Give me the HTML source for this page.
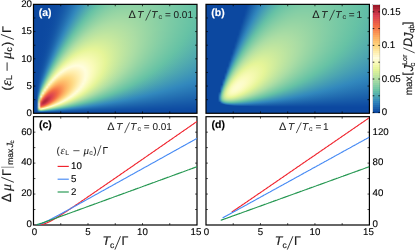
<!DOCTYPE html>
<html><head><meta charset="utf-8"><style>
html,body{margin:0;padding:0;background:#fff}
body{width:415px;height:250px;position:relative;overflow:hidden;font-family:"Liberation Sans",sans-serif}
.hm{position:absolute;overflow:hidden}
.hm div div{height:1px;width:100%}
svg{position:absolute;left:0;top:0;will-change:transform}
svg text{font-family:"Liberation Sans",sans-serif;text-rendering:geometricPrecision}
</style></head><body>
<div class="hm" style="left:33px;top:4px;width:164.0px;height:109.3px"><div style="width:164px;height:auto"><div style="background:linear-gradient(90deg,#0c48a0,#0c48a0,#0c48a0,#0c48a0,#0c48a0,#0c48a0,#0c48a0,#0c48a0,#0c49a0,#0d49a0,#0d4aa1,#0d4aa1,#0e4ca2,#104ea3,#1151a4,#1354a6,#1659a8,#195eaa,#1d64ad,#216bb0,#2572b3,#2979b6,#2e80ba,#3288bd,#388fba,#3e96b7,#449cb5,#4aa3b2,#50a9af,#55afad,#5ab4ab,#5ebaa9,#63bea7,#67c2a5,#6cc4a5,#70c6a5,#75c8a5,#78c9a5,#7ccaa5,#7ecca5,#81cda5,#83cda5,#85cea5,#87cfa5,#88cfa5,#89d0a4,#8ad0a4,#8bd0a4,#8bd1a4,#8cd1a4,#8cd1a4,#8cd1a4,#8bd1a4,#8bd0a4,#8ad0a4,#8ad0a4,#89d0a4,#88cfa5,#87cfa5,#86cfa5,#85cea5,#84cea5,#83cda5,#81cda5,#80cca5,#7fcca5,#7dcba5,#7ccaa5,#7acaa5,#79c9a5,#77c9a5,#76c8a5,#74c8a5,#73c7a5,#71c6a5,#70c6a5,#6ec5a5,#6cc5a5,#6bc4a5,#69c3a5,#68c3a5,#66c2a5,#65c1a5)"></div><div style="background:linear-gradient(90deg,#0c48a0,#0c48a0,#0c48a0,#0c48a0,#0c48a0,#0c48a0,#0c48a0,#0c48a0,#0c49a0,#0d49a0,#0d4aa1,#0e4ba1,#0e4ca2,#104ea3,#1251a4,#1455a6,#175aa8,#1a5fab,#1e65ad,#216cb0,#2673b4,#2a7bb7,#2f83bb,#348abc,#3a91b9,#4098b6,#469fb4,#4ca5b1,#52abae,#57b1ac,#5cb7aa,#60bca8,#65c1a6,#6ac3a5,#6fc5a5,#73c7a5,#77c9a5,#7bcaa5,#7ecba5,#81cca5,#83cda5,#85cea5,#87cfa5,#89d0a4,#8ad0a4,#8bd1a4,#8cd1a4,#8dd1a4,#8dd1a4,#8dd1a4,#8dd1a4,#8dd1a4,#8dd1a4,#8cd1a4,#8bd1a4,#8bd0a4,#8ad0a4,#89d0a4,#88cfa5,#87cfa5,#86cea5,#84cea5,#83cda5,#82cda5,#80cca5,#7fcca5,#7ecba5,#7ccba5,#7bcaa5,#79c9a5,#78c9a5,#76c8a5,#74c8a5,#73c7a5,#71c6a5,#70c6a5,#6ec5a5,#6dc5a5,#6bc4a5,#69c3a5,#68c3a5,#66c2a5,#65c1a5)"></div><div style="background:linear-gradient(90deg,#0c48a0,#0c48a0,#0c48a0,#0c48a0,#0c48a0,#0c48a0,#0c48a0,#0c48a0,#0c49a0,#0d49a1,#0d4aa1,#0e4ba1,#0f4ca2,#104fa3,#1252a4,#1456a6,#175ba9,#1b60ab,#1e67ae,#226eb1,#2775b4,#2b7db8,#3085bb,#368cbb,#3c93b8,#429ab5,#48a1b3,#4ea7b0,#54aead,#59b3ab,#5eb9a9,#63bea7,#67c2a5,#6cc5a5,#71c6a5,#76c8a5,#7acaa5,#7dcba5,#80cca5,#83cda5,#86cea5,#88cfa5,#89d0a4,#8bd0a4,#8cd1a4,#8dd1a4,#8ed2a4,#8ed2a4,#8ed2a4,#8fd2a4,#8ed2a4,#8ed2a4,#8ed2a4,#8dd1a4,#8dd1a4,#8cd1a4,#8bd0a4,#8ad0a4,#89d0a4,#88cfa5,#86cfa5,#85cea5,#84cea5,#82cda5,#81cda5,#80cca5,#7ecba5,#7ccba5,#7bcaa5,#79caa5,#78c9a5,#76c8a5,#75c8a5,#73c7a5,#71c6a5,#70c6a5,#6ec5a5,#6dc5a5,#6bc4a5,#69c3a5,#68c3a5,#66c2a5,#65c1a5)"></div><div style="background:linear-gradient(90deg,#0c48a0,#0c48a0,#0c48a0,#0c48a0,#0c48a0,#0c48a0,#0c48a0,#0c48a0,#0c49a0,#0d49a1,#0d4aa1,#0e4ba1,#0f4da2,#104fa3,#1252a5,#1557a7,#185ca9,#1b62ac,#1f68af,#236fb2,#2877b5,#2d7fb9,#3187bc,#388eba,#3e95b7,#449cb5,#4aa3b2,#50aaaf,#56b0ac,#5bb6aa,#60bba8,#65c1a6,#6ac4a5,#6fc6a5,#74c7a5,#78c9a5,#7ccba5,#80cca5,#83cda5,#85cea5,#88cfa5,#8ad0a4,#8bd1a4,#8dd1a4,#8ed2a4,#8fd2a4,#8fd2a4,#90d2a4,#90d2a4,#90d2a4,#90d2a4,#8fd2a4,#8fd2a4,#8ed2a4,#8ed1a4,#8dd1a4,#8cd1a4,#8bd0a4,#8ad0a4,#88cfa5,#87cfa5,#86cea5,#84cea5,#83cda5,#81cda5,#80cca5,#7ecca5,#7dcba5,#7bcaa5,#7acaa5,#78c9a5,#76c8a5,#75c8a5,#73c7a5,#72c7a5,#70c6a5,#6ec5a5,#6dc5a5,#6bc4a5,#69c3a5,#68c3a5,#66c2a5,#65c1a6)"></div><div style="background:linear-gradient(90deg,#0c48a0,#0c48a0,#0c48a0,#0c48a0,#0c48a0,#0c48a0,#0c48a0,#0c48a0,#0c49a0,#0d49a1,#0d4aa1,#0e4ba1,#0f4da2,#1150a3,#1353a5,#1558a7,#185da9,#1c63ac,#206aaf,#2471b3,#2979b6,#2e81ba,#3389bd,#3990ba,#4098b7,#469fb4,#4da6b1,#52acae,#58b2ab,#5db8a9,#62bea7,#67c2a5,#6dc5a5,#72c7a5,#77c9a5,#7bcaa5,#7fcca5,#82cda5,#85cea5,#88cfa5,#8ad0a4,#8cd1a4,#8ed1a4,#8fd2a4,#90d2a4,#91d3a4,#91d3a4,#91d3a4,#92d3a4,#91d3a4,#91d3a4,#91d3a4,#90d3a4,#8fd2a4,#8fd2a4,#8ed2a4,#8dd1a4,#8cd1a4,#8ad0a4,#89d0a4,#88cfa5,#86cfa5,#85cea5,#83cea5,#82cda5,#80cca5,#7fcca5,#7dcba5,#7ccaa5,#7acaa5,#78c9a5,#77c9a5,#75c8a5,#73c7a5,#72c7a5,#70c6a5,#6ec5a5,#6dc5a5,#6bc4a5,#69c3a5,#68c3a5,#66c2a5,#65c1a6)"></div><div style="background:linear-gradient(90deg,#0c48a0,#0c48a0,#0c48a0,#0c48a0,#0c48a0,#0c48a0,#0c48a0,#0c48a0,#0c49a0,#0d49a1,#0d4aa1,#0e4ba2,#0f4da2,#1150a4,#1354a5,#1658a7,#195eaa,#1d64ad,#216bb0,#2573b3,#2a7bb7,#2f83bb,#358bbc,#3b93b9,#429ab6,#49a1b3,#4fa8b0,#55afad,#5ab5aa,#60bba8,#65c0a6,#6ac4a5,#70c6a5,#75c8a5,#79caa5,#7ecba5,#81cda5,#85cea5,#88cfa5,#8ad0a4,#8cd1a4,#8ed2a4,#90d2a4,#91d3a4,#92d3a4,#92d3a4,#93d4a4,#93d4a4,#93d4a4,#93d4a4,#93d3a4,#92d3a4,#91d3a4,#91d3a4,#90d2a4,#8fd2a4,#8ed2a4,#8cd1a4,#8bd1a4,#8ad0a4,#88cfa5,#87cfa5,#86cea5,#84cea5,#82cda5,#81cca5,#7fcca5,#7ecba5,#7ccba5,#7acaa5,#79c9a5,#77c9a5,#75c8a5,#73c7a5,#72c7a5,#70c6a5,#6ec5a5,#6dc5a5,#6bc4a5,#69c3a5,#68c3a5,#66c2a5,#65c1a6)"></div><div style="background:linear-gradient(90deg,#0c48a0,#0c48a0,#0c48a0,#0c48a0,#0c48a0,#0c48a0,#0c48a0,#0c49a0,#0d49a0,#0d49a1,#0d4aa1,#0e4ca2,#0f4ea3,#1151a4,#1354a6,#1659a8,#1a5faa,#1e66ad,#226db1,#2775b4,#2b7db8,#3085bc,#378dbb,#3d95b8,#449cb5,#4ba4b2,#51abaf,#57b1ac,#5db7a9,#62bda7,#67c2a5,#6dc5a5,#73c7a5,#78c9a5,#7ccba5,#80cca5,#84cea5,#87cfa5,#8ad0a4,#8cd1a4,#8fd2a4,#90d3a4,#92d3a4,#93d4a4,#94d4a4,#94d4a4,#95d4a4,#95d4a4,#95d4a4,#94d4a4,#94d4a4,#93d4a4,#93d3a4,#92d3a4,#91d3a4,#90d2a4,#8ed2a4,#8dd1a4,#8cd1a4,#8bd0a4,#89d0a4,#88cfa5,#86cfa5,#84cea5,#83cda5,#81cda5,#80cca5,#7ecba5,#7ccba5,#7acaa5,#79c9a5,#77c9a5,#75c8a5,#74c7a5,#72c7a5,#70c6a5,#6ec5a5,#6dc5a5,#6bc4a5,#69c3a5,#68c3a5,#66c2a5,#65c1a6)"></div><div style="background:linear-gradient(90deg,#0c48a0,#0c48a0,#0c48a0,#0c48a0,#0c48a0,#0c48a0,#0c48a0,#0c49a0,#0d49a0,#0d49a1,#0d4aa1,#0e4ca2,#104ea3,#1151a4,#1455a6,#175aa8,#1a60ab,#1e67ae,#236fb2,#2877b5,#2d7fb9,#3288bd,#398fba,#4097b7,#469fb4,#4da6b1,#53adae,#59b4ab,#5fbaa8,#64c0a6,#6ac4a5,#70c6a5,#76c8a5,#7bcaa5,#7fcca5,#83cda5,#87cfa5,#8ad0a4,#8dd1a4,#8fd2a4,#91d3a4,#92d3a4,#94d4a4,#95d4a4,#95d5a4,#96d5a4,#96d5a4,#96d5a4,#96d5a4,#96d5a4,#95d4a4,#95d4a4,#94d4a4,#93d4a4,#92d3a4,#91d3a4,#8fd2a4,#8ed2a4,#8dd1a4,#8bd1a4,#8ad0a4,#88cfa5,#87cfa5,#85cea5,#83cda5,#82cda5,#80cca5,#7ecba5,#7ccba5,#7bcaa5,#79c9a5,#77c9a5,#75c8a5,#74c7a5,#72c7a5,#70c6a5,#6ec5a5,#6dc5a5,#6bc4a5,#69c3a5,#67c3a5,#66c2a5,#65c0a6)"></div><div style="background:linear-gradient(90deg,#0c48a0,#0c48a0,#0c48a0,#0c48a0,#0c48a0,#0c48a0,#0c48a0,#0c49a0,#0d49a0,#0d4aa1,#0e4ba1,#0e4ca2,#104ea3,#1252a4,#1456a6,#175ba9,#1b62ac,#1f69af,#2470b2,#2979b6,#2e81ba,#348abc,#3b92b9,#429ab6,#49a1b3,#4fa9b0,#56b0ad,#5cb6aa,#61bda7,#67c2a5,#6dc5a5,#73c7a5,#79c9a5,#7dcba5,#82cda5,#86cea5,#89d0a4,#8cd1a4,#8fd2a4,#91d3a4,#93d4a4,#95d4a4,#96d5a4,#97d5a4,#97d5a4,#98d5a4,#98d6a4,#98d5a4,#98d5a4,#97d5a4,#96d5a4,#96d5a4,#95d4a4,#94d4a4,#93d4a4,#92d3a4,#90d3a4,#8fd2a4,#8dd1a4,#8cd1a4,#8ad0a4,#89d0a4,#87cfa5,#85cea5,#84cea5,#82cda5,#80cca5,#7ecca5,#7dcba5,#7bcaa5,#79c9a5,#77c9a5,#75c8a5,#74c7a5,#72c7a5,#70c6a5,#6ec5a5,#6dc5a5,#6bc4a5,#69c3a5,#67c3a5,#66c2a5,#64c0a6)"></div><div style="background:linear-gradient(90deg,#0c48a0,#0c48a0,#0c48a0,#0c48a0,#0c48a0,#0c48a0,#0c48a0,#0c49a0,#0d49a0,#0d4aa1,#0e4ba1,#0f4ca2,#104fa3,#1252a5,#1557a7,#185ca9,#1c63ac,#206ab0,#2572b3,#2a7bb7,#2f83bb,#368cbb,#3d94b8,#449cb5,#4ba4b2,#52abae,#58b2ab,#5eb9a9,#64bfa6,#6ac4a5,#70c6a5,#76c8a5,#7ccaa5,#80cca5,#85cea5,#89d0a4,#8cd1a4,#8fd2a4,#91d3a4,#94d4a4,#95d5a4,#97d5a4,#98d6a4,#99d6a4,#99d6a4,#99d6a4,#9ad6a4,#99d6a4,#99d6a4,#98d6a4,#98d5a4,#97d5a4,#96d5a4,#95d4a4,#94d4a4,#92d3a4,#91d3a4,#90d2a4,#8ed2a4,#8cd1a4,#8bd0a4,#89d0a4,#88cfa5,#86cea5,#84cea5,#82cda5,#80cca5,#7fcca5,#7dcba5,#7bcaa5,#79caa5,#77c9a5,#76c8a5,#74c7a5,#72c7a5,#70c6a5,#6ec5a5,#6cc5a5,#6bc4a5,#69c3a5,#67c2a5,#66c2a5,#64c0a6)"></div><div style="background:linear-gradient(90deg,#0c48a0,#0c48a0,#0c48a0,#0c48a0,#0c48a0,#0c48a0,#0c48a0,#0c49a0,#0d49a0,#0d4aa1,#0e4ba1,#0f4da2,#104fa3,#1353a5,#1558a7,#195eaa,#1d64ad,#216cb0,#2674b4,#2b7db8,#3186bc,#388eba,#3f97b7,#469fb4,#4da6b0,#54aead,#5ab5aa,#60bca8,#66c2a5,#6dc5a5,#73c7a5,#79caa5,#7fcca5,#83cda5,#88cfa5,#8bd1a4,#8fd2a4,#92d3a4,#94d4a4,#96d5a4,#98d5a4,#99d6a4,#9ad6a4,#9bd7a4,#9bd7a4,#9bd7a4,#9bd7a4,#9bd7a4,#9ad7a4,#9ad6a4,#99d6a4,#98d6a4,#97d5a4,#96d5a4,#95d4a4,#93d4a4,#92d3a4,#90d3a4,#8fd2a4,#8dd1a4,#8bd1a4,#8ad0a4,#88cfa5,#86cfa5,#84cea5,#83cda5,#81cca5,#7fcca5,#7dcba5,#7bcaa5,#79caa5,#77c9a5,#76c8a5,#74c7a5,#72c7a5,#70c6a5,#6ec5a5,#6cc5a5,#6bc4a5,#69c3a5,#67c2a5,#65c1a5,#64c0a6)"></div><div style="background:linear-gradient(90deg,#0c48a0,#0c48a0,#0c48a0,#0c48a0,#0c48a0,#0c48a0,#0c48a0,#0c49a0,#0d49a1,#0d4aa1,#0e4ba1,#0f4da2,#1150a4,#1354a5,#1659a8,#1a5faa,#1e66ae,#226eb1,#2776b5,#2d7fb9,#3288bd,#3a91b9,#4199b6,#49a1b3,#50a9af,#56b1ac,#5db8a9,#63bfa6,#69c3a5,#70c6a5,#77c9a5,#7ccba5,#82cda5,#86cfa5,#8bd0a4,#8ed2a4,#91d3a4,#94d4a4,#96d5a4,#98d6a4,#9ad6a4,#9bd7a4,#9cd7a4,#9dd7a4,#9dd7a4,#9dd7a4,#9dd7a4,#9cd7a4,#9cd7a4,#9bd7a4,#9ad6a4,#99d6a4,#98d6a4,#97d5a4,#96d5a4,#94d4a4,#93d3a4,#91d3a4,#8fd2a4,#8ed2a4,#8cd1a4,#8ad0a4,#88cfa5,#87cfa5,#85cea5,#83cda5,#81cda5,#7fcca5,#7dcba5,#7bcaa5,#79caa5,#77c9a5,#76c8a5,#74c7a5,#72c7a5,#70c6a5,#6ec5a5,#6cc4a5,#6ac4a5,#69c3a5,#67c2a5,#65c1a5,#64c0a6)"></div><div style="background:linear-gradient(90deg,#0c48a0,#0c48a0,#0c48a0,#0c48a0,#0c48a0,#0c48a0,#0c48a0,#0c49a0,#0d49a1,#0d4aa1,#0e4ba1,#0f4da2,#1150a4,#1354a6,#175aa8,#1a60ab,#1f67ae,#2370b2,#2978b6,#2e81ba,#348bbc,#3c93b8,#449cb5,#4ba4b1,#52acae,#59b3ab,#5fbba8,#65c1a5,#6dc5a5,#74c7a5,#7acaa5,#80cca5,#85cea5,#89d0a4,#8dd1a4,#91d3a4,#94d4a4,#97d5a4,#99d6a4,#9bd7a4,#9cd7a4,#9dd8a4,#9ed8a4,#9ed8a4,#9fd8a4,#9fd8a4,#9ed8a4,#9ed8a4,#9dd8a4,#9cd7a4,#9bd7a4,#9ad6a4,#99d6a4,#98d6a4,#96d5a4,#95d4a4,#93d4a4,#92d3a4,#90d2a4,#8ed2a4,#8cd1a4,#8bd0a4,#89d0a4,#87cfa5,#85cea5,#83cda5,#81cda5,#7fcca5,#7dcba5,#7bcaa5,#79caa5,#77c9a5,#76c8a5,#74c7a5,#72c7a5,#70c6a5,#6ec5a5,#6cc4a5,#6ac4a5,#69c3a5,#67c2a5,#65c1a5,#64c0a6)"></div><div style="background:linear-gradient(90deg,#0c48a0,#0c48a0,#0c48a0,#0c48a0,#0c48a0,#0c48a0,#0c48a0,#0c49a0,#0d49a1,#0d4aa1,#0e4ca2,#0f4ea3,#1151a4,#1455a6,#175ba9,#1b61ac,#2069af,#2571b3,#2a7ab7,#3084bb,#368dbb,#3e96b7,#469eb4,#4da7b0,#55afad,#5cb6aa,#62bea7,#69c3a5,#70c6a5,#77c9a5,#7dcba5,#83cda5,#88cfa5,#8cd1a4,#90d3a4,#94d4a4,#97d5a4,#99d6a4,#9bd7a4,#9dd8a4,#9ed8a4,#9fd8a4,#a0d9a4,#a0d9a4,#a0d9a4,#a0d9a4,#a0d9a4,#9fd8a4,#9fd8a4,#9ed8a4,#9dd7a4,#9bd7a4,#9ad6a4,#99d6a4,#97d5a4,#96d5a4,#94d4a4,#92d3a4,#91d3a4,#8fd2a4,#8dd1a4,#8bd0a4,#89d0a4,#87cfa5,#85cea5,#83cda5,#81cda5,#7fcca5,#7dcba5,#7bcaa5,#79caa5,#77c9a5,#76c8a5,#74c7a5,#72c7a5,#70c6a5,#6ec5a5,#6cc4a5,#6ac4a5,#68c3a5,#66c2a5,#65c1a5,#64bfa6)"></div><div style="background:linear-gradient(90deg,#0c48a0,#0c48a0,#0c48a0,#0c48a0,#0c48a0,#0c48a0,#0c48a0,#0c49a0,#0d49a1,#0d4aa1,#0e4ca2,#104ea3,#1252a4,#1456a6,#185ca9,#1c63ac,#216bb0,#2673b4,#2b7db8,#3186bc,#398fba,#4198b6,#48a1b3,#50a9af,#57b2ac,#5eb9a9,#65c1a6,#6cc4a5,#74c7a5,#7acaa5,#81cca5,#86cfa5,#8bd1a4,#90d2a4,#93d4a4,#97d5a4,#9ad6a4,#9cd7a4,#9ed8a4,#9fd8a4,#a1d9a4,#a1d9a4,#a2d9a4,#a2daa4,#a2daa4,#a2d9a4,#a1d9a4,#a1d9a4,#a0d9a4,#9fd8a4,#9ed8a4,#9dd7a4,#9bd7a4,#9ad6a4,#98d6a4,#96d5a4,#95d4a4,#93d4a4,#91d3a4,#8fd2a4,#8dd1a4,#8bd1a4,#89d0a4,#87cfa5,#85cea5,#83cea5,#81cda5,#7fcca5,#7dcba5,#7bcaa5,#79caa5,#77c9a5,#75c8a5,#74c7a5,#72c7a5,#70c6a5,#6ec5a5,#6cc4a5,#6ac4a5,#68c3a5,#66c2a5,#65c1a6,#63bfa6)"></div><div style="background:linear-gradient(90deg,#0c48a0,#0c48a0,#0c48a0,#0c48a0,#0c48a0,#0c48a0,#0c48a0,#0d49a0,#0d49a1,#0d4aa1,#0e4ca2,#104fa3,#1252a5,#1557a7,#195daa,#1d64ad,#226db1,#2776b5,#2d7fb9,#3389bd,#3b92b9,#439bb5,#4ba4b2,#53acae,#5ab5ab,#61bca7,#68c3a5,#70c6a5,#77c9a5,#7ecba5,#84cea5,#89d0a4,#8ed2a4,#93d3a4,#96d5a4,#9ad6a4,#9cd7a4,#9ed8a4,#a0d9a4,#a2d9a4,#a3daa4,#a4daa4,#a4daa4,#a4daa4,#a4daa4,#a4daa4,#a3daa4,#a2daa4,#a1d9a4,#a0d9a4,#9fd8a4,#9ed8a4,#9cd7a4,#9bd7a4,#99d6a4,#97d5a4,#95d5a4,#94d4a4,#92d3a4,#90d2a4,#8ed2a4,#8cd1a4,#8ad0a4,#88cfa5,#86cea5,#84cea5,#82cda5,#80cca5,#7ecba5,#7bcaa5,#79caa5,#77c9a5,#75c8a5,#73c7a5,#71c6a5,#6fc6a5,#6ec5a5,#6cc4a5,#6ac3a5,#68c3a5,#66c2a5,#65c0a6,#63bfa6)"></div><div style="background:linear-gradient(90deg,#0c48a0,#0c48a0,#0c48a0,#0c48a0,#0c48a0,#0c48a0,#0c49a0,#0d49a0,#0d4aa1,#0e4ba1,#0f4ca2,#104fa3,#1253a5,#1558a7,#195eaa,#1e66ae,#236eb1,#2878b6,#2e82ba,#358bbc,#3d95b8,#459eb4,#4ea7b0,#55afad,#5db8a9,#64bfa6,#6bc4a5,#73c7a5,#7bcaa5,#81cda5,#87cfa5,#8dd1a4,#92d3a4,#96d5a4,#99d6a4,#9cd7a4,#9fd8a4,#a1d9a4,#a3daa4,#a4daa4,#a5dba4,#a6dba4,#a6dba4,#a6dba4,#a6dba4,#a5dba4,#a5daa4,#a4daa4,#a3daa4,#a1d9a4,#a0d9a4,#9fd8a4,#9dd8a4,#9bd7a4,#9ad6a4,#98d6a4,#96d5a4,#94d4a4,#92d3a4,#90d3a4,#8ed2a4,#8cd1a4,#8ad0a4,#88cfa5,#86cea5,#84cea5,#82cda5,#80cca5,#7ecba5,#7bcaa5,#79caa5,#77c9a5,#75c8a5,#73c7a5,#71c6a5,#6fc6a5,#6dc5a5,#6bc4a5,#69c3a5,#68c3a5,#66c2a5,#64c0a6,#63bfa6)"></div><div style="background:linear-gradient(90deg,#0c48a0,#0c48a0,#0c48a0,#0c48a0,#0c48a0,#0c48a0,#0c49a0,#0d49a0,#0d4aa1,#0e4ba1,#0f4da2,#1050a3,#1354a5,#1659a8,#1a60ab,#1f68ae,#2470b2,#2a7ab7,#3084bb,#378ebb,#4097b7,#48a1b3,#50aaaf,#58b2ab,#5fbba8,#67c2a5,#6fc6a5,#77c9a5,#7ecca5,#85cea5,#8bd0a4,#90d2a4,#95d4a4,#99d6a4,#9cd7a4,#9fd8a4,#a2d9a4,#a4daa4,#a5dba4,#a6dba4,#a7dca4,#a8dca4,#a8dca4,#a8dca4,#a7dca4,#a7dba4,#a6dba4,#a5dba4,#a4daa4,#a3daa4,#a1d9a4,#a0d9a4,#9ed8a4,#9cd7a4,#9ad7a4,#99d6a4,#97d5a4,#95d4a4,#93d3a4,#91d3a4,#8fd2a4,#8cd1a4,#8ad0a4,#88cfa5,#86cfa5,#84cea5,#82cda5,#80cca5,#7ecba5,#7bcaa5,#79caa5,#77c9a5,#75c8a5,#73c7a5,#71c6a5,#6fc6a5,#6dc5a5,#6bc4a5,#69c3a5,#67c3a5,#66c2a5,#64c0a6,#63bea6)"></div><div style="background:linear-gradient(90deg,#0c48a0,#0c48a0,#0c48a0,#0c48a0,#0c48a0,#0c48a0,#0c49a0,#0d49a0,#0d4aa1,#0e4ba1,#0f4da2,#1150a4,#1354a6,#175aa8,#1b61ab,#2069af,#2573b3,#2b7cb8,#3187bc,#3a90ba,#429ab6,#4ba4b2,#53adae,#5bb5aa,#62bea7,#6ac4a5,#73c7a5,#7bcaa5,#82cda5,#89d0a4,#8ed2a4,#93d4a4,#98d6a4,#9cd7a4,#9fd8a4,#a2daa4,#a4daa4,#a6dba4,#a8dca4,#a9dca4,#a9dca4,#aadda4,#aadda4,#aadca4,#a9dca4,#a8dca4,#a7dca4,#a6dba4,#a5dba4,#a4daa4,#a2daa4,#a1d9a4,#9fd8a4,#9dd8a4,#9bd7a4,#99d6a4,#97d5a4,#95d4a4,#93d4a4,#91d3a4,#8fd2a4,#8dd1a4,#8bd0a4,#88cfa5,#86cfa5,#84cea5,#82cda5,#80cca5,#7ecba5,#7bcaa5,#79caa5,#77c9a5,#75c8a5,#73c7a5,#71c6a5,#6fc5a5,#6dc5a5,#6bc4a5,#69c3a5,#67c2a5,#65c1a5,#64c0a6,#63bea7)"></div><div style="background:linear-gradient(90deg,#0c48a0,#0c48a0,#0c48a0,#0c48a0,#0c48a0,#0c48a0,#0c49a0,#0d49a0,#0d4aa1,#0e4ba1,#0f4da2,#1151a4,#1455a6,#175ba9,#1c63ac,#216bb0,#2775b4,#2d7fb9,#3389bc,#3c93b8,#459db4,#4da7b0,#56b0ad,#5eb9a9,#65c1a5,#6ec5a5,#77c9a5,#7fcca5,#86cea5,#8cd1a4,#92d3a4,#97d5a4,#9bd7a4,#9fd8a4,#a2daa4,#a5dba4,#a7dba4,#a9dca4,#aadda4,#abdda4,#abdda4,#acdda4,#acdda4,#abdda4,#abdda4,#aadda4,#a9dca4,#a8dca4,#a6dba4,#a5dba4,#a3daa4,#a1d9a4,#a0d9a4,#9ed8a4,#9cd7a4,#9ad6a4,#98d5a4,#96d5a4,#93d4a4,#91d3a4,#8fd2a4,#8dd1a4,#8bd0a4,#88cfa5,#86cfa5,#84cea5,#82cda5,#80cca5,#7dcba5,#7bcaa5,#79c9a5,#77c9a5,#75c8a5,#73c7a5,#71c6a5,#6fc5a5,#6dc5a5,#6bc4a5,#69c3a5,#67c2a5,#65c1a5,#64bfa6,#62bea7)"></div><div style="background:linear-gradient(90deg,#0c48a0,#0c48a0,#0c48a0,#0c48a0,#0c48a0,#0c48a0,#0c49a0,#0d49a1,#0d4aa1,#0e4ba2,#0f4ea3,#1151a4,#1456a6,#185ca9,#1d64ad,#226db1,#2877b5,#2e81ba,#368cbb,#3f96b7,#47a0b3,#50aaaf,#59b3ab,#61bca7,#69c3a5,#72c7a5,#7bcaa5,#82cda5,#89d0a4,#90d2a4,#95d5a4,#9ad6a4,#9fd8a4,#a2daa4,#a5dba4,#a8dca4,#aadda4,#abdda4,#acdea4,#addea4,#addea4,#addea4,#addea4,#addea4,#acdda4,#abdda4,#aadda4,#a9dca4,#a7dca4,#a6dba4,#a4daa4,#a2daa4,#a0d9a4,#9fd8a4,#9cd7a4,#9ad6a4,#98d6a4,#96d5a4,#94d4a4,#92d3a4,#8fd2a4,#8dd1a4,#8bd0a4,#89d0a4,#86cfa5,#84cea5,#82cda5,#80cca5,#7dcba5,#7bcaa5,#79c9a5,#77c9a5,#75c8a5,#73c7a5,#70c6a5,#6ec5a5,#6cc4a5,#6ac4a5,#68c3a5,#66c2a5,#65c1a6,#63bfa6,#62bda7)"></div><div style="background:linear-gradient(90deg,#0c48a0,#0c48a0,#0c48a0,#0c48a0,#0c48a0,#0c48a0,#0c49a0,#0d49a1,#0d4aa1,#0e4ca2,#104ea3,#1252a4,#1557a7,#195eaa,#1e66ae,#236fb2,#2979b6,#3084bb,#388fba,#4199b6,#4aa3b2,#53adae,#5cb6aa,#64bfa6,#6dc5a5,#76c8a5,#7fcca5,#86cfa5,#8dd1a4,#94d4a4,#99d6a4,#9ed8a4,#a2d9a4,#a5dba4,#a8dca4,#abdda4,#acdea4,#aedea3,#aedea3,#afdfa3,#afdfa3,#afdfa3,#afdfa3,#aedea3,#aedea3,#addea4,#acdda4,#aadda4,#a9dca4,#a7dba4,#a5dba4,#a3daa4,#a1d9a4,#9fd8a4,#9dd8a4,#9bd7a4,#99d6a4,#96d5a4,#94d4a4,#92d3a4,#90d2a4,#8dd1a4,#8bd0a4,#89d0a4,#86cfa5,#84cea5,#82cda5,#80cca5,#7dcba5,#7bcaa5,#79c9a5,#77c8a5,#74c8a5,#72c7a5,#70c6a5,#6ec5a5,#6cc4a5,#6ac4a5,#68c3a5,#66c2a5,#65c0a6,#63bfa6,#62bda7)"></div><div style="background:linear-gradient(90deg,#0c48a0,#0c48a0,#0c48a0,#0c48a0,#0c48a0,#0c48a0,#0c49a0,#0d49a1,#0d4aa1,#0e4ca2,#104fa3,#1253a5,#1658a7,#1a5fab,#1f68ae,#2571b3,#2b7cb7,#3187bd,#3a91b9,#449cb5,#4da6b1,#56b0ac,#5fbaa8,#67c2a5,#71c6a5,#7acaa5,#83cda5,#8ad0a4,#91d3a4,#97d5a4,#9dd7a4,#a1d9a4,#a5dba4,#a9dca4,#abdda4,#addea4,#afdea3,#b0dfa3,#b0dfa3,#b1dfa3,#b1dfa3,#b1dfa3,#b0dfa3,#b0dfa3,#afdfa3,#aedea3,#addea4,#abdda4,#aadda4,#a8dca4,#a6dba4,#a4daa4,#a2d9a4,#a0d9a4,#9ed8a4,#9bd7a4,#99d6a4,#97d5a4,#95d4a4,#92d3a4,#90d2a4,#8dd1a4,#8bd1a4,#89d0a4,#86cfa5,#84cea5,#82cda5,#7fcca5,#7dcba5,#7bcaa5,#79c9a5,#76c8a5,#74c8a5,#72c7a5,#70c6a5,#6ec5a5,#6cc4a5,#6ac3a5,#68c3a5,#66c2a5,#64c0a6,#63bea7,#61bda7)"></div><div style="background:linear-gradient(90deg,#0c48a0,#0c48a0,#0c48a0,#0c48a0,#0c48a0,#0c48a0,#0c49a0,#0d49a1,#0d4aa1,#0f4ca2,#104fa3,#1353a5,#1659a8,#1b61ab,#206aaf,#2674b4,#2c7eb9,#348abc,#3d94b8,#479fb3,#50a9af,#59b4ab,#62bda7,#6bc4a5,#75c8a5,#7ecca5,#87cfa5,#8ed2a4,#95d4a4,#9bd7a4,#a0d9a4,#a5dba4,#a9dca4,#acdda4,#aedea3,#b0dfa3,#b1dfa3,#b2e0a3,#b2e0a2,#b3e0a2,#b3e0a2,#b2e0a2,#b2e0a3,#b1dfa3,#b0dfa3,#afdfa3,#aedea3,#acdea4,#abdda4,#a9dca4,#a7dba4,#a5dba4,#a3daa4,#a0d9a4,#9ed8a4,#9cd7a4,#9ad6a4,#97d5a4,#95d4a4,#92d3a4,#90d2a4,#8ed1a4,#8bd1a4,#89d0a4,#86cfa5,#84cea5,#82cda5,#7fcca5,#7dcba5,#7bcaa5,#78c9a5,#76c8a5,#74c7a5,#72c7a5,#70c6a5,#6dc5a5,#6bc4a5,#69c3a5,#67c2a5,#65c1a5,#64c0a6,#62bea7,#61bca7)"></div><div style="background:linear-gradient(90deg,#0c48a0,#0c48a0,#0c48a0,#0c48a0,#0c48a0,#0c48a0,#0d49a0,#0d4aa1,#0e4ba1,#0f4da2,#1150a3,#1354a6,#175aa8,#1c62ac,#216cb0,#2776b5,#2e81ba,#368dbb,#4097b7,#4aa2b2,#53adae,#5cb7aa,#65c1a6,#6fc6a5,#79caa5,#83cda5,#8bd0a4,#92d3a4,#99d6a4,#9fd8a4,#a4daa4,#a8dca4,#acdda4,#aedea3,#b0dfa3,#b2e0a3,#b3e0a2,#b4e1a2,#b5e1a2,#b5e1a2,#b4e1a2,#b4e1a2,#b3e0a2,#b2e0a2,#b1e0a3,#b0dfa3,#afdfa3,#addea4,#acdda4,#aadda4,#a8dca4,#a6dba4,#a3daa4,#a1d9a4,#9fd8a4,#9cd7a4,#9ad6a4,#97d5a4,#95d4a4,#93d3a4,#90d2a4,#8ed2a4,#8bd1a4,#89d0a4,#86cfa5,#84cea5,#81cda5,#7fcca5,#7dcba5,#7acaa5,#78c9a5,#76c8a5,#74c7a5,#71c6a5,#6fc6a5,#6dc5a5,#6bc4a5,#69c3a5,#67c2a5,#65c1a5,#64bfa6,#62bea7,#61bca7)"></div><div style="background:linear-gradient(90deg,#0c48a0,#0c48a0,#0c48a0,#0c48a0,#0c48a0,#0c48a0,#0d49a0,#0d4aa1,#0e4ba1,#0f4da2,#1150a4,#1455a6,#185ca9,#1d64ad,#226eb1,#2978b6,#3084bb,#398fba,#439bb5,#4da6b1,#56b0ac,#5fbba8,#69c3a5,#74c7a5,#7ecba5,#87cfa5,#8fd2a4,#96d5a4,#9dd8a4,#a3daa4,#a8dca4,#acdda4,#afdea3,#b1dfa3,#b3e0a2,#b4e1a2,#b6e1a2,#b6e2a2,#b7e2a2,#b6e2a2,#b6e2a2,#b6e1a2,#b5e1a2,#b4e1a2,#b3e0a2,#b1e0a3,#b0dfa3,#aedea3,#addea4,#abdda4,#a9dca4,#a6dba4,#a4daa4,#a2d9a4,#9fd8a4,#9dd7a4,#9ad6a4,#98d5a4,#95d4a4,#93d3a4,#90d2a4,#8ed2a4,#8bd1a4,#89d0a4,#86cfa5,#84cea5,#81cda5,#7fcca5,#7ccba5,#7acaa5,#78c9a5,#75c8a5,#73c7a5,#71c6a5,#6fc5a5,#6dc5a5,#6ac4a5,#68c3a5,#66c2a5,#65c1a6,#63bfa6,#62bda7,#60bca8)"></div><div style="background:linear-gradient(90deg,#0c48a0,#0c48a0,#0c48a0,#0c48a0,#0c48a0,#0c48a0,#0d49a0,#0d4aa1,#0e4ba1,#0f4da2,#1151a4,#1456a6,#195daa,#1e66ad,#2470b2,#2a7bb7,#3187bd,#3b92b9,#469eb4,#50a9af,#59b4ab,#63bea7,#6dc5a5,#78c9a5,#82cda5,#8bd1a4,#93d4a4,#9bd7a4,#a1d9a4,#a7dba4,#abdda4,#afdfa3,#b2e0a3,#b4e1a2,#b6e1a2,#b7e2a2,#b8e2a1,#b8e2a1,#b8e2a1,#b8e2a1,#b8e2a1,#b7e2a2,#b6e2a2,#b5e1a2,#b4e1a2,#b2e0a2,#b1dfa3,#afdfa3,#addea4,#acdda4,#a9dca4,#a7dba4,#a5daa4,#a2daa4,#a0d9a4,#9dd8a4,#9ad7a4,#98d6a4,#95d5a4,#93d4a4,#90d3a4,#8ed2a4,#8bd1a4,#89d0a4,#86cfa5,#84cea5,#81cda5,#7fcca5,#7ccba5,#7acaa5,#77c9a5,#75c8a5,#73c7a5,#71c6a5,#6ec5a5,#6cc4a5,#6ac4a5,#68c3a5,#66c2a5,#64c0a6,#63bea6,#61bda7,#60bba8)"></div><div style="background:linear-gradient(90deg,#0c48a0,#0c48a0,#0c48a0,#0c48a0,#0c48a0,#0c49a0,#0d49a0,#0d4aa1,#0e4ba1,#0f4ea3,#1252a4,#1557a7,#195faa,#1f68ae,#2572b3,#2c7eb8,#348abc,#3e96b7,#49a1b3,#53adae,#5db8a9,#66c2a5,#72c7a5,#7dcba5,#87cfa5,#90d2a4,#98d5a4,#9fd8a4,#a5dba4,#aadda4,#aedea3,#b2e0a3,#b4e1a2,#b7e2a2,#b8e2a1,#b9e3a1,#bae3a1,#bae3a1,#bae3a1,#bae3a1,#bae3a1,#b9e3a1,#b8e2a1,#b6e2a2,#b5e1a2,#b4e0a2,#b2e0a3,#b0dfa3,#aedea3,#acdda4,#aadda4,#a8dca4,#a5dba4,#a3daa4,#a0d9a4,#9dd8a4,#9bd7a4,#98d6a4,#95d5a4,#93d4a4,#90d3a4,#8ed1a4,#8bd0a4,#88cfa5,#86cea5,#83cda5,#81cda5,#7ecca5,#7ccba5,#79caa5,#77c9a5,#75c8a5,#72c7a5,#70c6a5,#6ec5a5,#6cc4a5,#6ac3a5,#67c3a5,#65c1a5,#64c0a6,#62bea7,#61bca7,#5fbba8)"></div><div style="background:linear-gradient(90deg,#0c48a0,#0c48a0,#0c48a0,#0c48a0,#0c48a0,#0c49a0,#0d49a1,#0d4aa1,#0e4ca2,#104ea3,#1252a5,#1658a7,#1a60ab,#206aaf,#2675b4,#2e81ba,#368dbb,#4199b6,#4ca5b1,#56b0ac,#60bba8,#6bc4a5,#77c8a5,#81cda5,#8bd1a4,#94d4a4,#9cd7a4,#a3daa4,#a9dca4,#aedea3,#b2e0a3,#b5e1a2,#b7e2a2,#b9e3a1,#bbe3a1,#bce4a1,#bce4a0,#bce4a0,#bce4a0,#bce4a1,#bbe4a1,#bae3a1,#b9e3a1,#b8e2a1,#b6e2a2,#b5e1a2,#b3e0a2,#b1dfa3,#afdfa3,#addea4,#abdda4,#a8dca4,#a6dba4,#a3daa4,#a0d9a4,#9ed8a4,#9bd7a4,#98d6a4,#96d5a4,#93d4a4,#90d3a4,#8ed1a4,#8bd0a4,#88cfa5,#86cea5,#83cda5,#81cca5,#7ecba5,#7ccaa5,#79c9a5,#77c9a5,#74c8a5,#72c7a5,#70c6a5,#6dc5a5,#6bc4a5,#69c3a5,#67c2a5,#65c1a5,#63bfa6,#62bda7,#60bca8,#5fbaa8)"></div><div style="background:linear-gradient(90deg,#0c48a0,#0c48a0,#0c48a0,#0c48a0,#0c48a0,#0c49a0,#0d49a1,#0d4aa1,#0e4ca2,#104fa3,#1353a5,#1659a8,#1b62ac,#216cb0,#2877b5,#2f84bb,#3990ba,#449cb5,#4fa8b0,#5ab4ab,#64bfa6,#70c6a5,#7bcaa5,#86cfa5,#90d2a4,#99d6a4,#a1d9a4,#a7dca4,#addea4,#b1e0a3,#b5e1a2,#b8e2a1,#bae3a1,#bce4a1,#bde4a0,#bee5a0,#bee5a0,#bfe5a0,#bee5a0,#bee5a0,#bde4a0,#bce4a1,#bae3a1,#b9e3a1,#b7e2a1,#b6e1a2,#b4e1a2,#b2e0a3,#b0dfa3,#addea3,#abdda4,#a9dca4,#a6dba4,#a3daa4,#a1d9a4,#9ed8a4,#9bd7a4,#98d6a4,#96d5a4,#93d4a4,#90d2a4,#8dd1a4,#8bd0a4,#88cfa5,#85cea5,#83cda5,#80cca5,#7ecba5,#7bcaa5,#79c9a5,#76c8a5,#74c7a5,#72c7a5,#6fc6a5,#6dc5a5,#6bc4a5,#68c3a5,#66c2a5,#65c0a6,#63bfa6,#62bda7,#60bba8,#5fbaa8)"></div><div style="background:linear-gradient(90deg,#0c48a0,#0c48a0,#0c48a0,#0c48a0,#0c48a0,#0c49a0,#0d49a1,#0d4aa1,#0e4ca2,#104fa3,#1354a5,#175ba9,#1c64ac,#236eb1,#2a7ab7,#3187bd,#3c93b8,#47a0b3,#52acae,#5db8a9,#68c3a5,#74c8a5,#80cca5,#8bd0a4,#95d4a4,#9dd8a4,#a5dba4,#acdda4,#b0dfa3,#b5e1a2,#b8e2a1,#bbe3a1,#bde4a0,#bfe5a0,#c0e5a0,#c0e6a0,#c1e6a0,#c1e6a0,#c0e6a0,#bfe5a0,#bee5a0,#bde4a0,#bce4a1,#bae3a1,#b8e2a1,#b7e2a2,#b5e1a2,#b2e0a2,#b0dfa3,#aedea3,#acdda4,#a9dca4,#a6dba4,#a4daa4,#a1d9a4,#9ed8a4,#9bd7a4,#98d6a4,#96d5a4,#93d4a4,#90d2a4,#8dd1a4,#8bd0a4,#88cfa5,#85cea5,#83cda5,#80cca5,#7dcba5,#7bcaa5,#78c9a5,#76c8a5,#73c7a5,#71c6a5,#6fc5a5,#6cc5a5,#6ac4a5,#68c3a5,#66c2a5,#64c0a6,#63bea7,#61bca7,#60bba8,#5eb9a9)"></div><div style="background:linear-gradient(90deg,#0c48a0,#0c48a0,#0c48a0,#0c48a0,#0c48a0,#0c49a0,#0d49a1,#0d4aa1,#0f4ca2,#1150a4,#1455a6,#185ca9,#1d65ad,#2470b2,#2b7db8,#348abc,#3f97b7,#4ba3b2,#56b0ac,#61bca7,#6dc5a5,#79caa5,#85cea5,#90d2a4,#99d6a4,#a2d9a4,#aadca4,#afdfa3,#b4e1a2,#b8e2a1,#bbe4a1,#bee5a0,#c0e5a0,#c1e69f,#c2e69f,#c3e79f,#c3e79f,#c3e79f,#c2e69f,#c1e6a0,#c0e6a0,#bfe5a0,#bde4a0,#bbe4a1,#b9e3a1,#b7e2a1,#b5e1a2,#b3e0a2,#b1dfa3,#afdea3,#acdda4,#aadca4,#a7dba4,#a4daa4,#a1d9a4,#9ed8a4,#9bd7a4,#98d6a4,#96d5a4,#93d3a4,#90d2a4,#8dd1a4,#8ad0a4,#88cfa5,#85cea5,#82cda5,#80cca5,#7dcba5,#7acaa5,#78c9a5,#75c8a5,#73c7a5,#71c6a5,#6ec5a5,#6cc4a5,#6ac3a5,#67c3a5,#65c1a5,#64bfa6,#62bea7,#61bca7,#5fbaa8,#5eb9a9)"></div><div style="background:linear-gradient(90deg,#0c48a0,#0c48a0,#0c48a0,#0c48a0,#0c48a0,#0c49a0,#0d49a1,#0e4ba1,#0f4da2,#1150a4,#1456a6,#195eaa,#1f67ae,#2673b3,#2d80b9,#378dbb,#429ab5,#4ea7b0,#59b4ab,#64c0a6,#72c7a5,#7ecca5,#8ad0a4,#95d4a4,#9ed8a4,#a7dba4,#aedea3,#b3e0a2,#b8e2a1,#bbe4a1,#bee5a0,#c1e6a0,#c3e79f,#c4e79f,#c5e79f,#c5e89f,#c5e89f,#c4e79f,#c4e79f,#c3e79f,#c1e69f,#c0e6a0,#bee5a0,#bce4a0,#bae3a1,#b8e2a1,#b6e2a2,#b4e1a2,#b1e0a3,#afdfa3,#addea4,#aadda4,#a7dba4,#a4daa4,#a1d9a4,#9ed8a4,#9bd7a4,#98d6a4,#95d5a4,#93d3a4,#90d2a4,#8dd1a4,#8ad0a4,#87cfa5,#84cea5,#82cda5,#7fcca5,#7ccba5,#7acaa5,#77c9a5,#75c8a5,#72c7a5,#70c6a5,#6ec5a5,#6bc4a5,#69c3a5,#67c2a5,#65c1a6,#63bfa6,#62bda7,#60bba8,#5fbaa8,#5db8a9)"></div><div style="background:linear-gradient(90deg,#0c48a0,#0c48a0,#0c48a0,#0c48a0,#0c48a0,#0c49a0,#0d4aa1,#0e4ba1,#0f4da2,#1151a4,#1557a7,#1a5fab,#206aaf,#2776b5,#2f83bb,#3a91b9,#469eb4,#51abae,#5db8a9,#69c3a5,#77c9a5,#84cea5,#8fd2a4,#9ad6a4,#a3daa4,#acdda4,#b2e0a3,#b7e2a2,#bbe4a1,#bfe5a0,#c2e69f,#c4e79f,#c6e89f,#c7e89e,#c7e89e,#c7e89e,#c7e89e,#c6e89e,#c5e89f,#c4e79f,#c3e79f,#c1e69f,#bfe5a0,#bde4a0,#bbe4a1,#b9e3a1,#b7e2a2,#b4e1a2,#b2e0a3,#afdfa3,#addea4,#aadda4,#a7dca4,#a4daa4,#a1d9a4,#9ed8a4,#9bd7a4,#98d6a4,#95d4a4,#92d3a4,#8fd2a4,#8dd1a4,#8ad0a4,#87cfa5,#84cea5,#81cda5,#7fcca5,#7ccba5,#79caa5,#77c9a5,#74c8a5,#72c7a5,#6fc6a5,#6dc5a5,#6bc4a5,#68c3a5,#66c2a5,#64c0a6,#63bea6,#61bda7,#60bba8,#5eb9a9,#5db7a9)"></div><div style="background:linear-gradient(90deg,#0c48a0,#0c48a0,#0c48a0,#0c48a0,#0c48a0,#0d49a0,#0d4aa1,#0e4ba1,#0f4ea3,#1252a5,#1658a7,#1b61ab,#216cb0,#2979b6,#3186bc,#3d94b8,#49a2b2,#55afad,#61bca7,#6ec5a5,#7ccba5,#89d0a4,#95d4a4,#9fd8a4,#a8dca4,#b0dfa3,#b6e1a2,#bbe3a1,#bfe5a0,#c2e69f,#c5e89f,#c7e89e,#c8e99e,#c9e99e,#cae99e,#c9e99e,#c9e99e,#c8e99e,#c7e89e,#c6e89f,#c4e79f,#c2e79f,#c1e6a0,#bee5a0,#bce4a0,#bae3a1,#b7e2a1,#b5e1a2,#b2e0a2,#b0dfa3,#addea4,#abdda4,#a8dca4,#a4daa4,#a1d9a4,#9ed8a4,#9bd7a4,#98d6a4,#95d4a4,#92d3a4,#8fd2a4,#8cd1a4,#89d0a4,#86cfa5,#84cea5,#81cda5,#7ecba5,#7bcaa5,#79c9a5,#76c8a5,#74c7a5,#71c6a5,#6fc5a5,#6cc4a5,#6ac4a5,#68c3a5,#66c2a5,#64c0a6,#62bea7,#61bca7,#5fbaa8,#5db9a9,#5cb7aa)"></div><div style="background:linear-gradient(90deg,#0c48a0,#0c48a0,#0c48a0,#0c48a0,#0c48a0,#0d49a0,#0d4aa1,#0e4ba2,#104ea3,#1253a5,#165aa8,#1c63ac,#236eb1,#2b7cb7,#348abc,#4098b7,#4da6b1,#59b3ab,#65c1a5,#74c7a5,#82cda5,#8ed2a4,#9ad6a4,#a4daa4,#addea4,#b4e1a2,#bae3a1,#bee5a0,#c2e79f,#c6e89f,#c8e99e,#caea9e,#cbea9d,#ccea9d,#ccea9d,#ccea9d,#cbea9d,#caea9e,#c9e99e,#c7e99e,#c6e89f,#c4e79f,#c2e69f,#bfe5a0,#bde4a0,#bbe3a1,#b8e2a1,#b6e1a2,#b3e0a2,#b0dfa3,#aedea3,#abdda4,#a8dca4,#a4daa4,#a1d9a4,#9ed8a4,#9bd7a4,#98d6a4,#95d4a4,#92d3a4,#8fd2a4,#8cd1a4,#89d0a4,#86cfa5,#83cda5,#80cca5,#7ecba5,#7bcaa5,#78c9a5,#76c8a5,#73c7a5,#71c6a5,#6ec5a5,#6cc4a5,#69c3a5,#67c2a5,#65c1a5,#63bfa6,#62bda7,#60bba8,#5ebaa8,#5db8a9,#5bb6aa)"></div><div style="background:linear-gradient(90deg,#0c48a0,#0c48a0,#0c48a0,#0c48a0,#0c48a0,#0d49a0,#0d4aa1,#0e4ca2,#104fa3,#1354a5,#175ba9,#1d65ad,#2471b3,#2c7fb9,#378dbb,#439bb5,#50aaaf,#5db8a9,#6ac4a5,#79caa5,#87cfa5,#94d4a4,#9fd8a4,#aadca4,#b2e0a3,#b8e2a1,#bee5a0,#c2e69f,#c6e89e,#c9e99e,#cbea9d,#cdeb9d,#ceeb9d,#ceeb9d,#ceeb9d,#ceeb9d,#cdeb9d,#ccea9d,#caea9e,#c9e99e,#c7e89e,#c5e89f,#c3e79f,#c0e6a0,#bee5a0,#bbe4a1,#b9e3a1,#b6e1a2,#b3e0a2,#b1dfa3,#aedea3,#abdda4,#a8dca4,#a4daa4,#a1d9a4,#9ed8a4,#9bd7a4,#98d5a4,#95d4a4,#91d3a4,#8ed2a4,#8bd1a4,#88cfa5,#86cea5,#83cda5,#80cca5,#7dcba5,#7acaa5,#78c9a5,#75c8a5,#72c7a5,#70c6a5,#6dc5a5,#6bc4a5,#69c3a5,#66c2a5,#64c0a6,#63bea6,#61bda7,#5fbba8,#5eb9a9,#5cb7a9,#5bb6aa)"></div><div style="background:linear-gradient(90deg,#0c48a0,#0c48a0,#0c48a0,#0c48a0,#0c48a0,#0d49a0,#0d4aa1,#0e4ca2,#104fa3,#1455a6,#185da9,#1e67ae,#2674b4,#2f82ba,#3a91b9,#479fb3,#54aead,#61bca7,#70c6a5,#7fcca5,#8dd1a4,#9ad6a4,#a5dba4,#afdea3,#b6e1a2,#bce4a0,#c2e69f,#c6e89e,#cae99e,#cceb9d,#ceeb9d,#d0ec9d,#d1ec9c,#d1ec9c,#d1ec9c,#d0ec9c,#cfec9d,#ceeb9d,#ccea9d,#caea9e,#c8e99e,#c6e89f,#c4e79f,#c1e69f,#bfe5a0,#bce4a1,#b9e3a1,#b6e2a2,#b4e0a2,#b1dfa3,#aedea3,#abdda4,#a8dca4,#a4daa4,#a1d9a4,#9ed8a4,#9bd7a4,#97d5a4,#94d4a4,#91d3a4,#8ed2a4,#8bd0a4,#88cfa5,#85cea5,#82cda5,#7fcca5,#7ccba5,#7acaa5,#77c9a5,#74c8a5,#72c7a5,#6fc6a5,#6dc5a5,#6ac4a5,#68c3a5,#66c2a5,#64c0a6,#62bea7,#61bca8,#5fbaa8,#5db8a9,#5cb7aa,#5ab5aa)"></div><div style="background:linear-gradient(90deg,#0c48a0,#0c48a0,#0c48a0,#0c48a0,#0c48a0,#0d49a1,#0d4aa1,#0f4ca2,#1150a4,#1456a6,#195eaa,#2069af,#2877b5,#3186bc,#3d95b8,#4ba4b2,#58b3ab,#65c1a5,#75c8a5,#85cea5,#93d4a4,#9fd8a4,#abdda4,#b3e0a2,#bae3a1,#c1e6a0,#c6e89f,#caea9e,#cdeb9d,#d0ec9d,#d2ed9c,#d3ed9c,#d3ed9c,#d3ed9c,#d3ed9c,#d2ed9c,#d1ec9c,#cfec9d,#ceeb9d,#ccea9d,#c9e99e,#c7e89e,#c5e79f,#c2e69f,#bfe5a0,#bce4a0,#bae3a1,#b7e2a2,#b4e1a2,#b1dfa3,#aedea3,#abdda4,#a8dca4,#a4daa4,#a1d9a4,#9ed8a4,#9ad6a4,#97d5a4,#94d4a4,#91d3a4,#8ed1a4,#8ad0a4,#87cfa5,#84cea5,#81cda5,#7fcca5,#7ccba5,#79c9a5,#76c8a5,#74c7a5,#71c6a5,#6ec5a5,#6cc4a5,#69c3a5,#67c2a5,#65c1a5,#63bfa6,#62bda7,#60bba8,#5eb9a9,#5db8a9,#5bb6aa,#5ab4ab)"></div><div style="background:linear-gradient(90deg,#0c48a0,#0c48a0,#0c48a0,#0c48a0,#0c49a0,#0d49a1,#0d4aa1,#0f4da2,#1151a4,#1557a7,#1a60ab,#216cb0,#2a7ab7,#3389bc,#4198b6,#4fa8b0,#5cb7a9,#6bc4a5,#7bcaa5,#8bd0a4,#99d6a4,#a5dba4,#b0dfa3,#b8e2a1,#bfe5a0,#c5e89f,#caea9e,#ceeb9d,#d1ec9c,#d3ed9c,#d5ee9c,#d6ee9b,#d6ee9b,#d6ee9b,#d5ee9b,#d4ee9c,#d3ed9c,#d1ec9c,#cfec9d,#cdeb9d,#caea9e,#c8e99e,#c5e89f,#c3e79f,#c0e5a0,#bde4a0,#bae3a1,#b7e2a2,#b4e1a2,#b1dfa3,#aedea3,#abdda4,#a8dca4,#a4daa4,#a1d9a4,#9dd8a4,#9ad6a4,#97d5a4,#93d4a4,#90d3a4,#8dd1a4,#8ad0a4,#87cfa5,#84cea5,#81cda5,#7ecba5,#7bcaa5,#78c9a5,#76c8a5,#73c7a5,#70c6a5,#6ec5a5,#6bc4a5,#69c3a5,#66c2a5,#64c0a6,#63bea7,#61bca7,#5fbba8,#5eb9a9,#5cb7aa,#5ab5aa,#59b3ab)"></div><div style="background:linear-gradient(90deg,#0c48a0,#0c48a0,#0c48a0,#0c48a0,#0c49a0,#0d49a1,#0e4ba1,#0f4da2,#1251a4,#1658a7,#1b62ac,#236eb1,#2c7db8,#368dbb,#449db4,#53acae,#61bca7,#71c6a5,#82cda5,#91d3a4,#9fd8a4,#abdda4,#b5e1a2,#bde4a0,#c4e79f,#c9e99e,#ceeb9d,#d2ed9c,#d4ee9c,#d6ef9b,#d8ef9b,#d8ef9b,#d8f09b,#d8ef9b,#d7ef9b,#d6ee9b,#d4ee9c,#d2ed9c,#d0ec9c,#ceeb9d,#ccea9d,#c9e99e,#c6e89e,#c3e79f,#c0e6a0,#bde4a0,#bae3a1,#b7e2a1,#b4e1a2,#b1e0a3,#aedea3,#abdda4,#a7dca4,#a4daa4,#a0d9a4,#9dd8a4,#9ad6a4,#96d5a4,#93d4a4,#90d2a4,#8cd1a4,#89d0a4,#86cfa5,#83cda5,#80cca5,#7dcba5,#7acaa5,#78c9a5,#75c8a5,#72c7a5,#6fc6a5,#6dc5a5,#6ac4a5,#68c3a5,#66c2a5,#64c0a6,#62bea7,#60bca8,#5fbaa8,#5db8a9,#5bb6aa,#5ab4ab,#58b3ab)"></div><div style="background:linear-gradient(90deg,#0c48a0,#0c48a0,#0c48a0,#0c48a0,#0c49a0,#0d49a1,#0e4ba1,#0f4ea3,#1252a5,#175aa8,#1d64ad,#2471b3,#2e81ba,#3a91b9,#48a1b3,#57b1ac,#65c1a5,#77c9a5,#88cfa5,#97d5a4,#a5dba4,#b1dfa3,#bae3a1,#c2e69f,#c8e99e,#ceeb9d,#d2ed9c,#d6ee9b,#d8ef9b,#daf09a,#dbf09a,#dbf19a,#dbf19a,#daf09a,#d9f09b,#d8ef9b,#d6ef9b,#d4ee9c,#d2ed9c,#cfec9d,#cdeb9d,#caea9e,#c7e89e,#c4e79f,#c1e6a0,#bee5a0,#bbe3a1,#b8e2a1,#b4e1a2,#b1e0a3,#aedea3,#abdda4,#a7dca4,#a4daa4,#a0d9a4,#9dd7a4,#99d6a4,#96d5a4,#92d3a4,#8fd2a4,#8cd1a4,#89d0a4,#85cea5,#82cda5,#7fcca5,#7ccba5,#7acaa5,#77c9a5,#74c7a5,#71c6a5,#6fc5a5,#6cc4a5,#69c3a5,#67c2a5,#65c1a6,#63bfa6,#61bda7,#60bba8,#5eb9a9,#5cb7a9,#5bb5aa,#59b4ab,#58b2ac)"></div><div style="background:linear-gradient(90deg,#0c48a0,#0c48a0,#0c48a0,#0c48a0,#0c49a0,#0d4aa1,#0e4ba1,#104ea3,#1353a5,#175ba9,#1e66ae,#2674b4,#3084bb,#3d95b8,#4ca5b1,#5bb6aa,#6bc4a5,#7dcba5,#8ed2a4,#9ed8a4,#abdda4,#b6e1a2,#bfe5a0,#c6e89e,#cdeb9d,#d2ed9c,#d6ef9b,#d9f09b,#dcf19a,#ddf19a,#def29a,#def29a,#def29a,#ddf19a,#dbf19a,#daf09b,#d8ef9b,#d5ee9b,#d3ed9c,#d0ec9c,#ceeb9d,#cbea9e,#c8e99e,#c4e79f,#c1e69f,#bee5a0,#bbe3a1,#b8e2a1,#b4e1a2,#b1e0a3,#aedea3,#abdda4,#a7dba4,#a3daa4,#a0d9a4,#9cd7a4,#99d6a4,#95d4a4,#92d3a4,#8ed2a4,#8bd1a4,#88cfa5,#85cea5,#82cda5,#7fcca5,#7ccaa5,#79c9a5,#76c8a5,#73c7a5,#70c6a5,#6ec5a5,#6bc4a5,#69c3a5,#66c2a5,#64c0a6,#62bea7,#61bca7,#5fbaa8,#5db8a9,#5cb6aa,#5ab5ab,#58b3ab,#57b1ac)"></div><div style="background:linear-gradient(90deg,#0c48a0,#0c48a0,#0c48a0,#0c48a0,#0c49a0,#0d4aa1,#0e4ba2,#104fa3,#1354a6,#185da9,#1f69af,#2878b6,#3288bd,#4199b6,#51aaaf,#60bba8,#72c7a5,#84cea5,#95d4a4,#a4daa4,#b1dfa3,#bbe4a1,#c4e79f,#cbea9d,#d2ed9c,#d6ef9b,#daf09a,#ddf19a,#dff299,#e0f399,#e1f399,#e1f399,#e0f399,#dff299,#ddf19a,#dbf19a,#d9f09b,#d7ef9b,#d4ee9c,#d1ed9c,#ceeb9d,#cbea9d,#c8e99e,#c5e89f,#c2e69f,#bee5a0,#bbe4a1,#b8e2a1,#b4e1a2,#b1dfa3,#aedea3,#aadda4,#a7dba4,#a3daa4,#9fd8a4,#9cd7a4,#98d6a4,#95d4a4,#91d3a4,#8ed2a4,#8ad0a4,#87cfa5,#84cea5,#81cda5,#7ecba5,#7bcaa5,#78c9a5,#75c8a5,#72c7a5,#6fc6a5,#6dc5a5,#6ac4a5,#68c3a5,#65c1a5,#63bfa6,#62bda7,#60bba8,#5eb9a9,#5db7a9,#5bb6aa,#59b4ab,#58b2ac,#56b0ac)"></div><div style="background:linear-gradient(90deg,#0c48a0,#0c48a0,#0c48a0,#0c48a0,#0c49a0,#0d4aa1,#0e4ca2,#104fa3,#1455a6,#1a5faa,#216bb0,#2a7bb7,#368cbb,#459eb4,#55afad,#65c1a6,#78c9a5,#8bd0a4,#9cd7a4,#abdda4,#b7e2a2,#c1e6a0,#c9e99e,#d0ec9c,#d6ef9b,#dbf09a,#def29a,#e1f399,#e3f499,#e4f499,#e4f498,#e3f499,#e2f499,#e1f399,#dff299,#ddf19a,#dbf09a,#d8ef9b,#d5ee9b,#d2ed9c,#cfec9d,#ccea9d,#c9e99e,#c5e89f,#c2e69f,#bfe5a0,#bbe4a1,#b8e2a1,#b4e1a2,#b1dfa3,#aedea3,#aadda4,#a6dba4,#a2daa4,#9fd8a4,#9bd7a4,#97d5a4,#94d4a4,#90d3a4,#8dd1a4,#8ad0a4,#86cfa5,#83cda5,#80cca5,#7dcba5,#7acaa5,#77c9a5,#74c8a5,#71c6a5,#6fc5a5,#6cc4a5,#69c3a5,#67c2a5,#65c0a6,#63bea7,#61bca7,#5fbaa8,#5db8a9,#5cb7aa,#5ab5aa,#59b3ab,#57b1ac,#55b0ad)"></div><div style="background:linear-gradient(90deg,#0c48a0,#0c48a0,#0c48a0,#0c48a0,#0d49a0,#0d4aa1,#0e4ca2,#1150a4,#1557a7,#1b61ab,#236eb1,#2c7fb9,#3a90ba,#4aa2b2,#5ab4ab,#6bc4a5,#7fcca5,#92d3a4,#a3daa4,#b1dfa3,#bce4a0,#c6e89e,#cfeb9d,#d5ee9b,#dbf09a,#dff299,#e2f499,#e5f498,#e6f598,#e6f599,#e6f599,#e6f598,#e5f498,#e3f499,#e1f399,#dff299,#dcf19a,#d9f09b,#d6ef9b,#d3ed9c,#d0ec9c,#cdeb9d,#c9e99e,#c6e89f,#c2e69f,#bfe5a0,#bbe4a1,#b8e2a1,#b4e1a2,#b1dfa3,#addea4,#aadca4,#a6dba4,#a2d9a4,#9ed8a4,#9ad6a4,#97d5a4,#93d4a4,#90d2a4,#8cd1a4,#89d0a4,#85cea5,#82cda5,#7fcca5,#7ccba5,#79c9a5,#76c8a5,#73c7a5,#70c6a5,#6ec5a5,#6bc4a5,#68c3a5,#66c2a5,#64c0a6,#62bea7,#60bba8,#5ebaa9,#5db8a9,#5bb6aa,#59b4ab,#58b2ac,#56b0ac,#55afad)"></div><div style="background:linear-gradient(90deg,#0c48a0,#0c48a0,#0c48a0,#0c48a0,#0d49a0,#0d4aa1,#0f4da2,#1151a4,#1658a7,#1c63ac,#2571b3,#2f83bb,#3d95b8,#4ea7b0,#5fbaa8,#72c7a5,#86cfa5,#99d6a4,#aadda4,#b7e2a2,#c2e69f,#ccea9d,#d4ee9c,#daf09a,#e0f299,#e4f498,#e6f598,#e7f59a,#e8f69b,#e8f69c,#e8f69b,#e7f59a,#e7f599,#e5f598,#e3f499,#e0f399,#ddf29a,#daf09a,#d7ef9b,#d4ee9c,#d1ec9c,#cdeb9d,#cae99e,#c6e89f,#c2e69f,#bfe5a0,#bbe4a1,#b7e2a1,#b4e1a2,#b0dfa3,#addea4,#a9dca4,#a5dba4,#a1d9a4,#9dd8a4,#9ad6a4,#96d5a4,#92d3a4,#8fd2a4,#8bd1a4,#88cfa5,#85cea5,#81cda5,#7ecba5,#7bcaa5,#78c9a5,#75c8a5,#72c7a5,#6fc6a5,#6cc5a5,#6ac3a5,#67c2a5,#65c1a6,#63bfa6,#61bda7,#5fbba8,#5eb9a9,#5cb7aa,#5ab5aa,#59b3ab,#57b1ac,#55b0ad,#54aead)"></div><div style="background:linear-gradient(90deg,#0c48a0,#0c48a0,#0c48a0,#0c48a0,#0d49a0,#0d4aa1,#0f4da2,#1252a4,#165aa8,#1d65ad,#2775b4,#3187bd,#4299b6,#53acae,#64bfa6,#79c9a5,#8ed1a4,#a0d9a4,#b0dfa3,#bde4a0,#c8e99e,#d1ed9c,#d9f09b,#dff299,#e4f498,#e7f59a,#e9f69c,#e9f69e,#eaf69f,#eaf69f,#e9f69e,#e9f69d,#e8f69b,#e7f599,#e5f498,#e2f399,#dff299,#dcf19a,#d8ef9b,#d5ee9c,#d1ed9c,#cdeb9d,#caea9e,#c6e89e,#c2e79f,#bfe5a0,#bbe3a1,#b7e2a2,#b4e1a2,#b0dfa3,#acdea4,#a9dca4,#a5daa4,#a1d9a4,#9dd7a4,#99d6a4,#95d4a4,#91d3a4,#8ed2a4,#8ad0a4,#87cfa5,#84cea5,#80cca5,#7dcba5,#7acaa5,#77c9a5,#74c7a5,#71c6a5,#6ec5a5,#6bc4a5,#69c3a5,#66c2a5,#64c0a6,#62bea7,#60bca8,#5fbaa8,#5db8a9,#5bb6aa,#59b4ab,#58b2ac,#56b0ac,#55afad,#53adae)"></div><div style="background:linear-gradient(90deg,#0c48a0,#0c48a0,#0c48a0,#0c48a0,#0d49a1,#0e4ba1,#0f4da2,#1253a5,#175ba9,#1f68ae,#2978b6,#358bbc,#469eb4,#58b2ac,#6ac4a5,#80cca5,#95d4a4,#a8dca4,#b7e2a2,#c3e79f,#ceeb9d,#d7ef9b,#dff29a,#e4f498,#e8f69b,#eaf69e,#ebf6a0,#ebf7a1,#ecf7a2,#ecf7a1,#ebf6a0,#eaf69f,#e9f69d,#e8f59b,#e6f598,#e3f499,#e0f399,#dcf19a,#d9f09b,#d5ee9b,#d2ed9c,#ceeb9d,#caea9e,#c6e89e,#c2e69f,#bfe5a0,#bbe3a1,#b7e2a2,#b3e0a2,#b0dfa3,#acdda4,#a8dca4,#a4daa4,#a0d9a4,#9cd7a4,#98d6a4,#94d4a4,#91d3a4,#8dd1a4,#89d0a4,#86cea5,#83cda5,#7fcca5,#7ccba5,#79c9a5,#76c8a5,#73c7a5,#70c6a5,#6dc5a5,#6ac4a5,#68c3a5,#65c1a5,#63bfa6,#61bda7,#5fbba8,#5eb9a9,#5cb7aa,#5ab5aa,#59b3ab,#57b1ac,#55afad,#54aead,#52acae)"></div><div style="background:linear-gradient(90deg,#0c48a0,#0c48a0,#0c48a0,#0c48a0,#0d49a1,#0e4ba1,#104ea3,#1354a5,#195daa,#216bb0,#2b7cb8,#3990ba,#4aa3b2,#5db8a9,#71c6a5,#88cfa5,#9dd7a4,#afdfa3,#bde4a0,#caea9e,#d4ee9c,#ddf19a,#e4f498,#e8f69b,#eaf69f,#ecf7a2,#edf7a4,#eef7a5,#eef7a5,#edf7a4,#ecf7a3,#ebf7a1,#eaf69f,#e9f69c,#e7f59a,#e4f498,#e1f399,#ddf19a,#daf09b,#d6ee9b,#d2ed9c,#ceeb9d,#caea9e,#c6e89e,#c2e69f,#bee5a0,#bae3a1,#b7e2a2,#b3e0a2,#afdfa3,#abdda4,#a7dca4,#a3daa4,#9fd8a4,#9bd7a4,#97d5a4,#93d4a4,#90d2a4,#8cd1a4,#88cfa5,#85cea5,#81cda5,#7ecba5,#7bcaa5,#78c9a5,#75c8a5,#72c7a5,#6fc5a5,#6cc4a5,#69c3a5,#66c2a5,#64c0a6,#62bea7,#60bca8,#5fbaa8,#5db8a9,#5bb6aa,#59b4ab,#58b2ac,#56b0ac,#54aead,#53adae,#51abaf)"></div><div style="background:linear-gradient(90deg,#0c48a0,#0c48a0,#0c48a0,#0c48a0,#0d49a1,#0e4ba1,#104fa3,#1455a6,#1a5fab,#226eb1,#2d80b9,#3d94b8,#4fa9af,#62bea7,#79c9a5,#90d2a4,#a5dba4,#b6e1a2,#c4e79f,#d0ec9c,#daf09a,#e3f499,#e8f69b,#ebf6a0,#edf7a4,#eef8a6,#eff8a8,#eff8a8,#eff8a8,#eff8a7,#eef7a5,#edf7a3,#ebf7a1,#eaf69e,#e8f69b,#e6f598,#e2f399,#def29a,#daf09a,#d6ef9b,#d2ed9c,#ceeb9d,#caea9e,#c6e89e,#c2e69f,#bee5a0,#bae3a1,#b6e2a2,#b2e0a3,#afdea3,#abdda4,#a6dba4,#a2daa4,#9ed8a4,#9ad6a4,#96d5a4,#92d3a4,#8fd2a4,#8bd0a4,#87cfa5,#84cea5,#80cca5,#7dcba5,#7acaa5,#77c8a5,#73c7a5,#70c6a5,#6ec5a5,#6bc4a5,#68c3a5,#65c1a5,#63bfa6,#61bda7,#60bba8,#5eb9a9,#5cb7aa,#5ab5aa,#58b3ab,#57b1ac,#55afad,#54adae,#52acae,#51aaaf)"></div><div style="background:linear-gradient(90deg,#0c48a0,#0c48a0,#0c48a0,#0c48a0,#0d4aa1,#0e4ba2,#104fa3,#1456a6,#1b61ac,#2471b3,#3085bc,#4199b6,#55aead,#68c3a5,#81cda5,#98d6a4,#addea4,#bde4a0,#cbea9e,#d7ef9b,#e1f399,#e7f59a,#ebf6a0,#eef7a5,#f0f8a8,#f1f8aa,#f1f8ab,#f1f8ab,#f1f8ab,#f0f8a9,#eff8a8,#eef7a5,#ecf7a2,#eaf69f,#e8f69c,#e6f599,#e3f499,#dff299,#dbf09a,#d7ef9b,#d2ed9c,#ceeb9d,#caea9e,#c6e89f,#c2e69f,#bee5a0,#bae3a1,#b6e1a2,#b2e0a3,#aedea3,#aadda4,#a6dba4,#a1d9a4,#9dd8a4,#99d6a4,#95d4a4,#91d3a4,#8dd1a4,#8ad0a4,#86cfa5,#83cda5,#7fcca5,#7ccba5,#79c9a5,#75c8a5,#72c7a5,#6fc6a5,#6cc4a5,#69c3a5,#67c2a5,#64c0a6,#62bea7,#61bca8,#5fbaa8,#5db8a9,#5bb6aa,#59b4ab,#58b2ac,#56b0ac,#54aead,#53acae,#51abaf,#50a9af)"></div><div style="background:linear-gradient(90deg,#0c48a0,#0c48a0,#0c48a0,#0c48a0,#0d4aa1,#0e4ca2,#1150a4,#1558a7,#1d64ad,#2775b4,#3389bc,#469eb4,#5ab5ab,#70c6a5,#89d0a4,#a1d9a4,#b4e1a2,#c4e79f,#d2ed9c,#ddf19a,#e6f599,#ebf6a0,#eef7a6,#f0f8aa,#f2f9ad,#f3f9ae,#f3f9af,#f3f9af,#f3f9ae,#f2f9ac,#f0f8aa,#eff8a7,#edf7a4,#ebf7a1,#e9f69d,#e7f59a,#e4f498,#dff299,#dbf19a,#d7ef9b,#d3ed9c,#ceeb9d,#caea9e,#c6e89f,#c1e69f,#bde4a0,#b9e3a1,#b5e1a2,#b1dfa3,#addea4,#a9dca4,#a5daa4,#a0d9a4,#9cd7a4,#98d6a4,#94d4a4,#90d2a4,#8cd1a4,#88cfa5,#85cea5,#81cda5,#7ecba5,#7bcaa5,#77c9a5,#74c8a5,#71c6a5,#6ec5a5,#6bc4a5,#68c3a5,#66c1a5,#63bfa6,#61bda7,#60bba8,#5eb9a9,#5cb7aa,#5ab5ab,#58b3ab,#57b1ac,#55afad,#53adae,#52abae,#50aaaf,#4fa8b0)"></div><div style="background:linear-gradient(90deg,#0c48a0,#0c48a0,#0c48a0,#0c48a0,#0d4aa1,#0f4ca2,#1151a4,#1659a8,#1e67ae,#2979b6,#378ebb,#4ba4b1,#60bba8,#79c9a5,#92d3a4,#aadca4,#bce4a1,#cbea9d,#d9f09b,#e4f498,#eaf69f,#eef7a6,#f1f8ab,#f3f9af,#f5f9b1,#f5fab2,#f6fab2,#f5fab2,#f4f9b0,#f3f9ae,#f2f9ac,#f0f8a9,#eef7a6,#ecf7a2,#eaf69e,#e7f59a,#e4f498,#e0f299,#dbf19a,#d7ef9b,#d3ed9c,#ceeb9d,#cae99e,#c5e89f,#c1e6a0,#bde4a0,#b8e2a1,#b4e1a2,#b0dfa3,#acdea4,#a8dca4,#a4daa4,#9fd8a4,#9bd7a4,#97d5a4,#93d4a4,#8fd2a4,#8bd0a4,#87cfa5,#84cea5,#80cca5,#7dcba5,#79caa5,#76c8a5,#73c7a5,#70c6a5,#6dc5a5,#6ac3a5,#67c2a5,#65c0a6,#62bea7,#60bca8,#5fbaa8,#5db8a9,#5bb6aa,#59b4ab,#57b2ac,#56b0ad,#54aead,#52acae,#51aaaf,#4fa9af,#4ea7b0)"></div><div style="background:linear-gradient(90deg,#0c48a0,#0c48a0,#0c48a0,#0c48a0,#0d4aa1,#0f4da2,#1252a4,#175ba9,#206aaf,#2b7db8,#3c93b8,#51aaaf,#66c2a5,#81cda5,#9bd7a4,#b2e0a3,#c3e79f,#d3ed9c,#e0f399,#e9f69d,#eef7a5,#f1f8ab,#f4f9b0,#f6fab3,#f7fab5,#f8fab6,#f8fab6,#f7fab5,#f6fab3,#f4f9b1,#f3f9ae,#f1f8ab,#eff8a7,#edf7a3,#eaf69f,#e8f69b,#e5f498,#e0f399,#dcf19a,#d7ef9b,#d2ed9c,#ceeb9d,#c9e99e,#c5e89f,#c0e6a0,#bce4a1,#b8e2a1,#b4e0a2,#afdfa3,#abdda4,#a7dba4,#a2daa4,#9ed8a4,#9ad6a4,#96d5a4,#91d3a4,#8ed1a4,#8ad0a4,#86cea5,#82cda5,#7fcca5,#7bcaa5,#78c9a5,#75c8a5,#71c6a5,#6ec5a5,#6bc4a5,#68c3a5,#66c2a5,#63bfa6,#61bda7,#5fbba8,#5eb9a9,#5cb6aa,#5ab4ab,#58b2ab,#56b0ac,#55afad,#53adae,#51abaf,#50a9af,#4ea8b0,#4da6b1)"></div><div style="background:linear-gradient(90deg,#0c48a0,#0c48a0,#0c48a0,#0c48a0,#0d4aa1,#0f4da2,#1253a5,#195daa,#226db1,#2e82ba,#4198b6,#56b0ac,#6ec5a5,#8ad0a4,#a4daa4,#b9e3a1,#cbea9d,#dbf09a,#e7f599,#edf7a3,#f1f8ab,#f5f9b1,#f7fab5,#f9fbb8,#fafbb9,#fafbba,#f9fbb9,#f9fbb8,#f7fab6,#f6fab3,#f4f9b0,#f2f9ac,#f0f8a8,#edf7a4,#ebf6a0,#e8f69c,#e5f598,#e0f399,#dcf19a,#d7ef9b,#d2ed9c,#ceeb9d,#c9e99e,#c4e79f,#c0e5a0,#bbe4a1,#b7e2a2,#b3e0a2,#afdea3,#aadda4,#a6dba4,#a1d9a4,#9dd7a4,#98d6a4,#94d4a4,#90d2a4,#8cd1a4,#88cfa5,#84cea5,#81cca5,#7dcba5,#7acaa5,#76c8a5,#73c7a5,#70c6a5,#6dc5a5,#6ac3a5,#67c2a5,#64c0a6,#62bea7,#60bca8,#5eb9a9,#5cb7a9,#5bb5aa,#59b3ab,#57b1ac,#55afad,#54adae,#52acae,#50aaaf,#4fa8b0,#4da6b0,#4ca5b1)"></div><div style="background:linear-gradient(90deg,#0c48a0,#0c48a0,#0c48a0,#0c48a0,#0d4aa1,#0f4ea3,#1354a6,#1a5fab,#2471b2,#3187bc,#469eb4,#5cb7aa,#77c9a5,#93d4a4,#addea3,#c2e69f,#d3ed9c,#e2f399,#ebf6a0,#f0f8aa,#f5f9b1,#f8fab7,#fafbba,#fafbbe,#fbfbbf,#fbfbbf,#fafbbd,#fafbbb,#f9fbb8,#f7fab5,#f5f9b1,#f3f9ae,#f0f8a9,#eef7a5,#ebf7a1,#e8f69c,#e5f598,#e1f399,#dcf19a,#d7ef9b,#d2ed9c,#cdeb9d,#c8e99e,#c4e79f,#bfe5a0,#bbe3a1,#b6e2a2,#b2e0a3,#aedea3,#a9dca4,#a4daa4,#a0d9a4,#9bd7a4,#97d5a4,#93d4a4,#8fd2a4,#8bd0a4,#87cfa5,#83cda5,#7fcca5,#7ccba5,#78c9a5,#75c8a5,#72c7a5,#6ec5a5,#6bc4a5,#68c3a5,#65c1a5,#63bfa6,#61bda7,#5fbaa8,#5db8a9,#5bb6aa,#59b4ab,#58b2ac,#56b0ac,#54aead,#53acae,#51aaaf,#4fa9af,#4ea7b0,#4ca5b1,#4ba4b2)"></div><div style="background:linear-gradient(90deg,#0c48a0,#0c48a0,#0c48a0,#0c49a0,#0e4ba1,#104ea3,#1456a6,#1b62ac,#2675b4,#358cbb,#4ba4b1,#63bea7,#80cca5,#9dd8a4,#b6e1a2,#caea9e,#dcf19a,#e8f69c,#eff8a7,#f4f9b0,#f8fbb7,#fafbbd,#fbfbc1,#fbfcc4,#fbfcc5,#fbfcc4,#fbfbc2,#fbfbbe,#fafbba,#f8fab7,#f6fab3,#f3f9af,#f1f8aa,#eef7a6,#ebf7a1,#e9f69c,#e6f598,#e0f399,#dbf19a,#d6ef9b,#d1ed9c,#cceb9d,#c8e99e,#c3e79f,#bee5a0,#bae3a1,#b5e1a2,#b1dfa3,#acdea4,#a8dca4,#a3daa4,#9ed8a4,#9ad6a4,#96d5a4,#91d3a4,#8dd1a4,#89d0a4,#85cea5,#81cda5,#7ecba5,#7acaa5,#77c9a5,#73c7a5,#70c6a5,#6dc5a5,#6ac3a5,#67c2a5,#64c0a6,#62bea7,#60bba8,#5eb9a9,#5cb7aa,#5ab5aa,#58b3ab,#57b1ac,#55afad,#53adae,#51abae,#50a9af,#4ea8b0,#4da6b1,#4ba4b1,#4aa3b2)"></div><div style="background:linear-gradient(90deg,#0c48a0,#0c48a0,#0c48a0,#0c49a0,#0e4ba1,#104fa3,#1557a7,#1d65ad,#2979b6,#3a91b9,#51abaf,#6ac4a5,#8ad0a4,#a7dca4,#bfe5a0,#d3ed9c,#e4f498,#edf7a4,#f3f9ae,#f8fab7,#fbfbbf,#fbfcc5,#fcfcc8,#fcfcca,#fcfcca,#fcfcc9,#fcfcc6,#fbfbc2,#fafbbd,#f9fbb9,#f7fab4,#f4f9b0,#f1f8ab,#eff8a7,#ecf7a2,#e9f69d,#e6f598,#e0f399,#dbf19a,#d6ee9b,#d1ec9c,#ccea9d,#c7e89e,#c2e69f,#bde4a0,#b9e3a1,#b4e1a2,#b0dfa3,#abdda4,#a6dba4,#a2d9a4,#9dd8a4,#98d6a4,#94d4a4,#90d2a4,#8cd1a4,#88cfa5,#84cea5,#80cca5,#7ccba5,#79c9a5,#75c8a5,#72c7a5,#6ec5a5,#6bc4a5,#68c3a5,#65c1a5,#63bfa6,#61bca7,#5fbaa8,#5db8a9,#5bb6aa,#59b4ab,#57b1ac,#55afad,#54aead,#52acae,#50aaaf,#4fa8b0,#4da6b0,#4ca5b1,#4aa3b2,#49a1b3)"></div><div style="background:linear-gradient(90deg,#0c48a0,#0c48a0,#0c48a0,#0c49a0,#0e4ba2,#1150a4,#1659a8,#1f68ae,#2c7eb8,#3f97b7,#58b2ac,#74c7a5,#94d4a4,#b1dfa3,#c8e99e,#dcf19a,#eaf69e,#f1f8ab,#f7fab6,#fbfbbf,#fcfcc7,#fdfccc,#fdfccf,#fdfcd0,#fdfccf,#fdfccd,#fcfcca,#fcfcc5,#fbfbc0,#fafbba,#f7fab6,#f5f9b1,#f2f9ac,#eff8a7,#ecf7a2,#e9f69d,#e5f598,#e0f399,#dbf09a,#d5ee9b,#d0ec9c,#cbea9d,#c6e89f,#c1e6a0,#bce4a1,#b7e2a1,#b3e0a2,#aedea3,#aadda4,#a5dba4,#a0d9a4,#9bd7a4,#97d5a4,#92d3a4,#8ed2a4,#8ad0a4,#86cea5,#82cda5,#7ecba5,#7acaa5,#77c9a5,#73c7a5,#70c6a5,#6dc5a5,#6ac3a5,#66c2a5,#64c0a6,#62bda7,#60bba8,#5eb9a9,#5cb7aa,#5ab4ab,#58b2ac,#56b0ac,#54aead,#53acae,#51aaaf,#4fa9b0,#4ea7b0,#4ca5b1,#4ba3b2,#49a2b2,#48a0b3)"></div><div style="background:linear-gradient(90deg,#0c48a0,#0c48a0,#0c48a0,#0c49a0,#0e4ca2,#1151a4,#175ba9,#216bb0,#2f83bb,#459db4,#5eb9a9,#7ecba5,#9fd8a4,#bae3a1,#d1ed9c,#e5f498,#eef8a6,#f6fab3,#fbfbbe,#fcfcc8,#fdfccf,#fefcd4,#fefdd6,#fefdd6,#fefcd4,#fdfcd2,#fdfccd,#fcfcc8,#fbfbc3,#fafbbc,#f8fab7,#f5fab2,#f2f9ad,#eff8a7,#ecf7a2,#e9f69d,#e5f598,#e0f299,#daf09a,#d5ee9c,#cfec9d,#caea9e,#c5e89f,#c0e6a0,#bbe4a1,#b6e2a2,#b2e0a3,#addea4,#a8dca4,#a3daa4,#9ed8a4,#9ad6a4,#95d4a4,#91d3a4,#8cd1a4,#88cfa5,#84cea5,#80cca5,#7ccba5,#79c9a5,#75c8a5,#72c7a5,#6ec5a5,#6bc4a5,#68c3a5,#65c1a5,#63bea6,#61bca7,#5ebaa8,#5cb7a9,#5ab5aa,#59b3ab,#57b1ac,#55afad,#53adae,#51abaf,#50a9af,#4ea7b0,#4ca5b1,#4ba4b2,#49a2b2,#48a0b3,#479fb4)"></div><div style="background:linear-gradient(90deg,#0c48a0,#0c48a0,#0c48a0,#0d49a0,#0e4ca2,#1252a4,#185daa,#236fb2,#3288bd,#4ba4b1,#65c1a5,#88cfa5,#aadda4,#c4e79f,#dbf09a,#ebf6a0,#f3f9af,#fafbbb,#fcfcc8,#fdfcd2,#fefdd8,#fffddb,#fffddc,#fffddc,#fefdd9,#fefdd6,#fdfcd1,#fcfccb,#fcfcc5,#fbfbbe,#f9fbb8,#f6fab2,#f2f9ad,#eff8a7,#ecf7a2,#e9f69c,#e5f498,#dff299,#d9f09b,#d4ee9c,#ceeb9d,#c9e99e,#c4e79f,#bfe5a0,#bae3a1,#b5e1a2,#b0dfa3,#acdda4,#a7dba4,#a2d9a4,#9dd7a4,#98d6a4,#93d4a4,#8fd2a4,#8bd0a4,#86cfa5,#82cda5,#7ecca5,#7bcaa5,#77c9a5,#73c7a5,#70c6a5,#6cc5a5,#69c3a5,#66c2a5,#64bfa6,#61bda7,#5fbba8,#5db8a9,#5bb6aa,#59b4ab,#57b2ac,#55afad,#54adae,#52abae,#50aaaf,#4ea8b0,#4da6b1,#4ba4b1,#4aa2b2,#48a1b3,#479fb3,#459eb4)"></div><div style="background:linear-gradient(90deg,#0c48a0,#0c48a0,#0c48a0,#0d49a0,#0f4da2,#1353a5,#1a60ab,#2674b4,#378eba,#51abae,#6fc6a5,#94d4a4,#b4e1a2,#ceeb9d,#e5f498,#f0f8a9,#f8fbb7,#fcfcc6,#fdfcd2,#fffddb,#fffcdc,#fffcd9,#fffbd9,#fffcdb,#fffdde,#fefdda,#fefcd4,#fdfcce,#fcfcc7,#fbfbc0,#f9fbb9,#f6fab3,#f3f9ad,#eff8a7,#ecf7a2,#e8f69c,#e4f498,#def29a,#d8f09b,#d3ed9c,#cdeb9d,#c8e99e,#c3e79f,#bde4a0,#b8e2a1,#b3e0a2,#afdfa3,#aadda4,#a5dba4,#a0d9a4,#9bd7a4,#96d5a4,#91d3a4,#8dd1a4,#89d0a4,#84cea5,#80cca5,#7ccba5,#79c9a5,#75c8a5,#71c6a5,#6ec5a5,#6bc4a5,#67c3a5,#65c0a6,#62bea7,#60bba8,#5eb9a9,#5cb7aa,#5ab4ab,#58b2ac,#56b0ac,#54aead,#52acae,#51aaaf,#4fa8b0,#4da6b0,#4ca5b1,#4aa3b2,#49a1b3,#47a0b3,#469eb4,#449cb5)"></div><div style="background:linear-gradient(90deg,#0c48a0,#0c48a0,#0c48a0,#0d49a1,#0f4da2,#1354a6,#1c62ac,#2978b6,#3d94b8,#58b3ab,#7acaa5,#9fd8a4,#bee5a0,#d8ef9b,#ebf6a0,#f5fab2,#fbfbc2,#fdfcd1,#fffddc,#fffbd8,#fffad3,#fff9d1,#fff9d2,#fffad5,#fffcd9,#fffddd,#fefdd7,#fdfcd0,#fcfcc9,#fbfbc1,#fafbb9,#f6fab3,#f3f9ad,#eff8a7,#ebf7a1,#e8f69b,#e3f499,#ddf19a,#d7ef9b,#d2ed9c,#ccea9d,#c7e89e,#c1e69f,#bce4a1,#b7e2a2,#b2e0a3,#addea4,#a8dca4,#a3daa4,#9ed8a4,#99d6a4,#94d4a4,#8fd2a4,#8bd0a4,#87cfa5,#82cda5,#7ecca5,#7acaa5,#77c9a5,#73c7a5,#6fc6a5,#6cc4a5,#69c3a5,#66c1a5,#63bfa6,#61bca7,#5fbaa8,#5db7a9,#5ab5aa,#58b3ab,#56b1ac,#55afad,#53adae,#51abaf,#4fa9b0,#4ea7b0,#4ca5b1,#4aa3b2,#49a1b2,#47a0b3,#469eb4,#449db4,#439bb5)"></div><div style="background:linear-gradient(90deg,#0c48a0,#0c48a0,#0c48a0,#0d49a1,#104ea3,#1456a6,#1e66ad,#2c7eb8,#439bb5,#60bba8,#85cea5,#abdda4,#c9e99e,#e3f499,#f1f8aa,#fafbbc,#fdfcce,#fffddd,#fffad5,#fff8ce,#fff7ca,#fff7ca,#fff8cc,#fff9cf,#fffad5,#fffcdb,#fefdda,#fdfcd2,#fcfcca,#fbfbc2,#fafbba,#f6fab3,#f2f9ad,#eff8a7,#ebf7a1,#e8f59b,#e2f499,#dcf19a,#d6ef9b,#d0ec9c,#cbea9e,#c5e89f,#c0e5a0,#bae3a1,#b5e1a2,#b0dfa3,#abdda4,#a6dba4,#a1d9a4,#9cd7a4,#97d5a4,#92d3a4,#8dd1a4,#89d0a4,#84cea5,#80cca5,#7ccba5,#78c9a5,#75c8a5,#71c6a5,#6dc5a5,#6ac4a5,#67c2a5,#64c0a6,#62bda7,#5fbba8,#5db8a9,#5bb6aa,#59b4ab,#57b1ac,#55afad,#53adae,#51abaf,#50a9af,#4ea7b0,#4ca5b1,#4ba3b2,#49a2b2,#48a0b3,#469eb4,#459db4,#439bb5,#429ab6)"></div><div style="background:linear-gradient(90deg,#0c48a0,#0c48a0,#0c48a0,#0d4aa1,#104fa3,#1558a7,#2069af,#2f84bb,#4aa2b2,#69c3a5,#91d3a4,#b6e2a2,#d4ee9c,#eaf6a0,#f7fab4,#fcfcc9,#fffddb,#fffad3,#fff7ca,#fff5c4,#fff5c2,#fff5c3,#fff6c6,#fff7ca,#fff9d0,#fffbd8,#fffddc,#fefcd4,#fcfccb,#fbfbc3,#fafbba,#f6fab3,#f2f9ad,#eef8a6,#ebf6a0,#e7f59a,#e1f399,#dbf19a,#d5ee9b,#cfec9d,#c9e99e,#c3e79f,#bee5a0,#b9e3a1,#b3e0a2,#aedea3,#a9dca4,#a4daa4,#9fd8a4,#99d6a4,#95d4a4,#90d2a4,#8bd1a4,#87cfa5,#82cda5,#7ecba5,#7acaa5,#76c8a5,#72c7a5,#6fc5a5,#6bc4a5,#68c3a5,#65c1a6,#62bea7,#60bba8,#5eb9a9,#5cb7aa,#5ab4ab,#58b2ac,#56b0ad,#54aead,#52abae,#50a9af,#4ea8b0,#4da6b1,#4ba4b1,#49a2b2,#48a0b3,#469fb4,#459db4,#439bb5,#429ab6,#4198b6)"></div><div style="background:linear-gradient(90deg,#0c48a0,#0c48a0,#0c48a0,#0d4aa1,#1050a3,#175aa8,#226db1,#348abc,#51aaaf,#74c7a5,#9ed8a4,#c2e69f,#e0f299,#f1f8aa,#fbfbc0,#fefdd6,#fffad4,#fff6c7,#fff4bf,#fff3bb,#fff2ba,#fff3bc,#fff4c0,#fff6c6,#fff8cd,#fffad5,#fffdde,#fefdd5,#fdfccc,#fbfcc3,#fafbba,#f6fab3,#f2f9ac,#eef7a6,#eaf69f,#e6f599,#e0f399,#daf09b,#d3ed9c,#cdeb9d,#c7e99e,#c2e69f,#bce4a1,#b7e2a2,#b2e0a3,#addea4,#a7dba4,#a2d9a4,#9cd7a4,#97d5a4,#92d3a4,#8dd1a4,#89d0a4,#84cea5,#80cca5,#7ccba5,#78c9a5,#74c7a5,#70c6a5,#6dc5a5,#69c3a5,#66c2a5,#63bfa6,#61bca7,#5fbaa8,#5cb7a9,#5ab5aa,#58b2ab,#56b0ac,#54aead,#52acae,#50aaaf,#4fa8b0,#4da6b1,#4ba4b1,#4aa2b2,#48a1b3,#469fb4,#459db4,#449cb5,#429ab6,#4198b6,#3f97b7)"></div><div style="background:linear-gradient(90deg,#0c48a0,#0c48a0,#0c48a0,#0d4aa1,#1151a4,#185ca9,#2572b3,#3990ba,#58b3ab,#80cca5,#acdda4,#ceeb9d,#e9f69d,#f7fab5,#fdfccf,#fffbd8,#fff6c7,#fff3bb,#fff1b5,#fff0b2,#fff0b2,#fff1b5,#fff2ba,#fff4c1,#fff7c9,#fffad2,#fffcdc,#fefdd6,#fdfccd,#fbfcc3,#fafbb9,#f6fab2,#f1f8ac,#edf7a5,#eaf69e,#e5f598,#dff299,#d8ef9b,#d2ed9c,#ccea9d,#c6e89f,#c0e5a0,#bae3a1,#b5e1a2,#b0dfa3,#aadda4,#a5dba4,#9fd8a4,#9ad6a4,#95d4a4,#90d2a4,#8bd0a4,#86cfa5,#82cda5,#7ecba5,#79caa5,#75c8a5,#72c7a5,#6ec5a5,#6ac4a5,#67c2a5,#64c0a6,#62bda7,#5fbaa8,#5db8a9,#5bb5aa,#59b3ab,#57b1ac,#55afad,#53acae,#51aaaf,#4fa8b0,#4da6b0,#4ba4b1,#4aa2b2,#48a1b3,#479fb3,#459db4,#449cb5,#429ab6,#4199b6,#3f97b7,#3e96b7)"></div><div style="background:linear-gradient(90deg,#0c48a0,#0c48a0,#0c48a0,#0d4aa1,#1252a4,#1a5faa,#2877b5,#4097b7,#61bca7,#8dd1a4,#b8e2a1,#daf09a,#f0f8a9,#fbfcc3,#fffdde,#fff7c9,#fff2ba,#ffefb0,#ffedac,#ffecaa,#ffedac,#ffefb0,#fff1b5,#fff3bd,#fff6c6,#fff9d0,#fffcdb,#fefdd7,#fdfccd,#fbfbc3,#f9fbb9,#f5fab2,#f1f8ab,#edf7a4,#e9f69d,#e4f498,#ddf19a,#d6ef9b,#d0ec9c,#cae99e,#c4e79f,#bee5a0,#b8e2a1,#b3e0a2,#addea4,#a8dca4,#a2daa4,#9dd7a4,#97d5a4,#92d3a4,#8dd1a4,#88cfa5,#84cea5,#7fcca5,#7bcaa5,#77c9a5,#73c7a5,#6fc6a5,#6cc4a5,#68c3a5,#65c1a6,#62bea7,#60bba8,#5eb9a9,#5bb6aa,#59b4ab,#57b1ac,#55afad,#53adae,#51abaf,#4fa9b0,#4da7b0,#4ca5b1,#4aa3b2,#48a1b3,#479fb3,#459db4,#449cb5,#429ab6,#4199b6,#3f97b7,#3e96b7,#3d94b8)"></div><div style="background:linear-gradient(90deg,#0c48a0,#0c48a0,#0c48a0,#0e4ba1,#1353a5,#1c62ac,#2b7db8,#479fb3,#6bc4a5,#9bd7a4,#c4e79f,#e7f599,#f7fab5,#fefcd3,#fff8ce,#fff2ba,#ffeead,#ffeaa6,#ffe8a3,#ffe9a3,#ffeaa6,#ffecab,#fff0b1,#fff2ba,#fff5c4,#fff8ce,#fffcda,#fefdd7,#fdfccd,#fbfbc2,#f9fbb8,#f5f9b1,#f0f8a9,#ecf7a2,#e8f69b,#e2f399,#dbf19a,#d4ee9c,#ceeb9d,#c8e99e,#c2e69f,#bce4a1,#b6e1a2,#b0dfa3,#abdda4,#a5dba4,#a0d9a4,#9ad6a4,#95d4a4,#90d2a4,#8bd0a4,#86cea5,#81cda5,#7dcba5,#79c9a5,#74c8a5,#71c6a5,#6dc5a5,#69c3a5,#66c2a5,#63bfa6,#61bca8,#5eb9a9,#5cb7aa,#5ab4ab,#57b2ac,#55afad,#53adae,#51abaf,#4fa9af,#4ea7b0,#4ca5b1,#4aa3b2,#48a1b3,#479fb3,#459db4,#449cb5,#429ab5,#4199b6,#3f97b7,#3e96b7,#3d94b8,#3c93b9)"></div><div style="background:linear-gradient(90deg,#0c48a0,#0c48a0,#0c48a0,#0e4ba1,#1355a6,#1e66ae,#2f83bb,#4fa8b0,#78c9a5,#aadda4,#d2ed9c,#eef7a6,#fbfcc5,#fffbd8,#fff3be,#ffedac,#ffe8a2,#ffe59c,#ffe49b,#ffe59c,#ffe7a0,#ffeaa6,#ffeeae,#fff1b7,#fff5c2,#fff8cd,#fffcd9,#fefdd7,#fdfccc,#fbfbc1,#f8fbb7,#f4f9af,#eff8a8,#ebf7a1,#e7f599,#e0f399,#d9f09b,#d2ed9c,#ccea9d,#c5e89f,#bfe5a0,#b9e3a1,#b4e0a2,#aedea3,#a8dca4,#a2daa4,#9dd7a4,#97d5a4,#92d3a4,#8dd1a4,#88cfa5,#83cda5,#7fcca5,#7acaa5,#76c8a5,#72c7a5,#6ec5a5,#6ac4a5,#67c2a5,#64bfa6,#61bda7,#5fbaa8,#5cb7a9,#5ab5ab,#58b2ac,#56b0ad,#54adad,#52abae,#50a9af,#4ea7b0,#4ca5b1,#4aa3b2,#49a1b3,#479fb3,#459eb4,#449cb5,#429ab5,#4199b6,#3f97b7,#3e95b7,#3d94b8,#3b93b9,#3a91b9)"></div><div style="background:linear-gradient(90deg,#0c48a0,#0c48a0,#0c48a0,#0e4ba2,#1556a7,#206aaf,#348abc,#57b1ac,#86cfa5,#b7e2a1,#e0f299,#f6fab3,#fefdd7,#fff6c5,#ffeeae,#ffe7a0,#fee297,#fee093,#fee093,#fee296,#ffe49b,#ffe8a2,#ffecab,#fff1b4,#fff4c0,#fff8cd,#fffcd9,#fefdd7,#fcfccb,#fbfbc0,#f8fab6,#f3f9ae,#eef8a6,#eaf69f,#e5f598,#def29a,#d7ef9b,#d0ec9c,#c9e99e,#c3e79f,#bde4a0,#b7e2a2,#b1dfa3,#acdda4,#a5dba4,#9fd8a4,#9ad6a4,#94d4a4,#8fd2a4,#8ad0a4,#85cea5,#80cca5,#7ccba5,#77c9a5,#73c7a5,#6fc6a5,#6bc4a5,#67c3a5,#64c0a6,#62bda7,#5fbaa8,#5db8a9,#5ab5aa,#58b3ab,#56b0ac,#54aead,#52acae,#50a9af,#4ea7b0,#4ca5b1,#4aa3b2,#49a1b3,#479fb3,#459eb4,#449cb5,#429ab6,#4198b6,#3f97b7,#3e95b7,#3d94b8,#3b92b9,#3a91b9,#3990ba)"></div><div style="background:linear-gradient(90deg,#0c48a0,#0c48a0,#0c48a0,#0e4ca2,#1659a7,#236fb2,#3b92b9,#61bca8,#95d4a4,#c6e89f,#ebf6a0,#fbfcc4,#fffad2,#fff0b3,#ffe7a0,#fee193,#fedd8c,#fedc8a,#fedd8b,#fedf90,#fee296,#ffe69f,#ffeba8,#fff0b3,#fff4bf,#fff8cc,#fffcda,#fefdd6,#fcfcca,#fbfbbe,#f7fab4,#f2f9ac,#edf7a4,#e9f69d,#e3f499,#dcf19a,#d4ee9c,#cdeb9d,#c7e89e,#c0e6a0,#bae3a1,#b4e1a2,#aedea3,#a9dca4,#a2daa4,#9cd7a4,#97d5a4,#91d3a4,#8cd1a4,#87cfa5,#82cda5,#7dcba5,#79c9a5,#74c8a5,#70c6a5,#6cc4a5,#68c3a5,#65c1a5,#62bea7,#60bba8,#5db8a9,#5bb6aa,#59b3ab,#56b0ac,#54aead,#52acae,#50aaaf,#4ea7b0,#4ca5b1,#4aa3b2,#49a1b3,#479fb3,#459eb4,#449cb5,#429ab6,#4198b6,#3f97b7,#3e95b8,#3c94b8,#3b92b9,#3a91b9,#398fba,#378eba)"></div><div style="background:linear-gradient(90deg,#0c48a0,#0c48a0,#0c48a0,#0f4ca2,#175ba9,#2674b4,#429ab5,#6cc4a5,#a5dba4,#d4ee9c,#f3f9ae,#fefdd7,#fff4be,#ffe9a3,#fee092,#fedb87,#fed882,#fed881,#fed984,#fedc8a,#fee092,#ffe59c,#ffeaa6,#fff0b1,#fff4bf,#fff8cd,#fffcdb,#fefcd4,#fcfcc8,#fafbbb,#f6fab3,#f1f8aa,#ecf7a2,#e7f59a,#e1f399,#d9f09b,#d2ed9c,#cbea9e,#c4e79f,#bde5a0,#b7e2a2,#b1e0a3,#acdda4,#a5dba4,#9fd8a4,#99d6a4,#93d4a4,#8ed2a4,#89d0a4,#84cea5,#7fcca5,#7acaa5,#76c8a5,#71c6a5,#6dc5a5,#69c3a5,#66c2a5,#63bfa6,#60bca8,#5eb9a9,#5bb6aa,#59b3ab,#57b1ac,#54aead,#52acae,#50aaaf,#4ea7b0,#4ca5b1,#4aa3b2,#49a1b3,#479fb3,#459db4,#449cb5,#429ab6,#4198b6,#3f97b7,#3e95b8,#3c93b8,#3b92b9,#3a91b9,#388fba,#378ebb,#368dbb)"></div><div style="background:linear-gradient(90deg,#0c48a0,#0c48a0,#0c48a0,#0f4da2,#195eaa,#2a7bb7,#4ba4b2,#7bcaa5,#b5e1a2,#e4f498,#fbfbbf,#fff9cf,#ffecab,#fee193,#fed984,#fed47e,#fed27c,#fed37d,#fed67f,#feda85,#fede8e,#ffe499,#ffe9a5,#ffefb1,#fff4bf,#fff8ce,#fffddc,#fdfcd2,#fcfcc5,#f9fbb9,#f4f9b0,#eff8a8,#ebf6a0,#e6f598,#def29a,#d6ef9b,#cfec9d,#c8e99e,#c1e6a0,#bae3a1,#b4e1a2,#aedea3,#a8dca4,#a2d9a4,#9cd7a4,#96d5a4,#90d2a4,#8bd0a4,#85cea5,#80cca5,#7ccaa5,#77c9a5,#73c7a5,#6ec5a5,#6ac4a5,#66c2a5,#63bfa6,#61bca7,#5eb9a9,#5cb6aa,#59b4ab,#57b1ac,#55afad,#52acae,#50aaaf,#4ea8b0,#4ca5b1,#4aa3b2,#49a1b3,#479fb3,#459db4,#449cb5,#429ab6,#4098b6,#3f96b7,#3d95b8,#3c93b8,#3b92b9,#3990ba,#388fba,#378ebb,#368cbb,#358bbc)"></div><div style="background:linear-gradient(90deg,#0c48a0,#0c48a0,#0c48a0,#0f4ea3,#1b61ab,#2e82ba,#54aead,#8bd1a4,#c5e79f,#eef7a6,#fefcd5,#fff2b9,#fee399,#fed984,#fed17b,#fecc78,#fecc77,#fece79,#fed27c,#fed881,#fedd8c,#fee397,#ffe9a4,#ffefb1,#fff4c0,#fff9cf,#fffddd,#fdfcd0,#fbfbc3,#f8fab7,#f3f9ae,#eef7a5,#e9f69d,#e3f499,#dbf09a,#d3ed9c,#ccea9d,#c5e79f,#bee5a0,#b7e2a1,#b1dfa3,#abdda4,#a4daa4,#9ed8a4,#98d6a4,#92d3a4,#8cd1a4,#87cfa5,#82cda5,#7dcba5,#78c9a5,#74c7a5,#6fc6a5,#6bc4a5,#67c2a5,#64c0a6,#61bda7,#5ebaa8,#5cb7aa,#59b4ab,#57b1ac,#55afad,#52acae,#50aaaf,#4ea8b0,#4ca5b1,#4aa3b2,#49a1b3,#479fb3,#459db4,#439bb5,#429ab6,#4098b6,#3f96b7,#3d95b8,#3c93b8,#3a91b9,#3990ba,#388fba,#378dbb,#358cbb,#348bbc,#3389bc)"></div><div style="background:linear-gradient(90deg,#0c48a0,#0c48a0,#0c48a0,#104fa3,#1d65ad,#348abc,#5ebaa8,#9dd7a4,#d5ee9b,#f8fab6,#fff9d0,#ffe9a4,#fedb87,#fecf7a,#fec875,#fec572,#fec673,#fec976,#fece7a,#fed57f,#fedc89,#fee296,#ffe9a4,#fff0b2,#fff5c2,#fff9d2,#fffddb,#fdfccd,#fbfbbf,#f7fab4,#f1f8ab,#ecf7a2,#e7f59a,#e0f299,#d8ef9b,#d0ec9d,#c8e99e,#c1e69f,#bae3a1,#b4e1a2,#aedea3,#a7dca4,#a1d9a4,#9ad6a4,#94d4a4,#8ed2a4,#89d0a4,#83cea5,#7ecca5,#79caa5,#75c8a5,#70c6a5,#6cc4a5,#68c3a5,#64c0a6,#62bda7,#5fbaa8,#5cb7aa,#5ab4ab,#57b1ac,#55afad,#53acae,#50aaaf,#4ea8b0,#4ca5b1,#4aa3b2,#48a1b3,#479fb4,#459db4,#439bb5,#4299b6,#4098b7,#3e96b7,#3d94b8,#3c93b9,#3a91b9,#3990ba,#388eba,#368dbb,#358bbc,#348abc,#3389bd,#3288bd)"></div><div style="background:linear-gradient(90deg,#0c48a0,#0c48a0,#0c48a0,#1150a4,#206aaf,#3b93b9,#6bc4a5,#afdfa3,#e7f599,#fdfccd,#fff1b6,#fedf90,#fed07b,#fec572,#fdc06e,#fdbe6d,#fdc06f,#fec572,#fecc77,#fed37d,#fedb88,#fee296,#ffe9a4,#fff0b3,#fff5c4,#fffad5,#fefdd8,#fcfcc9,#fafbbb,#f5f9b1,#eff8a8,#eaf69f,#e5f498,#dcf19a,#d4ee9c,#ccea9d,#c5e79f,#bee5a0,#b7e2a2,#b0dfa3,#aadda4,#a3daa4,#9dd7a4,#96d5a4,#90d3a4,#8ad0a4,#85cea5,#80cca5,#7bcaa5,#76c8a5,#71c6a5,#6dc5a5,#68c3a5,#65c1a6,#62bda7,#5fbaa8,#5cb7a9,#5ab4ab,#57b2ac,#55afad,#53acae,#50aaaf,#4ea7b0,#4ca5b1,#4aa3b2,#48a1b3,#469fb4,#459db4,#439bb5,#4199b6,#4097b7,#3e95b7,#3d94b8,#3b92b9,#3a91b9,#388fba,#378ebb,#368cbb,#358bbc,#338abc,#3288bd,#3187bd,#3186bc)"></div><div style="background:linear-gradient(90deg,#0c48a0,#0c48a0,#0c48a0,#1251a4,#2470b2,#449cb5,#7ccba5,#c0e6a0,#f1f8ab,#fffad5,#ffe79f,#fed47e,#fec472,#fdbb6b,#fdb868,#fdb869,#fdbc6b,#fdc270,#fec976,#fed27c,#fedb87,#fee296,#ffeaa6,#fff1b6,#fff6c7,#fffbd8,#fefcd4,#fcfcc5,#f9fbb8,#f3f9ae,#edf7a5,#e8f69c,#e1f399,#d8ef9b,#d0ec9c,#c8e99e,#c1e6a0,#bae3a1,#b3e0a2,#addea4,#a6dba4,#9fd8a4,#98d6a4,#92d3a4,#8cd1a4,#86cfa5,#81cda5,#7ccaa5,#77c9a5,#72c7a5,#6dc5a5,#69c3a5,#65c1a5,#62bea7,#5fbaa8,#5cb7a9,#5ab4ab,#57b2ac,#55afad,#52acae,#50aaaf,#4ea7b0,#4ca5b1,#4aa3b2,#48a1b3,#469eb4,#449cb5,#439ab5,#4199b6,#3f97b7,#3e95b8,#3c93b8,#3b92b9,#3990ba,#388fba,#378dbb,#358cbb,#348abc,#3389bd,#3288bd,#3186bc,#3085bc,#3084bb)"></div><div style="background:linear-gradient(90deg,#0c48a0,#0c48a0,#0c48a0,#1353a5,#2876b5,#4ea7b0,#8fd2a4,#d3ed9c,#fbfbbf,#fff2b9,#fedb89,#fec774,#fdb969,#fdb264,#fdb063,#fdb264,#fdb868,#fdbf6e,#fec874,#fed17c,#fedb87,#fee397,#ffeba8,#fff2b9,#fff7cb,#fffddd,#fdfcd0,#fbfbc0,#f7fab4,#f1f8aa,#ebf7a1,#e6f598,#ddf19a,#d4ee9c,#ccea9d,#c4e79f,#bde4a0,#b6e1a2,#afdfa3,#a8dca4,#a1d9a4,#9ad6a4,#94d4a4,#8ed2a4,#88cfa5,#82cda5,#7dcba5,#78c9a5,#73c7a5,#6ec5a5,#6ac3a5,#65c1a5,#62bea7,#5fbba8,#5db7a9,#5ab4ab,#57b2ac,#55afad,#52acae,#50a9af,#4ea7b0,#4ca5b1,#4aa2b2,#48a0b3,#469eb4,#449cb5,#429ab6,#4198b6,#3f96b7,#3d95b8,#3c93b8,#3a91b9,#3990ba,#388eba,#368dbb,#358bbc,#348abc,#3389bd,#3287bd,#3186bc,#3084bb,#2f83bb,#2e82ba)"></div><div style="background:linear-gradient(90deg,#0c48a0,#0c48a0,#0c48a0,#1455a6,#2c7eb9,#59b4ab,#a3daa4,#e7f599,#fffddb,#ffe69f,#fece79,#fdba6a,#fdae61,#fca85e,#fca85e,#fdad61,#fdb466,#fdbd6c,#fec774,#fed17c,#fedb88,#ffe49a,#ffecab,#fff3bd,#fff9d0,#fffdda,#fcfcca,#fafbbb,#f4f9b0,#eef8a6,#e9f69d,#e1f399,#d8ef9b,#d0ec9d,#c8e99e,#c0e6a0,#b9e3a1,#b2e0a3,#abdda4,#a3daa4,#9cd7a4,#96d5a4,#8fd2a4,#89d0a4,#83cda5,#7ecba5,#78c9a5,#73c7a5,#6fc5a5,#6ac4a5,#66c2a5,#63bea7,#5fbba8,#5db7a9,#5ab4ab,#57b1ac,#55afad,#52acae,#50a9af,#4ea7b0,#4ba4b1,#49a2b2,#47a0b3,#459eb4,#449cb5,#429ab6,#4098b7,#3e96b7,#3d94b8,#3b92b9,#3a91b9,#388fba,#378ebb,#368cbb,#348bbc,#3389bc,#3288bd,#3186bc,#3085bc,#2f84bb,#2f82ba,#2e81ba,#2d80b9)"></div><div style="background:linear-gradient(90deg,#0c48a0,#0c48a0,#0c48a0,#1557a7,#3287bd,#66c2a5,#b7e2a1,#f3f9ad,#fff5c2,#fed985,#fdbf6e,#fdad60,#fba15b,#fb9e59,#fba05b,#fca85e,#fdb164,#fdbb6b,#fec673,#fed27c,#fedc8a,#ffe59d,#ffeeae,#fff5c2,#fffad5,#fefcd5,#fbfcc5,#f8fab6,#f2f9ac,#ecf7a2,#e6f598,#ddf19a,#d4ee9c,#cbea9d,#c3e79f,#bbe4a1,#b4e1a2,#addea4,#a6dba4,#9ed8a4,#97d5a4,#91d3a4,#8ad0a4,#84cea5,#7fcca5,#79c9a5,#74c7a5,#6fc6a5,#6ac4a5,#66c2a5,#63bea7,#5fbba8,#5db7a9,#5ab4ab,#57b1ac,#54aead,#52acae,#4fa9af,#4da6b0,#4ba4b1,#49a2b2,#479fb3,#459db4,#439bb5,#4199b6,#4097b7,#3e95b8,#3c93b8,#3b92b9,#3990ba,#388eba,#368dbb,#358bbc,#348abc,#3389bd,#3187bd,#3186bc,#3084bb,#2f83bb,#2e82ba,#2e80ba,#2d7fb9,#2c7eb8)"></div><div style="background:linear-gradient(90deg,#0c48a0,#0c48a0,#0c48a0,#175aa8,#3a91b9,#79caa5,#ccea9d,#fcfcc7,#ffe9a3,#fec975,#fdb062,#fb9d59,#fa9555,#f99455,#fa9a58,#fca35c,#fdaf62,#fdbb6b,#fec774,#fed37d,#fede8e,#ffe7a0,#fff0b3,#fff6c8,#fffcdc,#fdfccf,#fbfbbe,#f5fab2,#eff8a7,#e9f69d,#e1f399,#d8ef9b,#cfec9d,#c6e89e,#bee5a0,#b6e2a2,#afdfa3,#a8dca4,#a0d9a4,#99d6a4,#92d3a4,#8bd1a4,#85cea5,#7fcca5,#7acaa5,#74c8a5,#6fc6a5,#6ac4a5,#66c2a5,#63bea7,#5fbba8,#5cb7a9,#59b4ab,#57b1ac,#54aead,#52abae,#4fa8b0,#4da6b1,#4ba3b2,#48a1b3,#469fb4,#449cb5,#429ab5,#4198b6,#3f96b7,#3d95b8,#3c93b9,#3a91b9,#398fba,#378ebb,#368cbb,#348bbc,#3389bd,#3288bd,#3186bc,#3085bc,#2f83bb,#2f82ba,#2e81ba,#2d80b9,#2c7eb9,#2c7db8,#2b7cb8)"></div><div style="background:linear-gradient(90deg,#0c48a0,#0c48a0,#0c48a0,#195eaa,#449cb5,#8fd2a4,#e3f499,#fffad5,#feda86,#fdb868,#fb9e5a,#f98f52,#f88a50,#f88c51,#f99455,#fba05b,#fdae61,#fdbb6b,#fec875,#fed57f,#fee092,#ffeaa5,#fff2ba,#fff8cf,#fefdd9,#fcfcc8,#f9fbb8,#f2f9ad,#ecf7a2,#e6f598,#dcf19a,#d2ed9c,#c9e99e,#c1e6a0,#b9e3a1,#b1e0a3,#aadda4,#a2d9a4,#9ad7a4,#93d4a4,#8dd1a4,#86cfa5,#80cca5,#7acaa5,#75c8a5,#6fc6a5,#6bc4a5,#66c2a5,#62bea7,#5fbaa8,#5cb7aa,#59b4ab,#56b1ac,#54aead,#51abaf,#4fa8b0,#4ca5b1,#4aa3b2,#48a0b3,#469eb4,#449cb5,#429ab6,#4098b7,#3e96b7,#3d94b8,#3b92b9,#3990ba,#388eba,#368dbb,#358bbc,#348abc,#3288bd,#3187bc,#3085bc,#3084bb,#2f83bb,#2e81ba,#2d80b9,#2c7fb9,#2c7db8,#2b7cb8,#2a7bb7,#2a7ab7)"></div><div style="background:linear-gradient(90deg,#0c48a0,#0c48a0,#0c48a0,#1b62ac,#50a9af,#a7dba4,#f2f9ac,#ffefb0,#fec774,#fca55d,#f88c51,#f7814c,#f77f4b,#f7854e,#f99053,#fb9e5a,#fdae61,#fdbc6c,#feca76,#fed882,#fee397,#ffedac,#fff4c1,#fffbd7,#fdfcd2,#fbfbc0,#f5fab2,#eff8a7,#e8f69c,#e0f299,#d6ee9b,#cceb9d,#c4e79f,#bbe4a1,#b3e0a2,#acdda4,#a4daa4,#9cd7a4,#94d4a4,#8dd1a4,#87cfa5,#81cca5,#7bcaa5,#75c8a5,#70c6a5,#6ac4a5,#66c2a5,#62bea7,#5fbaa8,#5cb7aa,#59b3ab,#56b0ac,#53adae,#50aaaf,#4ea7b0,#4ca5b1,#49a2b2,#47a0b3,#459db4,#439bb5,#4199b6,#3f97b7,#3d95b8,#3c93b9,#3a91b9,#398fba,#378ebb,#368cbb,#348abc,#3389bd,#3287bd,#3186bc,#3084bb,#2f83bb,#2e81ba,#2d80b9,#2d7fb9,#2c7eb8,#2b7cb8,#2a7bb7,#2a7ab7,#2979b6,#2878b6)"></div><div style="background:linear-gradient(90deg,#0c48a0,#0c48a0,#0c49a0,#1f67ae,#5eb9a9,#bee5a0,#fcfcc9,#fede8f,#fdb365,#f99053,#f67b4a,#f57446,#f57747,#f7804c,#f88d52,#fb9e59,#fdaf62,#fdbe6d,#fecd79,#fedb88,#ffe69e,#fff0b3,#fff7ca,#fffddc,#fcfcc9,#f9fbb8,#f2f9ac,#ebf7a1,#e4f498,#d9f09b,#d0ec9d,#c6e89e,#bde5a0,#b5e1a2,#addea4,#a5dba4,#9dd8a4,#95d5a4,#8ed2a4,#87cfa5,#81cda5,#7bcaa5,#75c8a5,#6fc6a5,#6ac4a5,#65c1a5,#62bda7,#5ebaa8,#5bb6aa,#58b3ab,#55afad,#52acae,#50a9af,#4da6b0,#4ba4b2,#49a1b3,#469fb4,#449cb5,#429ab6,#4098b6,#3e96b7,#3d94b8,#3b92b9,#3990ba,#388eba,#368dbb,#358bbc,#3389bc,#3288bd,#3186bc,#3085bc,#2f83bb,#2e82ba,#2d80ba,#2d7fb9,#2c7eb8,#2b7db8,#2a7bb7,#2a7ab7,#2979b6,#2878b6,#2877b5,#2776b5)"></div><div style="background:linear-gradient(90deg,#0c48a0,#0c48a0,#0c49a0,#226eb1,#70c6a5,#d7ef9b,#fff8cc,#feca76,#fb9c59,#f67b4a,#f46c43,#f26a44,#f47044,#f67c4a,#f88c51,#fb9f5a,#fdb264,#fdc270,#fed17c,#fede8f,#ffeaa5,#fff3bc,#fffad4,#fdfcd3,#fbfbc0,#f5f9b1,#eef7a5,#e7f59a,#ddf19a,#d3ed9c,#c9e99e,#c0e5a0,#b7e2a2,#afdfa3,#a7dba4,#9ed8a4,#96d5a4,#8fd2a4,#88cfa5,#81cda5,#7bcaa5,#75c8a5,#6fc6a5,#6ac3a5,#65c1a5,#61bda7,#5eb9a9,#5bb5aa,#57b2ac,#54aead,#52abae,#4fa8b0,#4ca5b1,#4aa3b2,#48a0b3,#459eb4,#439bb5,#4199b6,#3f97b7,#3d95b8,#3c93b9,#3a91b9,#388fba,#378dbb,#358bbc,#348abc,#3288bd,#3187bc,#3085bc,#2f83bb,#2e82ba,#2e81ba,#2d7fb9,#2c7eb8,#2b7db8,#2a7bb7,#2a7ab7,#2979b6,#2878b6,#2877b5,#2776b5,#2775b4,#2674b4)"></div><div style="background:linear-gradient(90deg,#0c48a0,#0c48a0,#0c49a0,#2775b4,#88cfa5,#edf7a3,#ffe9a4,#fdb465,#f7844d,#f26a44,#ee6246,#ee6446,#f36b44,#f67a49,#f88d52,#fba15b,#fdb566,#fec673,#fed780,#fee397,#ffeeaf,#fff6c7,#fffddd,#fcfcc9,#f8fab7,#f1f8aa,#eaf69e,#e1f399,#d6ee9b,#cbea9d,#c2e69f,#b9e3a1,#b0dfa3,#a8dca4,#9fd8a4,#97d5a4,#8fd2a4,#88cfa5,#81cda5,#7acaa5,#74c8a5,#6ec5a5,#69c3a5,#64c0a6,#61bca7,#5db8a9,#5ab4ab,#57b1ac,#54adae,#51aaaf,#4ea7b0,#4ba4b1,#49a2b2,#479fb4,#449cb5,#429ab6,#4098b6,#3e96b7,#3c93b8,#3a91b9,#3990ba,#378ebb,#358cbb,#348abc,#3389bd,#3187bd,#3085bc,#2f84bb,#2f82ba,#2e81ba,#2d7fb9,#2c7eb8,#2b7db8,#2a7bb7,#2a7ab7,#2979b6,#2878b6,#2877b5,#2776b5,#2675b4,#2674b4,#2573b3,#2572b3)"></div><div style="background:linear-gradient(90deg,#0c48a0,#0c48a0,#0d49a0,#2c7fb9,#a3daa4,#fbfbc2,#fed57f,#fa9857,#f46d43,#eb5d47,#e95a48,#eb5f47,#f26944,#f67a49,#f98f53,#fca65d,#fdba6a,#fecc77,#fedb89,#ffe8a1,#fff2ba,#fffad3,#fdfcd2,#fafbbd,#f3f9af,#ecf7a2,#e4f498,#d9f09b,#ceeb9d,#c4e79f,#bae3a1,#b1e0a3,#a9dca4,#a0d9a4,#97d5a4,#8fd2a4,#88cfa5,#81cca5,#7acaa5,#74c7a5,#6ec5a5,#68c3a5,#64bfa6,#60bba8,#5cb7aa,#59b3ab,#56b0ad,#53acae,#50a9af,#4da6b1,#4aa3b2,#48a0b3,#459eb4,#439bb5,#4199b6,#3f96b7,#3d94b8,#3b92b9,#3990ba,#388eba,#368cbb,#348bbc,#3389bd,#3187bd,#3085bc,#2f84bb,#2f82ba,#2e81ba,#2d7fb9,#2c7eb8,#2b7cb8,#2a7bb7,#2a7ab7,#2979b6,#2877b6,#2876b5,#2775b5,#2674b4,#2673b4,#2572b3,#2571b3,#2470b2,#236fb2)"></div><div style="background:linear-gradient(90deg,#0c48a0,#0c48a0,#0d49a1,#338abc,#bfe5a0,#fff8ce,#fdbb6b,#f67c4a,#ea5d47,#e4524a,#e4534a,#e95b48,#f16844,#f67c4a,#f99455,#fdac60,#fdc06e,#fed27c,#fee194,#ffeead,#fff6c8,#fffddb,#fcfcc5,#f6fab4,#eef7a6,#e7f59a,#dbf19a,#d0ec9c,#c5e89f,#bce4a1,#b2e0a3,#a9dca4,#a0d9a4,#97d5a4,#8fd2a4,#87cfa5,#80cca5,#79c9a5,#73c7a5,#6cc5a5,#67c2a5,#62bea7,#5fbaa8,#5bb6aa,#58b2ac,#54aead,#51abaf,#4ea8b0,#4ca4b1,#49a2b2,#469fb4,#449cb5,#429ab6,#4097b7,#3e95b8,#3c93b9,#3a91b9,#388fba,#368dbb,#348bbc,#3389bd,#3287bd,#3186bc,#3084bb,#2f82ba,#2e81ba,#2d7fb9,#2c7eb8,#2b7cb8,#2a7bb7,#297ab6,#2978b6,#2877b5,#2776b5,#2775b4,#2674b4,#2573b3,#2572b3,#2471b3,#2470b2,#236fb2,#236eb1,#226db1)"></div><div style="background:linear-gradient(90deg,#0c48a0,#0c48a0,#0d4aa1,#3e96b7,#ddf19a,#ffe79f,#fb9d59,#ef6445,#e24f4b,#df494d,#e24e4c,#e95a48,#f26a44,#f7814c,#fa9b58,#fdb365,#fec774,#feda85,#ffe7a1,#fff3bb,#fffbd7,#fdfccd,#f9fbb8,#f1f8aa,#e9f69d,#def29a,#d2ed9c,#c7e89e,#bde4a0,#b3e0a2,#aadda4,#a0d9a4,#97d5a4,#8ed2a4,#86cfa5,#7fcca5,#78c9a5,#71c6a5,#6bc4a5,#65c1a5,#61bda7,#5db8a9,#5ab4ab,#56b0ac,#53adae,#50a9af,#4da6b1,#4aa3b2,#47a0b3,#459db4,#429ab5,#4098b6,#3e95b7,#3c93b8,#3a91b9,#388fba,#368dbb,#358bbc,#3389bd,#3287bd,#3085bc,#2f84bb,#2e82ba,#2d80ba,#2d7fb9,#2c7db8,#2b7cb8,#2a7bb7,#2979b6,#2878b6,#2877b5,#2776b5,#2674b4,#2673b4,#2572b3,#2571b3,#2470b2,#236fb2,#236eb1,#226eb1,#226db1,#216cb0,#216bb0)"></div><div style="background:linear-gradient(90deg,#0c48a0,#0c48a0,#0d4aa1,#4ba4b1,#f3f9ae,#fece79,#f67c4a,#e4524a,#db434f,#db424f,#e04c4c,#e95b48,#f46d43,#f88950,#fca45d,#fdbc6b,#fed07b,#fee194,#ffefaf,#fff8cc,#fefdd5,#fbfbbe,#f3f9ae,#eaf6a0,#e0f399,#d4ee9c,#c8e99e,#bde4a0,#b3e0a2,#aadca4,#a0d9a4,#96d5a4,#8dd1a4,#85cea5,#7dcba5,#76c8a5,#6fc6a5,#69c3a5,#64c0a6,#60bba8,#5cb7aa,#58b2ab,#54aead,#51abaf,#4ea7b0,#4ba4b1,#48a1b3,#469eb4,#439bb5,#4198b6,#3e96b7,#3c93b8,#3a91b9,#388fba,#368dbb,#358bbc,#3389bd,#3287bd,#3085bc,#2f83bb,#2e82ba,#2d80b9,#2c7eb9,#2b7db8,#2b7bb7,#2a7ab7,#2979b6,#2877b5,#2776b5,#2775b4,#2674b4,#2573b3,#2572b3,#2471b2,#2470b2,#236fb2,#226eb1,#226db1,#216cb0,#216bb0,#206ab0,#206aaf,#2069af)"></div><div style="background:linear-gradient(90deg,#0c48a0,#0c48a0,#0d4aa1,#5ab5aa,#fefdda,#fdaf62,#ed6146,#db424f,#d13a4c,#d83e50,#e04c4c,#eb5e47,#f57547,#f99354,#fdb062,#fec673,#feda86,#ffe9a4,#fff5c2,#fffddd,#fbfcc4,#f5f9b1,#ecf7a2,#e2f399,#d5ee9b,#c9e99e,#bde5a0,#b3e0a2,#a9dca4,#9fd8a4,#95d4a4,#8cd1a4,#83cda5,#7bcaa5,#74c8a5,#6dc5a5,#67c2a5,#62bea7,#5eb9a9,#5ab4ab,#56b0ac,#53acae,#4fa9b0,#4ca5b1,#49a2b2,#469fb4,#449cb5,#4199b6,#3f96b7,#3c94b8,#3a91b9,#388fba,#368dbb,#358bbc,#3389bd,#3187bd,#3085bc,#2f83bb,#2e81ba,#2d80b9,#2c7eb8,#2b7cb8,#2a7bb7,#2979b6,#2978b6,#2877b5,#2776b5,#2674b4,#2673b4,#2572b3,#2471b3,#2470b2,#236fb2,#236eb1,#226db1,#216cb0,#216bb0,#206ab0,#206aaf,#1f69af,#1f68af,#1f67ae,#1e67ae)"></div><div style="background:linear-gradient(90deg,#0c48a0,#0c48a0,#0e4ba1,#6ec5a5,#ffedab,#f88a50,#e04c4c,#cc3648,#c83446,#d73d4f,#e24f4b,#ef6445,#f7804c,#fba05b,#fdbb6b,#fed27c,#fee399,#fff2b7,#fffbd7,#fcfcca,#f7fab4,#edf7a4,#e4f498,#d6ee9b,#c9e99e,#bde4a0,#b2e0a3,#a8dca4,#9dd7a4,#93d4a4,#8ad0a4,#81cda5,#79c9a5,#71c6a5,#6ac4a5,#64c0a6,#60bba8,#5cb6aa,#58b2ac,#54aead,#50aaaf,#4da6b1,#4aa3b2,#479fb3,#449cb5,#4199b6,#3f96b7,#3d94b8,#3a91b9,#388fba,#368dbb,#348bbc,#3289bd,#3186bc,#3084bb,#2f83bb,#2e81ba,#2d7fb9,#2c7db8,#2b7cb7,#2a7ab7,#2979b6,#2877b5,#2776b5,#2775b4,#2673b4,#2572b3,#2471b3,#2470b2,#236fb2,#236eb1,#226db1,#216cb0,#216bb0,#206ab0,#2069af,#1f69af,#1f68ae,#1e67ae,#1e66ae,#1e66ad,#1d65ad,#1d64ad)"></div><div style="background:linear-gradient(90deg,#0c48a0,#0c48a0,#0e4ca2,#89d0a4,#fed17c,#f16745,#d33b4d,#bf2e3f,#c53243,#d94050,#e6554a,#f46d43,#f98f53,#fdb063,#fec975,#fede8e,#ffeeae,#fff9cf,#fdfccf,#f8fab7,#eef7a6,#e4f498,#d6ee9b,#c8e99e,#bce4a1,#b1dfa3,#a6dba4,#9bd7a4,#90d3a4,#87cfa5,#7ecba5,#76c8a5,#6ec5a5,#67c2a5,#62bda7,#5db8a9,#59b3ab,#55afad,#51abaf,#4ea7b0,#4aa3b2,#47a0b3,#449cb5,#4199b6,#3f96b7,#3c94b8,#3a91b9,#388fba,#368cbb,#348abc,#3288bd,#3186bc,#2f84bb,#2e82ba,#2d80b9,#2c7eb8,#2b7cb8,#2a7bb7,#2979b6,#2878b6,#2776b5,#2775b4,#2674b4,#2572b3,#2471b3,#2470b2,#236fb2,#236eb1,#226db1,#216cb0,#216bb0,#206aaf,#2069af,#1f68af,#1f68ae,#1e67ae,#1e66ae,#1d65ad,#1d65ad,#1d64ad,#1c63ac,#1c63ac,#1c62ac)"></div><div style="background:linear-gradient(90deg,#0c48a0,#0c48a0,#0f4da2,#a6dba4,#fdaf62,#e24f4b,#bf2f40,#b72a3b,#c73345,#dd464e,#ec5f47,#f67e4b,#fba25c,#fdc06e,#fed883,#ffeaa6,#fff7c8,#fefcd3,#f9fbb8,#eff8a7,#e4f498,#d5ee9b,#c7e89e,#bae3a1,#afdea3,#a3daa4,#97d5a4,#8dd1a4,#83cda5,#7acaa5,#72c7a5,#6ac4a5,#64c0a6,#5fbaa8,#5ab5aa,#56b0ac,#52acae,#4ea7b0,#4ba3b2,#47a0b3,#449cb5,#4199b6,#3f96b7,#3c93b8,#3a90b9,#378ebb,#358cbc,#3389bc,#3187bd,#3085bc,#2f83bb,#2e81ba,#2d7fb9,#2b7db8,#2a7bb7,#297ab6,#2878b6,#2876b5,#2775b4,#2674b4,#2572b3,#2471b3,#2470b2,#236fb2,#226eb1,#226db1,#216cb0,#216bb0,#206aaf,#2069af,#1f68af,#1f67ae,#1e66ae,#1e66ad,#1d65ad,#1d64ad,#1c64ac,#1c63ac,#1c62ac,#1b62ac,#1b61ab,#1b60ab,#1a60ab)"></div><div style="background:linear-gradient(90deg,#0c48a0,#0c48a0,#104ea3,#c3e79f,#f7854e,#d43b4d,#b32738,#b72a3b,#d0394b,#e4514b,#f46d43,#f99455,#fdb768,#fed27c,#ffe69e,#fff5c3,#fefdd6,#fafbb9,#eff8a7,#e3f499,#d3ed9c,#c5e79f,#b8e2a1,#acdda4,#9fd8a4,#93d4a4,#88cfa5,#7ecca5,#75c8a5,#6dc5a5,#65c1a5,#60bba8,#5bb6aa,#57b1ac,#52acae,#4ea8b0,#4ba3b2,#47a0b3,#449cb5,#4199b6,#3e95b7,#3b92b9,#3990ba,#368dbb,#348bbc,#3288bd,#3186bc,#2f84bb,#2e81ba,#2d7fb9,#2c7db8,#2b7bb7,#2a7ab7,#2978b6,#2876b5,#2775b4,#2674b4,#2572b3,#2471b3,#2470b2,#236eb1,#226db1,#226cb0,#216bb0,#206aaf,#2069af,#1f68af,#1f67ae,#1e67ae,#1e66ad,#1d65ad,#1d64ad,#1c64ac,#1c63ac,#1c62ac,#1b62ac,#1b61ab,#1a60ab,#1a60ab,#1a5fab,#195faa,#195eaa,#195eaa)"></div><div style="background:linear-gradient(90deg,#0c48a0,#0c48a0,#1150a4,#dff299,#ee6346,#c02f40,#af2435,#c02f40,#dc444e,#ed6146,#f7864f,#fdae61,#fecc78,#fee398,#fff4bf,#fefdd8,#f9fbb9,#eef7a5,#e1f399,#d0ec9c,#c1e69f,#b4e0a2,#a7dba4,#99d6a4,#8dd1a4,#83cda5,#79c9a5,#70c6a5,#67c2a5,#61bda7,#5cb7aa,#57b1ac,#52acae,#4ea7b0,#4aa3b2,#479fb4,#439bb5,#4098b7,#3d94b8,#3a91b9,#388eba,#358cbb,#3389bd,#3187bc,#3084bb,#2e82ba,#2d80b9,#2c7eb8,#2b7cb7,#2a7ab7,#2878b6,#2776b5,#2775b4,#2673b4,#2572b3,#2470b2,#236fb2,#226eb1,#226db1,#216cb0,#206ab0,#2069af,#1f68af,#1f68ae,#1e67ae,#1e66ae,#1d65ad,#1d64ad,#1c63ac,#1c63ac,#1b62ac,#1b61ab,#1b61ab,#1a60ab,#1a5fab,#1a5faa,#195eaa,#195eaa,#195daa,#185da9,#185ca9,#185ca9,#175ba9)"></div><div style="background:linear-gradient(90deg,#0c48a0,#0c48a0,#1251a4,#f2f9ac,#e14d4c,#b6293a,#b6293a,#d13a4c,#e75649,#f67a49,#fca55d,#fec774,#fee194,#fff3bd,#fefdd7,#f8fab7,#ecf7a2,#ddf19a,#ccea9d,#bce4a1,#aedea3,#a0d9a4,#92d3a4,#86cfa5,#7ccaa5,#72c7a5,#69c3a5,#62bda7,#5cb7aa,#57b1ac,#52acae,#4da7b0,#49a2b2,#459eb4,#429ab6,#3f96b7,#3c93b9,#3990ba,#368dbb,#348abc,#3287bd,#3085bb,#2e82ba,#2d80b9,#2c7db8,#2b7bb7,#2979b6,#2878b6,#2776b5,#2674b4,#2573b3,#2471b3,#2470b2,#236eb1,#226db1,#216cb0,#216bb0,#206aaf,#1f69af,#1f68ae,#1e67ae,#1e66ad,#1d65ad,#1d64ad,#1c63ac,#1c62ac,#1b62ac,#1b61ab,#1a60ab,#1a60ab,#1a5faa,#195eaa,#195eaa,#195daa,#185da9,#185ca9,#185ca9,#175ba9,#175ba9,#175aa8,#175aa8,#165aa8,#1659a8)"></div><div style="background:linear-gradient(90deg,#0c48a0,#0c48a0,#1353a5,#fcfcc8,#d93f50,#b92b3c,#c93446,#e24e4c,#f47044,#fb9e5a,#fec472,#fee193,#fff4bf,#fdfcd3,#f6fab3,#e9f69d,#d7ef9b,#c5e89f,#b5e1a2,#a6dba4,#97d5a4,#8ad0a4,#7ecba5,#73c7a5,#69c3a5,#62bda7,#5bb6aa,#56b0ac,#51aaaf,#4ca5b1,#48a0b3,#449cb5,#4098b6,#3d94b8,#3a91b9,#378dbb,#348abc,#3287bd,#3085bb,#2e82ba,#2d7fb9,#2b7db8,#2a7bb7,#2979b6,#2877b5,#2775b4,#2673b4,#2572b3,#2470b2,#236fb1,#226db1,#216cb0,#216bb0,#2069af,#1f68af,#1f67ae,#1e66ae,#1d65ad,#1d64ad,#1c63ac,#1c63ac,#1b62ac,#1b61ab,#1a60ab,#1a60ab,#1a5faa,#195eaa,#195eaa,#195daa,#185da9,#185ca9,#185ba9,#175ba9,#175ba8,#175aa8,#165aa8,#1659a8,#1659a8,#1658a7,#1558a7,#1558a7,#1557a7,#1557a7)"></div><div style="background:linear-gradient(90deg,#0c48a0,#0c48a0,#1455a6,#fffcda,#d63d4f,#cc3648,#df4b4d,#f36b43,#fa9b58,#fec472,#fee296,#fff6c6,#fcfcca,#f2f8ac,#e3f499,#ceeb9d,#bce4a1,#acdda4,#9bd7a4,#8cd1a4,#7fcca5,#73c7a5,#68c3a5,#61bca8,#5ab5ab,#54aead,#4fa8b0,#4aa3b2,#459eb4,#4199b6,#3e95b8,#3a91b9,#378ebb,#348abc,#3187bd,#3084bb,#2e81ba,#2c7eb9,#2b7cb8,#297ab6,#2877b6,#2775b5,#2674b4,#2572b3,#2470b2,#236eb1,#226db1,#216cb0,#206ab0,#2069af,#1f68ae,#1e67ae,#1e66ad,#1d65ad,#1c64ad,#1c63ac,#1b62ac,#1b61ab,#1a60ab,#1a5fab,#1a5faa,#195eaa,#195daa,#185da9,#185ca9,#185ca9,#175ba9,#175ba8,#175aa8,#165aa8,#1659a8,#1659a8,#1658a7,#1558a7,#1557a7,#1557a7,#1557a7,#1456a6,#1456a6,#1456a6,#1455a6,#1455a6,#1455a6)"></div><div style="background:linear-gradient(90deg,#0c48a0,#0c48a0,#1557a7,#fff8cd,#de484d,#e3504b,#f46d43,#fb9f5a,#fec975,#ffe7a0,#fffad4,#fafbbc,#ebf7a1,#d7ef9b,#c2e69f,#afdfa3,#9dd8a4,#8dd1a4,#7ecca5,#71c6a5,#66c2a5,#5eb9a9,#57b2ac,#51abaf,#4ca5b1,#479fb4,#429ab6,#3e95b8,#3a91b9,#378dbb,#338abc,#3186bc,#2f83bb,#2d80b9,#2b7db8,#2a7ab7,#2878b6,#2776b5,#2673b4,#2572b3,#2470b2,#236eb1,#226cb0,#216bb0,#2069af,#1f68af,#1e67ae,#1e66ad,#1d65ad,#1c64ac,#1c63ac,#1b62ac,#1b61ab,#1a60ab,#1a5faa,#195eaa,#195eaa,#185da9,#185ca9,#185ca9,#175ba9,#175aa8,#175aa8,#1659a8,#1659a8,#1658a7,#1558a7,#1557a7,#1557a7,#1557a7,#1456a6,#1456a6,#1455a6,#1455a6,#1455a6,#1354a6,#1354a6,#1354a5,#1354a5,#1353a5,#1353a5,#1253a5,#1253a5)"></div><div style="background:linear-gradient(90deg,#0c48a0,#0c48a0,#1658a7,#fffad5,#ef6545,#f67d4a,#fdab60,#fed37d,#fff0b2,#fdfcd3,#f2f9ac,#dff29a,#c6e89e,#b1e0a3,#9dd8a4,#8bd1a4,#7bcaa5,#6dc5a5,#62bea7,#5ab5aa,#53adae,#4da6b1,#479fb3,#429ab6,#3d95b8,#3990ba,#358cbb,#3288bd,#3084bb,#2e80ba,#2c7db8,#2a7ab7,#2878b6,#2775b4,#2573b3,#2471b2,#236fb2,#226db1,#216bb0,#206aaf,#1f68af,#1e67ae,#1d65ad,#1d64ad,#1c63ac,#1b62ac,#1b61ab,#1a60ab,#1a5faa,#195eaa,#195daa,#185da9,#185ca9,#175ba9,#175ba8,#175aa8,#1659a8,#1659a8,#1658a7,#1558a7,#1557a7,#1557a7,#1556a6,#1456a6,#1456a6,#1455a6,#1455a6,#1354a6,#1354a5,#1354a5,#1353a5,#1353a5,#1253a5,#1253a5,#1252a5,#1252a5,#1252a4,#1252a4,#1251a4,#1151a4,#1151a4,#1151a4,#1150a4)"></div><div style="background:linear-gradient(90deg,#0c48a0,#0c48a0,#1659a8,#fcfcc7,#fba35c,#fdc270,#ffe499,#fffad5,#f7fab5,#e4f498,#c8e99e,#b0dfa3,#9ad6a4,#86cea5,#75c8a5,#66c2a5,#5cb7a9,#54aead,#4da6b1,#469eb4,#4098b6,#3b92b9,#378dbb,#3389bd,#3085bb,#2e80ba,#2b7db8,#297ab6,#2877b5,#2674b4,#2571b3,#236fb2,#226db1,#216bb0,#2069af,#1f67ae,#1e66ae,#1d64ad,#1c63ac,#1b62ac,#1b61ab,#1a60ab,#195faa,#195eaa,#185da9,#185ca9,#175ba9,#175aa8,#175aa8,#1659a8,#1658a7,#1558a7,#1557a7,#1557a7,#1456a6,#1456a6,#1455a6,#1455a6,#1354a6,#1354a5,#1354a5,#1353a5,#1353a5,#1253a5,#1252a5,#1252a5,#1252a4,#1252a4,#1151a4,#1151a4,#1151a4,#1151a4,#1150a4,#1150a4,#1150a4,#1150a3,#1050a3,#104fa3,#104fa3,#104fa3,#104fa3,#104fa3,#104ea3)"></div><div style="background:linear-gradient(90deg,#0c48a0,#0c48a0,#1557a7,#e7f59a,#ffe69e,#fff9d0,#f8fab7,#e2f499,#c4e79f,#aadca4,#90d2a4,#7bcaa5,#69c3a5,#5db8a9,#53adae,#4ba3b2,#439bb5,#3d94b8,#388eba,#3389bd,#2f84bb,#2d7fb9,#2a7bb7,#2877b5,#2674b4,#2471b3,#236eb1,#216cb0,#206aaf,#1f68ae,#1e66ae,#1d64ad,#1c63ac,#1b61ab,#1a60ab,#1a5faa,#195eaa,#185da9,#185ca9,#175ba8,#175aa8,#1659a8,#1658a7,#1558a7,#1557a7,#1556a7,#1456a6,#1455a6,#1455a6,#1354a6,#1354a5,#1353a5,#1353a5,#1253a5,#1252a5,#1252a5,#1252a4,#1251a4,#1151a4,#1151a4,#1150a4,#1150a4,#1150a4,#1150a3,#104fa3,#104fa3,#104fa3,#104fa3,#104fa3,#104ea3,#104ea3,#104ea3,#104ea3,#0f4ea3,#0f4ea3,#0f4ea3,#0f4da2,#0f4da2,#0f4da2,#0f4da2,#0f4da2,#0f4da2,#0f4da2)"></div><div style="background:linear-gradient(90deg,#0c48a0,#0c48a0,#1354a5,#abdda4,#ecf7a2,#d2ed9c,#b4e1a2,#96d5a4,#7dcba5,#67c2a5,#59b4ab,#4ea8b0,#459db4,#3d94b8,#378dbb,#3187bc,#2e81ba,#2b7bb7,#2877b5,#2573b3,#236fb2,#226cb0,#206aaf,#1f67ae,#1d65ad,#1c63ac,#1b61ab,#1a60ab,#195eaa,#185da9,#185ca9,#175ba8,#165aa8,#1659a8,#1558a7,#1557a7,#1456a6,#1456a6,#1455a6,#1354a6,#1354a5,#1353a5,#1253a5,#1252a5,#1252a4,#1251a4,#1151a4,#1151a4,#1150a4,#1150a4,#1150a4,#104fa3,#104fa3,#104fa3,#104fa3,#104ea3,#104ea3,#104ea3,#0f4ea3,#0f4ea3,#0f4ea3,#0f4da2,#0f4da2,#0f4da2,#0f4da2,#0f4da2,#0f4da2,#0f4ca2,#0f4ca2,#0f4ca2,#0e4ca2,#0e4ca2,#0e4ca2,#0e4ca2,#0e4ca2,#0e4ca2,#0e4ca2,#0e4ba2,#0e4ba2,#0e4ba1,#0e4ba1,#0e4ba1,#0e4ba1)"></div><div style="background:linear-gradient(90deg,#0c48a0,#0c48a0,#1050a3,#5cb7a9,#86cfa5,#6fc6a5,#5cb7a9,#4ea8b0,#439bb5,#3990ba,#3288bd,#2d80b9,#2979b6,#2674b4,#236fb2,#216bb0,#1f68ae,#1d65ad,#1c62ac,#1a60ab,#195eaa,#185ca9,#175ba8,#1659a8,#1658a7,#1557a7,#1456a6,#1455a6,#1354a6,#1354a5,#1253a5,#1252a5,#1252a4,#1151a4,#1151a4,#1150a4,#1150a4,#104fa3,#104fa3,#104fa3,#104fa3,#104ea3,#104ea3,#0f4ea3,#0f4da2,#0f4da2,#0f4da2,#0f4da2,#0f4da2,#0f4ca2,#0f4ca2,#0e4ca2,#0e4ca2,#0e4ca2,#0e4ca2,#0e4ca2,#0e4ba2,#0e4ba2,#0e4ba1,#0e4ba1,#0e4ba1,#0e4ba1,#0e4ba1,#0e4ba1,#0e4ba1,#0e4ba1,#0e4ba1,#0d4aa1,#0d4aa1,#0d4aa1,#0d4aa1,#0d4aa1,#0d4aa1,#0d4aa1,#0d4aa1,#0d4aa1,#0d4aa1,#0d4aa1,#0d4aa1,#0d4aa1,#0d4aa1,#0d4aa1,#0d4aa1)"></div><div style="background:linear-gradient(90deg,#0c48a0,#0c48a0,#0e4ba1,#2674b4,#3085bc,#2c7db8,#2775b5,#236fb2,#2069af,#1d65ad,#1b61ab,#195eaa,#175ba9,#1659a8,#1557a7,#1456a6,#1354a6,#1353a5,#1252a5,#1251a4,#1151a4,#1150a4,#104fa3,#104fa3,#104ea3,#104ea3,#0f4ea3,#0f4da2,#0f4da2,#0f4da2,#0f4ca2,#0e4ca2,#0e4ca2,#0e4ca2,#0e4ba2,#0e4ba1,#0e4ba1,#0e4ba1,#0e4ba1,#0e4ba1,#0e4ba1,#0d4aa1,#0d4aa1,#0d4aa1,#0d4aa1,#0d4aa1,#0d4aa1,#0d4aa1,#0d4aa1,#0d4aa1,#0d4aa1,#0d4aa1,#0d4aa1,#0d4aa1,#0d49a1,#0d49a1,#0d49a1,#0d49a1,#0d49a1,#0d49a1,#0d49a1,#0d49a1,#0d49a1,#0d49a0,#0d49a0,#0d49a0,#0d49a0,#0d49a0,#0d49a0,#0d49a0,#0d49a0,#0d49a0,#0d49a0,#0c49a0,#0c49a0,#0c49a0,#0c49a0,#0c49a0,#0c49a0,#0c49a0,#0c49a0,#0c49a0,#0c49a0)"></div><div style="background:linear-gradient(90deg,#0c48a0,#0c48a0,#0c48a0,#0c48a0,#0c48a0,#0c48a0,#0c48a0,#0d49a0,#0d49a0,#0d49a0,#0d49a0,#0d49a0,#0d49a0,#0d49a0,#0d49a0,#0c49a0,#0c49a0,#0c49a0,#0c49a0,#0c49a0,#0c49a0,#0c49a0,#0c48a0,#0c48a0,#0c48a0,#0c48a0,#0c48a0,#0c48a0,#0c48a0,#0c48a0,#0c48a0,#0c48a0,#0c48a0,#0c48a0,#0c48a0,#0c48a0,#0c48a0,#0c48a0,#0c48a0,#0c48a0,#0c48a0,#0c48a0,#0c48a0,#0c48a0,#0c48a0,#0c48a0,#0c48a0,#0c48a0,#0c48a0,#0c48a0,#0c48a0,#0c48a0,#0c48a0,#0c48a0,#0c48a0,#0c48a0,#0c48a0,#0c48a0,#0c48a0,#0c48a0,#0c48a0,#0c48a0,#0c48a0,#0c48a0,#0c48a0,#0c48a0,#0c48a0,#0c48a0,#0c48a0,#0c48a0,#0c48a0,#0c48a0,#0c48a0,#0c48a0,#0c48a0,#0c48a0,#0c48a0,#0c48a0,#0c48a0,#0c48a0,#0c48a0,#0c48a0,#0c48a0)"></div><div style="background:linear-gradient(90deg,#0c48a0,#0c48a0,#0c48a0,#0c48a0,#0c48a0,#0c48a0,#0c48a0,#0c48a0,#0c48a0,#0c48a0,#0c48a0,#0c48a0,#0c48a0,#0c48a0,#0c48a0,#0c48a0,#0c48a0,#0c48a0,#0c48a0,#0c48a0,#0c48a0,#0c48a0,#0c48a0,#0c48a0,#0c48a0,#0c48a0,#0c48a0,#0c48a0,#0c48a0,#0c48a0,#0c48a0,#0c48a0,#0c48a0,#0c48a0,#0c48a0,#0c48a0,#0c48a0,#0c48a0,#0c48a0,#0c48a0,#0c48a0,#0c48a0,#0c48a0,#0c48a0,#0c48a0,#0c48a0,#0c48a0,#0c48a0,#0c48a0,#0c48a0,#0c48a0,#0c48a0,#0c48a0,#0c48a0,#0c48a0,#0c48a0,#0c48a0,#0c48a0,#0c48a0,#0c48a0,#0c48a0,#0c48a0,#0c48a0,#0c48a0,#0c48a0,#0c48a0,#0c48a0,#0c48a0,#0c48a0,#0c48a0,#0c48a0,#0c48a0,#0c48a0,#0c48a0,#0c48a0,#0c48a0,#0c48a0,#0c48a0,#0c48a0,#0c48a0,#0c48a0,#0c48a0,#0c48a0)"></div></div></div>
<div class="hm" style="left:206px;top:4px;width:163.4px;height:109.3px"><div style="width:164px;height:auto"><div style="background:linear-gradient(90deg,#0c48a0,#0c48a0,#0c48a0,#0c48a0,#0c48a0,#0c48a0,#0c48a0,#0c48a0,#0c48a0,#0c48a0,#0c48a0,#0c48a0,#0c48a0,#0c48a0,#0c48a0,#0c48a0,#0c48a0,#0c48a0,#0c48a0,#0c48a0,#0c48a0,#0e4ba2,#1455a6,#1a5faa,#1f69af,#2572b3,#2a7bb7,#3084bb,#358cbb,#3c93b8,#429ab6,#48a0b3,#4da6b1,#52abae,#56b1ac,#5bb5aa,#5eb9a9,#62bda7,#65c1a5,#68c3a5,#6cc4a5,#6fc5a5,#71c6a5,#74c7a5,#76c8a5,#78c9a5,#79c9a5,#7acaa5,#7bcaa5,#7ccba5,#7ccba5,#7dcba5,#7dcba5,#7dcba5,#7dcba5,#7ccba5,#7ccba5,#7bcaa5,#7bcaa5,#7acaa5,#79caa5,#78c9a5,#78c9a5,#77c8a5,#75c8a5,#74c8a5,#73c7a5,#72c7a5,#71c6a5,#6fc6a5,#6ec5a5,#6dc5a5,#6cc4a5,#6ac4a5,#69c3a5,#67c3a5,#66c2a5,#65c1a5,#64c0a6,#63bfa6,#62bda7,#61bca7,#60bba8)"></div><div style="background:linear-gradient(90deg,#0c48a0,#0c48a0,#0c48a0,#0c48a0,#0c48a0,#0c48a0,#0c48a0,#0c48a0,#0c48a0,#0c48a0,#0c48a0,#0c48a0,#0c48a0,#0c48a0,#0c48a0,#0c48a0,#0c48a0,#0c48a0,#0c48a0,#0c48a0,#0c48a0,#0f4da2,#1557a7,#1b61ab,#216bb0,#2674b4,#2c7db8,#3186bc,#378ebb,#3e95b8,#449cb5,#4aa2b2,#4fa8b0,#54aead,#58b3ab,#5cb7a9,#60bca8,#64bfa6,#67c2a5,#6bc4a5,#6ec5a5,#71c6a5,#73c7a5,#76c8a5,#78c9a5,#79caa5,#7bcaa5,#7ccaa5,#7dcba5,#7dcba5,#7ecba5,#7ecba5,#7ecba5,#7ecba5,#7ecba5,#7dcba5,#7dcba5,#7ccba5,#7ccaa5,#7bcaa5,#7acaa5,#79c9a5,#78c9a5,#77c9a5,#76c8a5,#75c8a5,#74c7a5,#72c7a5,#71c6a5,#70c6a5,#6ec5a5,#6dc5a5,#6cc4a5,#6ac4a5,#69c3a5,#68c3a5,#66c2a5,#65c1a5,#64c0a6,#63bfa6,#62bda7,#61bca7,#60bba8)"></div><div style="background:linear-gradient(90deg,#0c48a0,#0c48a0,#0c48a0,#0c48a0,#0c48a0,#0c48a0,#0c48a0,#0c48a0,#0c48a0,#0c48a0,#0c48a0,#0c48a0,#0c48a0,#0c48a0,#0c48a0,#0c48a0,#0c48a0,#0c48a0,#0c48a0,#0c48a0,#0c48a0,#104fa3,#1659a8,#1c63ac,#226db1,#2876b5,#2d80b9,#3289bd,#3990ba,#4097b7,#469eb4,#4ca4b1,#51aaaf,#56b0ad,#5ab5aa,#5eb9a9,#62bea7,#65c1a5,#69c3a5,#6dc5a5,#70c6a5,#73c7a5,#75c8a5,#78c9a5,#79caa5,#7bcaa5,#7ccba5,#7dcba5,#7ecba5,#7fcca5,#7fcca5,#7fcca5,#7fcca5,#7fcca5,#7fcca5,#7ecca5,#7ecba5,#7dcba5,#7ccba5,#7ccaa5,#7bcaa5,#7acaa5,#79c9a5,#78c9a5,#76c8a5,#75c8a5,#74c7a5,#73c7a5,#71c6a5,#70c6a5,#6fc5a5,#6dc5a5,#6cc4a5,#6bc4a5,#69c3a5,#68c3a5,#66c2a5,#65c1a5,#64c0a6,#63bfa6,#62bda7,#61bca7,#60bba8)"></div><div style="background:linear-gradient(90deg,#0c48a0,#0c48a0,#0c48a0,#0c48a0,#0c48a0,#0c48a0,#0c48a0,#0c48a0,#0c48a0,#0c48a0,#0c48a0,#0c48a0,#0c48a0,#0c48a0,#0c48a0,#0c48a0,#0c48a0,#0c48a0,#0c48a0,#0c48a0,#0c48a0,#1150a4,#175ba8,#1d65ad,#236fb2,#2979b6,#2e82ba,#348bbc,#3b92b9,#429ab6,#48a0b3,#4ea7b0,#53adae,#58b2ac,#5cb7aa,#60bca8,#64c0a6,#68c3a5,#6cc4a5,#6fc6a5,#72c7a5,#75c8a5,#77c9a5,#7acaa5,#7bcaa5,#7dcba5,#7ecba5,#7fcca5,#80cca5,#80cca5,#80cca5,#80cca5,#80cca5,#80cca5,#80cca5,#7fcca5,#7fcca5,#7ecba5,#7dcba5,#7ccba5,#7bcaa5,#7acaa5,#79caa5,#78c9a5,#77c9a5,#76c8a5,#74c8a5,#73c7a5,#72c7a5,#70c6a5,#6fc6a5,#6ec5a5,#6cc4a5,#6bc4a5,#69c3a5,#68c3a5,#66c2a5,#65c1a5,#64c0a6,#63bfa6,#62bda7,#61bca7,#60bba8)"></div><div style="background:linear-gradient(90deg,#0c48a0,#0c48a0,#0c48a0,#0c48a0,#0c48a0,#0c48a0,#0c48a0,#0c48a0,#0c48a0,#0c48a0,#0c48a0,#0c48a0,#0c48a0,#0c48a0,#0c48a0,#0c48a0,#0c48a0,#0c48a0,#0c48a0,#0c48a0,#0c48a0,#1252a5,#185da9,#1e67ae,#2471b3,#2a7bb7,#3085bb,#368dbb,#3d95b8,#449cb5,#4aa3b2,#50a9af,#55afad,#5ab4ab,#5eb9a9,#62bea7,#66c2a5,#6ac4a5,#6ec5a5,#71c6a5,#74c8a5,#77c9a5,#79caa5,#7bcaa5,#7dcba5,#7ecca5,#80cca5,#80cca5,#81cda5,#81cda5,#82cda5,#82cda5,#82cda5,#81cda5,#81cda5,#80cca5,#80cca5,#7fcca5,#7ecba5,#7dcba5,#7ccba5,#7bcaa5,#7acaa5,#79c9a5,#77c9a5,#76c8a5,#75c8a5,#73c7a5,#72c7a5,#71c6a5,#6fc6a5,#6ec5a5,#6cc4a5,#6bc4a5,#69c3a5,#68c3a5,#66c2a5,#65c1a5,#64c0a6,#63bfa6,#62bda7,#61bca7,#60bba8)"></div><div style="background:linear-gradient(90deg,#0c48a0,#0c48a0,#0c48a0,#0c48a0,#0c48a0,#0c48a0,#0c48a0,#0c48a0,#0c48a0,#0c48a0,#0c48a0,#0c48a0,#0c48a0,#0c48a0,#0c48a0,#0c48a0,#0c48a0,#0c48a0,#0c48a0,#0c48a0,#0d49a1,#1354a5,#195faa,#2069af,#2674b4,#2c7eb8,#3187bd,#398fba,#3f97b7,#469eb4,#4ca5b1,#52abae,#57b1ac,#5cb7aa,#60bba8,#64c0a6,#68c3a5,#6cc5a5,#70c6a5,#74c7a5,#77c8a5,#79caa5,#7bcaa5,#7dcba5,#7fcca5,#80cca5,#81cda5,#82cda5,#82cda5,#83cda5,#83cda5,#83cda5,#83cda5,#82cda5,#82cda5,#81cda5,#80cca5,#80cca5,#7fcca5,#7ecba5,#7dcba5,#7ccaa5,#7acaa5,#79c9a5,#78c9a5,#76c8a5,#75c8a5,#74c7a5,#72c7a5,#71c6a5,#6fc6a5,#6ec5a5,#6cc4a5,#6bc4a5,#69c3a5,#68c3a5,#66c2a5,#65c1a5,#64c0a6,#63bea6,#62bda7,#61bca7,#5fbba8)"></div><div style="background:linear-gradient(90deg,#0c48a0,#0c48a0,#0c48a0,#0c48a0,#0c48a0,#0c48a0,#0c48a0,#0c48a0,#0c48a0,#0c48a0,#0c48a0,#0c48a0,#0c48a0,#0c48a0,#0c48a0,#0c48a0,#0c48a0,#0c48a0,#0c48a0,#0c48a0,#0e4ba1,#1456a6,#1b61ab,#216cb0,#2776b5,#2d80b9,#3389bc,#3b92b9,#4299b6,#48a1b3,#4ea7b0,#54aead,#59b4ab,#5eb9a9,#62bea7,#66c2a5,#6bc4a5,#6fc5a5,#73c7a5,#76c8a5,#79c9a5,#7bcaa5,#7dcba5,#7fcca5,#81cca5,#82cda5,#83cda5,#83cea5,#84cea5,#84cea5,#84cea5,#84cea5,#84cea5,#83cda5,#83cda5,#82cda5,#81cda5,#80cca5,#7fcca5,#7ecca5,#7dcba5,#7ccba5,#7bcaa5,#7acaa5,#78c9a5,#77c9a5,#75c8a5,#74c7a5,#72c7a5,#71c6a5,#70c6a5,#6ec5a5,#6cc5a5,#6bc4a5,#69c3a5,#68c3a5,#66c2a5,#65c1a5,#64c0a6,#63bea6,#62bda7,#61bca8,#5fbba8)"></div><div style="background:linear-gradient(90deg,#0c48a0,#0c48a0,#0c48a0,#0c48a0,#0c48a0,#0c48a0,#0c48a0,#0c48a0,#0c48a0,#0c48a0,#0c48a0,#0c48a0,#0c48a0,#0c48a0,#0c48a0,#0c48a0,#0c48a0,#0c48a0,#0c48a0,#0c48a0,#0f4da2,#1558a7,#1c63ac,#226eb1,#2978b6,#2f83bb,#358cbb,#3d94b8,#449cb5,#4aa3b2,#50aaaf,#56b0ac,#5bb6aa,#60bba8,#64c0a6,#69c3a5,#6dc5a5,#71c6a5,#75c8a5,#78c9a5,#7bcaa5,#7dcba5,#7fcca5,#81cda5,#82cda5,#84cea5,#84cea5,#85cea5,#85cea5,#85cea5,#85cea5,#85cea5,#85cea5,#84cea5,#84cea5,#83cda5,#82cda5,#81cda5,#80cca5,#7fcca5,#7ecba5,#7dcba5,#7bcaa5,#7acaa5,#79c9a5,#77c9a5,#76c8a5,#74c8a5,#73c7a5,#71c6a5,#70c6a5,#6ec5a5,#6dc5a5,#6bc4a5,#69c3a5,#68c3a5,#66c2a5,#65c1a5,#64c0a6,#63bea7,#62bda7,#60bca8,#5fbaa8)"></div><div style="background:linear-gradient(90deg,#0c48a0,#0c48a0,#0c48a0,#0c48a0,#0c48a0,#0c48a0,#0c48a0,#0c48a0,#0c48a0,#0c48a0,#0c48a0,#0c48a0,#0c48a0,#0c48a0,#0c48a0,#0c48a0,#0c48a0,#0c48a0,#0c48a0,#0c48a0,#104ea3,#175aa8,#1d65ad,#2470b2,#2a7bb7,#3085bc,#388eba,#3f97b7,#469eb4,#4da6b1,#53acae,#58b3ab,#5db8a9,#62bda7,#66c2a5,#6bc4a5,#70c6a5,#74c7a5,#77c9a5,#7acaa5,#7dcba5,#7fcca5,#81cda5,#83cda5,#84cea5,#85cea5,#86cfa5,#86cfa5,#87cfa5,#87cfa5,#87cfa5,#86cfa5,#86cfa5,#85cea5,#85cea5,#84cea5,#83cda5,#82cda5,#81cca5,#80cca5,#7ecca5,#7dcba5,#7ccba5,#7acaa5,#79c9a5,#77c9a5,#76c8a5,#74c8a5,#73c7a5,#71c6a5,#70c6a5,#6ec5a5,#6dc5a5,#6bc4a5,#69c3a5,#68c3a5,#66c2a5,#65c1a5,#64c0a6,#63bea7,#61bda7,#60bca8,#5fbaa8)"></div><div style="background:linear-gradient(90deg,#0c48a0,#0c48a0,#0c48a0,#0c48a0,#0c48a0,#0c48a0,#0c48a0,#0c48a0,#0c48a0,#0c48a0,#0c48a0,#0c48a0,#0c48a0,#0c48a0,#0c48a0,#0c48a0,#0c48a0,#0c48a0,#0c48a0,#0c48a0,#1150a4,#185ca9,#1f68ae,#2573b3,#2c7eb8,#3288bd,#3a91b9,#4199b6,#48a1b3,#4fa8b0,#55afad,#5ab5aa,#5fbba8,#64c0a6,#69c3a5,#6ec5a5,#72c7a5,#76c8a5,#7acaa5,#7dcba5,#7fcca5,#81cda5,#83cda5,#85cea5,#86cfa5,#87cfa5,#88cfa5,#88cfa5,#88cfa5,#88cfa5,#88cfa5,#88cfa5,#87cfa5,#86cfa5,#86cea5,#85cea5,#84cea5,#83cda5,#81cda5,#80cca5,#7fcca5,#7ecba5,#7ccba5,#7bcaa5,#79caa5,#78c9a5,#76c8a5,#75c8a5,#73c7a5,#71c6a5,#70c6a5,#6ec5a5,#6dc5a5,#6bc4a5,#69c3a5,#68c3a5,#66c2a5,#65c1a5,#64bfa6,#63bea7,#61bda7,#60bba8,#5fbaa8)"></div><div style="background:linear-gradient(90deg,#0c48a0,#0c48a0,#0c48a0,#0c48a0,#0c48a0,#0c48a0,#0c48a0,#0c48a0,#0c48a0,#0c48a0,#0c48a0,#0c48a0,#0c48a0,#0c48a0,#0c48a0,#0c48a0,#0c48a0,#0c48a0,#0c48a0,#0c48a0,#1252a5,#195eaa,#206aaf,#2775b5,#2d80b9,#348abc,#3c93b8,#449cb5,#4ba3b2,#51abaf,#57b1ac,#5db8a9,#62bda7,#66c2a5,#6cc4a5,#71c6a5,#75c8a5,#79c9a5,#7ccba5,#7fcca5,#81cda5,#84cea5,#85cea5,#87cfa5,#88cfa5,#89d0a4,#89d0a4,#89d0a4,#89d0a4,#89d0a4,#89d0a4,#89d0a4,#88cfa5,#87cfa5,#86cfa5,#86cea5,#84cea5,#83cda5,#82cda5,#81cca5,#7fcca5,#7ecba5,#7dcba5,#7bcaa5,#7acaa5,#78c9a5,#76c8a5,#75c8a5,#73c7a5,#72c7a5,#70c6a5,#6ec5a5,#6dc5a5,#6bc4a5,#69c3a5,#68c3a5,#66c2a5,#65c1a6,#64bfa6,#62bea7,#61bda7,#60bba8,#5fbaa8)"></div><div style="background:linear-gradient(90deg,#0c48a0,#0c48a0,#0c48a0,#0c48a0,#0c48a0,#0c48a0,#0c48a0,#0c48a0,#0c48a0,#0c48a0,#0c48a0,#0c48a0,#0c48a0,#0c48a0,#0c48a0,#0c48a0,#0c48a0,#0c48a0,#0c48a0,#0c48a0,#1355a6,#1b61ab,#226cb1,#2878b6,#2f83bb,#368dbb,#3e96b7,#469eb4,#4da6b1,#53adae,#59b4ab,#5fbaa8,#64c0a6,#69c3a5,#6ec5a5,#73c7a5,#77c9a5,#7bcaa5,#7ecca5,#81cda5,#84cea5,#86cea5,#87cfa5,#88cfa5,#89d0a4,#8ad0a4,#8bd0a4,#8bd0a4,#8bd0a4,#8bd0a4,#8ad0a4,#8ad0a4,#89d0a4,#88cfa5,#87cfa5,#86cfa5,#85cea5,#84cea5,#83cda5,#81cda5,#80cca5,#7ecca5,#7dcba5,#7bcaa5,#7acaa5,#78c9a5,#77c9a5,#75c8a5,#73c7a5,#72c7a5,#70c6a5,#6ec5a5,#6dc5a5,#6bc4a5,#69c3a5,#68c3a5,#66c2a5,#65c1a6,#64bfa6,#62bea7,#61bda7,#60bba8,#5fbaa8)"></div><div style="background:linear-gradient(90deg,#0c48a0,#0c48a0,#0c48a0,#0c48a0,#0c48a0,#0c48a0,#0c48a0,#0c48a0,#0c48a0,#0c48a0,#0c48a0,#0c48a0,#0c48a0,#0c48a0,#0c48a0,#0c48a0,#0c48a0,#0c48a0,#0c48a0,#0d4aa1,#1557a7,#1c63ac,#236fb2,#2a7bb7,#3186bc,#398fba,#4198b6,#48a1b3,#4fa9af,#56b0ac,#5cb7aa,#61bda7,#66c2a5,#6cc4a5,#71c6a5,#76c8a5,#7acaa5,#7ecba5,#81cca5,#83cea5,#86cea5,#88cfa5,#89d0a4,#8ad0a4,#8bd1a4,#8cd1a4,#8cd1a4,#8cd1a4,#8cd1a4,#8cd1a4,#8bd1a4,#8bd0a4,#8ad0a4,#89d0a4,#88cfa5,#87cfa5,#86cea5,#85cea5,#83cda5,#82cda5,#80cca5,#7fcca5,#7dcba5,#7ccba5,#7acaa5,#78c9a5,#77c9a5,#75c8a5,#73c7a5,#72c7a5,#70c6a5,#6ec5a5,#6dc5a5,#6bc4a5,#69c3a5,#68c3a5,#66c2a5,#65c0a6,#63bfa6,#62bea7,#61bca7,#60bba8,#5ebaa8)"></div><div style="background:linear-gradient(90deg,#0c48a0,#0c48a0,#0c48a0,#0c48a0,#0c48a0,#0c48a0,#0c48a0,#0c48a0,#0c48a0,#0c48a0,#0c48a0,#0c48a0,#0c48a0,#0c48a0,#0c48a0,#0c48a0,#0c48a0,#0c48a0,#0c48a0,#0f4ca2,#1659a8,#1d65ad,#2572b3,#2c7db8,#3289bd,#3b92b9,#439bb5,#4ba4b2,#52abae,#58b3ab,#5eb9a9,#63bfa6,#69c3a5,#6fc5a5,#74c7a5,#79c9a5,#7dcba5,#80cca5,#83cda5,#86cea5,#88cfa5,#8ad0a4,#8bd0a4,#8cd1a4,#8dd1a4,#8dd1a4,#8ed2a4,#8ed2a4,#8dd1a4,#8dd1a4,#8dd1a4,#8cd1a4,#8bd0a4,#8ad0a4,#89d0a4,#88cfa5,#87cfa5,#85cea5,#84cea5,#82cda5,#81cca5,#7fcca5,#7ecba5,#7ccba5,#7acaa5,#79c9a5,#77c9a5,#75c8a5,#74c7a5,#72c7a5,#70c6a5,#6ec5a5,#6dc5a5,#6bc4a5,#69c3a5,#67c3a5,#66c2a5,#65c0a6,#63bfa6,#62bea7,#61bca7,#60bba8,#5eb9a9)"></div><div style="background:linear-gradient(90deg,#0c48a0,#0c48a0,#0c48a0,#0c48a0,#0c48a0,#0c48a0,#0c48a0,#0c48a0,#0c48a0,#0c48a0,#0c48a0,#0c48a0,#0c48a0,#0c48a0,#0c48a0,#0c48a0,#0c48a0,#0c48a0,#0c48a0,#104ea3,#175ba9,#1f68ae,#2674b4,#2d80b9,#358bbc,#3e95b8,#469eb4,#4da6b0,#54aead,#5bb5aa,#60bca8,#66c2a5,#6cc4a5,#72c7a5,#77c9a5,#7bcaa5,#7fcca5,#83cda5,#85cea5,#88cfa5,#8ad0a4,#8cd1a4,#8dd1a4,#8ed2a4,#8fd2a4,#8fd2a4,#8fd2a4,#8fd2a4,#8fd2a4,#8ed2a4,#8ed2a4,#8dd1a4,#8cd1a4,#8bd0a4,#8ad0a4,#89d0a4,#87cfa5,#86cea5,#84cea5,#83cda5,#81cda5,#80cca5,#7ecba5,#7ccba5,#7bcaa5,#79c9a5,#77c9a5,#75c8a5,#74c7a5,#72c7a5,#70c6a5,#6ec5a5,#6dc5a5,#6bc4a5,#69c3a5,#67c3a5,#66c2a5,#64c0a6,#63bfa6,#62bda7,#61bca8,#5fbba8,#5eb9a9)"></div><div style="background:linear-gradient(90deg,#0c48a0,#0c48a0,#0c48a0,#0c48a0,#0c48a0,#0c48a0,#0c48a0,#0c48a0,#0c48a0,#0c48a0,#0c48a0,#0c48a0,#0c48a0,#0c48a0,#0c48a0,#0c48a0,#0c48a0,#0c48a0,#0c48a0,#1151a4,#195eaa,#216bb0,#2877b5,#2f83bb,#378ebb,#4098b7,#48a1b3,#50a9af,#57b1ac,#5db8a9,#63bfa6,#69c3a5,#6fc6a5,#75c8a5,#7acaa5,#7ecba5,#82cda5,#85cea5,#88cfa5,#8ad0a4,#8cd1a4,#8ed2a4,#8fd2a4,#90d2a4,#90d3a4,#91d3a4,#91d3a4,#90d3a4,#90d2a4,#8fd2a4,#8fd2a4,#8ed2a4,#8dd1a4,#8cd1a4,#8bd0a4,#89d0a4,#88cfa5,#86cfa5,#85cea5,#83cda5,#82cda5,#80cca5,#7ecba5,#7dcba5,#7bcaa5,#79c9a5,#77c9a5,#75c8a5,#74c7a5,#72c7a5,#70c6a5,#6ec5a5,#6cc5a5,#6bc4a5,#69c3a5,#67c2a5,#66c1a5,#64c0a6,#63bfa6,#62bda7,#60bca8,#5fbaa8,#5eb9a9)"></div><div style="background:linear-gradient(90deg,#0c48a0,#0c48a0,#0c48a0,#0c48a0,#0c48a0,#0c48a0,#0c48a0,#0c48a0,#0c48a0,#0c48a0,#0c48a0,#0c48a0,#0c48a0,#0c48a0,#0c48a0,#0c48a0,#0c48a0,#0c48a0,#0c48a0,#1253a5,#1a60ab,#226db1,#2a7ab7,#3186bc,#3a91b9,#439ab5,#4ba4b2,#52acae,#59b4ab,#60bba8,#65c1a5,#6cc4a5,#72c7a5,#78c9a5,#7ccba5,#81cca5,#84cea5,#88cfa5,#8ad0a4,#8cd1a4,#8ed2a4,#90d2a4,#91d3a4,#91d3a4,#92d3a4,#92d3a4,#92d3a4,#92d3a4,#91d3a4,#91d3a4,#90d2a4,#8fd2a4,#8ed2a4,#8dd1a4,#8bd1a4,#8ad0a4,#88cfa5,#87cfa5,#85cea5,#84cea5,#82cda5,#80cca5,#7ecca5,#7dcba5,#7bcaa5,#79c9a5,#77c9a5,#75c8a5,#74c7a5,#72c7a5,#70c6a5,#6ec5a5,#6cc4a5,#6bc4a5,#69c3a5,#67c2a5,#65c1a5,#64c0a6,#63bea7,#61bda7,#60bba8,#5fbaa8,#5eb9a9)"></div><div style="background:linear-gradient(90deg,#0c48a0,#0c48a0,#0c48a0,#0c48a0,#0c48a0,#0c48a0,#0c48a0,#0c48a0,#0c48a0,#0c48a0,#0c48a0,#0c48a0,#0c48a0,#0c48a0,#0c48a0,#0c48a0,#0c48a0,#0c48a0,#0c48a0,#1455a6,#1c63ac,#2470b2,#2b7db8,#3389bd,#3c94b8,#459db4,#4da6b0,#55afad,#5cb7aa,#62bea7,#68c3a5,#6fc6a5,#75c8a5,#7bcaa5,#7fcca5,#83cea5,#87cfa5,#8ad0a4,#8dd1a4,#8fd2a4,#90d3a4,#92d3a4,#93d3a4,#93d4a4,#93d4a4,#94d4a4,#93d4a4,#93d4a4,#92d3a4,#92d3a4,#91d3a4,#90d2a4,#8fd2a4,#8dd1a4,#8cd1a4,#8ad0a4,#89d0a4,#87cfa5,#86cea5,#84cea5,#82cda5,#80cca5,#7fcca5,#7dcba5,#7bcaa5,#79caa5,#77c9a5,#75c8a5,#74c7a5,#72c7a5,#70c6a5,#6ec5a5,#6cc4a5,#6ac4a5,#69c3a5,#67c2a5,#65c1a5,#64c0a6,#63bea7,#61bda7,#60bba8,#5fbaa8,#5db8a9)"></div><div style="background:linear-gradient(90deg,#0c48a0,#0c48a0,#0c48a0,#0c48a0,#0c48a0,#0c48a0,#0c48a0,#0c48a0,#0c48a0,#0c48a0,#0c48a0,#0c48a0,#0c48a0,#0c48a0,#0c48a0,#0c48a0,#0c48a0,#0c48a0,#0d49a1,#1558a7,#1e66ad,#2673b4,#2d80b9,#368cbb,#3f96b7,#48a0b3,#50a9af,#58b2ac,#5ebaa9,#65c0a6,#6cc4a5,#72c7a5,#78c9a5,#7ecba5,#82cda5,#86cfa5,#8ad0a4,#8cd1a4,#8fd2a4,#91d3a4,#92d3a4,#94d4a4,#94d4a4,#95d4a4,#95d4a4,#95d4a4,#95d4a4,#94d4a4,#94d4a4,#93d4a4,#92d3a4,#91d3a4,#8fd2a4,#8ed2a4,#8dd1a4,#8bd1a4,#89d0a4,#88cfa5,#86cfa5,#84cea5,#83cda5,#81cca5,#7fcca5,#7dcba5,#7bcaa5,#79caa5,#77c9a5,#75c8a5,#74c7a5,#72c7a5,#70c6a5,#6ec5a5,#6cc4a5,#6ac4a5,#68c3a5,#66c2a5,#65c1a5,#64bfa6,#62bea7,#61bca7,#60bba8,#5eb9a9,#5db8a9)"></div><div style="background:linear-gradient(90deg,#0c48a0,#0c48a0,#0c48a0,#0c48a0,#0c48a0,#0c48a0,#0c48a0,#0c48a0,#0c48a0,#0c48a0,#0c48a0,#0c48a0,#0c48a0,#0c48a0,#0c48a0,#0c48a0,#0c48a0,#0c48a0,#0e4ca2,#175aa8,#1f68af,#2776b5,#2f83bb,#388fba,#4299b6,#4ba3b2,#53acae,#5ab5aa,#61bca7,#68c3a5,#6fc6a5,#76c8a5,#7bcaa5,#81cca5,#85cea5,#89d0a4,#8cd1a4,#8fd2a4,#91d3a4,#93d4a4,#94d4a4,#95d5a4,#96d5a4,#97d5a4,#97d5a4,#96d5a4,#96d5a4,#96d5a4,#95d4a4,#94d4a4,#93d3a4,#92d3a4,#90d3a4,#8fd2a4,#8dd1a4,#8cd1a4,#8ad0a4,#88cfa5,#86cfa5,#85cea5,#83cda5,#81cda5,#7fcca5,#7dcba5,#7bcaa5,#79caa5,#77c9a5,#75c8a5,#73c7a5,#72c7a5,#70c6a5,#6ec5a5,#6cc4a5,#6ac4a5,#68c3a5,#66c2a5,#65c1a6,#63bfa6,#62bea7,#61bca7,#5fbba8,#5eb9a9,#5db8a9)"></div><div style="background:linear-gradient(90deg,#0c48a0,#0c48a0,#0c48a0,#0c48a0,#0c48a0,#0c48a0,#0c48a0,#0c48a0,#0c48a0,#0c48a0,#0c48a0,#0c48a0,#0c48a0,#0c48a0,#0c48a0,#0c48a0,#0c48a0,#0c48a0,#104ea3,#185da9,#216bb0,#2979b6,#3186bc,#3b92b9,#449db4,#4da6b0,#55b0ad,#5db8a9,#64bfa6,#6bc4a5,#72c7a5,#79c9a5,#7fcca5,#84cea5,#88cfa5,#8cd1a4,#8fd2a4,#91d3a4,#93d4a4,#95d4a4,#96d5a4,#97d5a4,#98d6a4,#98d6a4,#98d6a4,#98d6a4,#97d5a4,#97d5a4,#96d5a4,#95d4a4,#94d4a4,#92d3a4,#91d3a4,#8fd2a4,#8ed2a4,#8cd1a4,#8ad0a4,#89d0a4,#87cfa5,#85cea5,#83cda5,#81cda5,#7fcca5,#7dcba5,#7bcaa5,#79caa5,#77c9a5,#75c8a5,#73c7a5,#71c6a5,#6fc6a5,#6dc5a5,#6cc4a5,#6ac3a5,#68c3a5,#66c2a5,#65c0a6,#63bfa6,#62bda7,#60bca8,#5fbaa8,#5eb9a9,#5cb7a9)"></div><div style="background:linear-gradient(90deg,#0c48a0,#0c48a0,#0c48a0,#0c48a0,#0c48a0,#0c48a0,#0c48a0,#0c48a0,#0c48a0,#0c48a0,#0c48a0,#0c48a0,#0c48a0,#0c48a0,#0c48a0,#0c48a0,#0c48a0,#0c48a0,#1151a4,#1a60ab,#236eb1,#2b7cb8,#338abc,#3e95b8,#47a0b3,#50aaaf,#58b3ab,#60bba8,#67c2a5,#6fc5a5,#76c8a5,#7ccba5,#82cda5,#87cfa5,#8bd0a4,#8ed2a4,#91d3a4,#94d4a4,#96d5a4,#97d5a4,#98d6a4,#99d6a4,#9ad6a4,#9ad6a4,#9ad6a4,#99d6a4,#99d6a4,#98d6a4,#97d5a4,#96d5a4,#95d4a4,#93d4a4,#92d3a4,#90d2a4,#8ed2a4,#8dd1a4,#8bd0a4,#89d0a4,#87cfa5,#85cea5,#83cda5,#81cda5,#7fcca5,#7dcba5,#7bcaa5,#79caa5,#77c9a5,#75c8a5,#73c7a5,#71c6a5,#6fc6a5,#6dc5a5,#6bc4a5,#69c3a5,#67c3a5,#66c2a5,#64c0a6,#63bfa6,#61bda7,#60bba8,#5fbaa8,#5db8a9,#5cb7aa)"></div><div style="background:linear-gradient(90deg,#0c48a0,#0c48a0,#0c48a0,#0c48a0,#0c48a0,#0c48a0,#0c48a0,#0c48a0,#0c48a0,#0c48a0,#0c48a0,#0c48a0,#0c48a0,#0c48a0,#0c48a0,#0c48a0,#0c48a0,#0c48a0,#1353a5,#1c63ac,#2571b3,#2d80b9,#368dbb,#4198b6,#4aa3b2,#53adae,#5bb6aa,#62bea7,#6ac4a5,#72c7a5,#79c9a5,#7fcca5,#85cea5,#8ad0a4,#8ed2a4,#91d3a4,#94d4a4,#96d5a4,#98d6a4,#99d6a4,#9ad7a4,#9bd7a4,#9bd7a4,#9bd7a4,#9bd7a4,#9bd7a4,#9ad6a4,#99d6a4,#98d6a4,#97d5a4,#95d5a4,#94d4a4,#92d3a4,#91d3a4,#8fd2a4,#8dd1a4,#8bd1a4,#89d0a4,#87cfa5,#85cea5,#83cda5,#81cda5,#7fcca5,#7dcba5,#7bcaa5,#79c9a5,#77c9a5,#75c8a5,#73c7a5,#71c6a5,#6fc6a5,#6dc5a5,#6bc4a5,#69c3a5,#67c2a5,#65c1a5,#64c0a6,#63bea7,#61bda7,#60bba8,#5ebaa8,#5db8a9,#5cb7aa)"></div><div style="background:linear-gradient(90deg,#0c48a0,#0c48a0,#0c48a0,#0c48a0,#0c48a0,#0c48a0,#0c48a0,#0c48a0,#0c48a0,#0c48a0,#0c48a0,#0c48a0,#0c48a0,#0c48a0,#0c48a0,#0c48a0,#0c48a0,#0c48a0,#1456a6,#1e66ad,#2675b4,#2f83bb,#3990ba,#439bb5,#4da6b1,#56b0ac,#5eb9a9,#65c1a5,#6ec5a5,#76c8a5,#7dcba5,#83cda5,#88cfa5,#8dd1a4,#90d3a4,#94d4a4,#96d5a4,#99d6a4,#9ad6a4,#9cd7a4,#9cd7a4,#9dd7a4,#9dd8a4,#9dd8a4,#9dd7a4,#9cd7a4,#9bd7a4,#9ad6a4,#99d6a4,#98d5a4,#96d5a4,#95d4a4,#93d4a4,#91d3a4,#8fd2a4,#8ed1a4,#8cd1a4,#8ad0a4,#88cfa5,#86cea5,#83cea5,#81cda5,#7fcca5,#7dcba5,#7bcaa5,#79c9a5,#77c9a5,#75c8a5,#73c7a5,#71c6a5,#6fc5a5,#6dc5a5,#6bc4a5,#69c3a5,#67c2a5,#65c1a5,#64bfa6,#62bea7,#61bca7,#5fbba8,#5eb9a9,#5db8a9,#5bb6aa)"></div><div style="background:linear-gradient(90deg,#0c48a0,#0c48a0,#0c48a0,#0c48a0,#0c48a0,#0c48a0,#0c48a0,#0c48a0,#0c48a0,#0c48a0,#0c48a0,#0c48a0,#0c48a0,#0c48a0,#0c48a0,#0c48a0,#0c48a0,#0c49a0,#1659a8,#1f69af,#2878b6,#3187bc,#3c93b8,#469fb4,#50a9af,#59b3ab,#61bca7,#69c3a5,#72c7a5,#79caa5,#80cca5,#86cfa5,#8bd1a4,#90d2a4,#93d4a4,#96d5a4,#99d6a4,#9bd7a4,#9dd7a4,#9ed8a4,#9ed8a4,#9fd8a4,#9fd8a4,#9fd8a4,#9ed8a4,#9dd8a4,#9cd7a4,#9bd7a4,#9ad6a4,#98d6a4,#97d5a4,#95d5a4,#94d4a4,#92d3a4,#90d2a4,#8ed2a4,#8cd1a4,#8ad0a4,#88cfa5,#86cea5,#84cea5,#81cda5,#7fcca5,#7dcba5,#7bcaa5,#79c9a5,#77c9a5,#75c8a5,#73c7a5,#71c6a5,#6ec5a5,#6cc5a5,#6ac4a5,#68c3a5,#66c2a5,#65c1a6,#63bfa6,#62bda7,#61bca8,#5fbaa8,#5eb9a9,#5cb7a9,#5bb6aa)"></div><div style="background:linear-gradient(90deg,#0c48a0,#0c48a0,#0c48a0,#0c48a0,#0c48a0,#0c48a0,#0c48a0,#0c48a0,#0c48a0,#0c48a0,#0c48a0,#0c48a0,#0c48a0,#0c48a0,#0c48a0,#0c48a0,#0c48a0,#0e4ba1,#185ca9,#216cb0,#2b7bb7,#348abc,#3f96b7,#49a2b2,#53adae,#5cb7aa,#64c0a6,#6dc5a5,#75c8a5,#7dcba5,#84cea5,#89d0a4,#8ed2a4,#93d3a4,#96d5a4,#99d6a4,#9cd7a4,#9dd8a4,#9fd8a4,#a0d9a4,#a0d9a4,#a0d9a4,#a0d9a4,#a0d9a4,#9fd8a4,#9fd8a4,#9dd8a4,#9cd7a4,#9bd7a4,#99d6a4,#98d5a4,#96d5a4,#94d4a4,#92d3a4,#90d3a4,#8ed2a4,#8cd1a4,#8ad0a4,#88cfa5,#86cea5,#84cea5,#81cda5,#7fcca5,#7dcba5,#7bcaa5,#79c9a5,#77c8a5,#74c8a5,#72c7a5,#70c6a5,#6ec5a5,#6cc4a5,#6ac4a5,#68c3a5,#66c2a5,#65c0a6,#63bfa6,#62bda7,#60bca8,#5fbaa8,#5db8a9,#5cb7aa,#5bb5aa)"></div><div style="background:linear-gradient(90deg,#0c48a0,#0c48a0,#0c48a0,#0c48a0,#0c48a0,#0c48a0,#0c48a0,#0c48a0,#0c48a0,#0c48a0,#0c48a0,#0c48a0,#0c48a0,#0c48a0,#0c48a0,#0c48a0,#0c48a0,#104ea3,#1a5faa,#236fb2,#2d7fb9,#378dbb,#429ab6,#4da6b1,#56b0ac,#5fbaa8,#67c2a5,#71c6a5,#79c9a5,#81cca5,#87cfa5,#8dd1a4,#91d3a4,#96d5a4,#99d6a4,#9cd7a4,#9ed8a4,#a0d9a4,#a1d9a4,#a2d9a4,#a2daa4,#a2daa4,#a2d9a4,#a1d9a4,#a1d9a4,#a0d9a4,#9fd8a4,#9dd8a4,#9cd7a4,#9ad6a4,#98d6a4,#97d5a4,#95d4a4,#93d3a4,#91d3a4,#8fd2a4,#8cd1a4,#8ad0a4,#88cfa5,#86cea5,#84cea5,#81cda5,#7fcca5,#7dcba5,#7bcaa5,#79c9a5,#76c8a5,#74c8a5,#72c7a5,#70c6a5,#6ec5a5,#6cc4a5,#6ac3a5,#68c3a5,#66c2a5,#64c0a6,#63bea7,#61bda7,#60bba8,#5ebaa9,#5db8a9,#5cb6aa,#5ab5aa)"></div><div style="background:linear-gradient(90deg,#0c48a0,#0c48a0,#0c48a0,#0c48a0,#0c48a0,#0c48a0,#0c48a0,#0c48a0,#0c48a0,#0c48a0,#0c48a0,#0c48a0,#0c48a0,#0c48a0,#0c48a0,#0c48a0,#0c48a0,#1151a4,#1b62ac,#2573b3,#2f83bb,#3a91b9,#459db4,#50a9af,#59b4ab,#62bea7,#6bc4a5,#75c8a5,#7dcba5,#84cea5,#8bd0a4,#90d2a4,#95d4a4,#99d6a4,#9cd7a4,#9ed8a4,#a0d9a4,#a2d9a4,#a3daa4,#a4daa4,#a4daa4,#a4daa4,#a4daa4,#a3daa4,#a2d9a4,#a1d9a4,#a0d9a4,#9ed8a4,#9dd7a4,#9bd7a4,#99d6a4,#97d5a4,#95d4a4,#93d4a4,#91d3a4,#8fd2a4,#8dd1a4,#8ad0a4,#88cfa5,#86cea5,#84cea5,#81cda5,#7fcca5,#7dcba5,#7bcaa5,#78c9a5,#76c8a5,#74c7a5,#72c7a5,#70c6a5,#6dc5a5,#6bc4a5,#69c3a5,#67c2a5,#65c1a5,#64c0a6,#62bea7,#61bca7,#5fbba8,#5eb9a9,#5db8a9,#5bb6aa,#5ab4ab)"></div><div style="background:linear-gradient(90deg,#0c48a0,#0c48a0,#0c48a0,#0c48a0,#0c48a0,#0c48a0,#0c48a0,#0c48a0,#0c48a0,#0c48a0,#0c48a0,#0c48a0,#0c48a0,#0c48a0,#0c48a0,#0c48a0,#0c48a0,#1354a5,#1d65ad,#2776b5,#3186bc,#3d94b8,#48a1b3,#53adae,#5db7a9,#65c1a5,#6fc6a5,#79c9a5,#81cca5,#88cfa5,#8ed2a4,#93d4a4,#98d6a4,#9cd7a4,#9fd8a4,#a1d9a4,#a3daa4,#a4daa4,#a5dba4,#a6dba4,#a6dba4,#a6dba4,#a5dba4,#a4daa4,#a3daa4,#a2d9a4,#a1d9a4,#9fd8a4,#9dd8a4,#9cd7a4,#9ad6a4,#98d5a4,#96d5a4,#93d4a4,#91d3a4,#8fd2a4,#8dd1a4,#8ad0a4,#88cfa5,#86cea5,#84cea5,#81cda5,#7fcca5,#7dcba5,#7acaa5,#78c9a5,#76c8a5,#74c7a5,#71c6a5,#6fc6a5,#6dc5a5,#6bc4a5,#69c3a5,#67c2a5,#65c1a5,#63bfa6,#62bda7,#60bca8,#5fbaa8,#5eb9a9,#5cb7aa,#5bb5aa,#59b4ab)"></div><div style="background:linear-gradient(90deg,#0c48a0,#0c48a0,#0c48a0,#0c48a0,#0c48a0,#0c48a0,#0c48a0,#0c48a0,#0c48a0,#0c48a0,#0c48a0,#0c48a0,#0c48a0,#0c48a0,#0c48a0,#0c48a0,#0c48a0,#1557a7,#1f69af,#2a7ab7,#348abc,#4098b6,#4ca5b1,#56b0ac,#60bba8,#69c3a5,#74c7a5,#7dcba5,#85cea5,#8cd1a4,#92d3a4,#97d5a4,#9bd7a4,#9fd8a4,#a1d9a4,#a4daa4,#a5dba4,#a7dba4,#a7dca4,#a8dca4,#a8dca4,#a7dba4,#a6dba4,#a6dba4,#a4daa4,#a3daa4,#a2d9a4,#a0d9a4,#9ed8a4,#9cd7a4,#9ad6a4,#98d6a4,#96d5a4,#94d4a4,#91d3a4,#8fd2a4,#8dd1a4,#8ad0a4,#88cfa5,#86cea5,#83cea5,#81cda5,#7fcca5,#7ccba5,#7acaa5,#78c9a5,#75c8a5,#73c7a5,#71c6a5,#6fc5a5,#6dc5a5,#6ac4a5,#68c3a5,#66c2a5,#65c0a6,#63bfa6,#62bda7,#60bba8,#5fbaa8,#5db8a9,#5cb7aa,#5ab5aa,#59b3ab)"></div><div style="background:linear-gradient(90deg,#0c48a0,#0c48a0,#0c48a0,#0c48a0,#0c48a0,#0c48a0,#0c48a0,#0c48a0,#0c48a0,#0c48a0,#0c48a0,#0c48a0,#0c48a0,#0c48a0,#0c48a0,#0c48a0,#0c48a0,#175aa8,#226cb1,#2c7eb8,#378ebb,#449cb5,#4fa8b0,#5ab4ab,#63bfa6,#6ec5a5,#78c9a5,#81cca5,#88cfa5,#8fd2a4,#95d4a4,#9ad6a4,#9ed8a4,#a2d9a4,#a4daa4,#a6dba4,#a8dca4,#a9dca4,#a9dca4,#a9dca4,#a9dca4,#a9dca4,#a8dca4,#a7dba4,#a6dba4,#a4daa4,#a2daa4,#a1d9a4,#9fd8a4,#9dd7a4,#9bd7a4,#98d6a4,#96d5a4,#94d4a4,#92d3a4,#8fd2a4,#8dd1a4,#8ad0a4,#88cfa5,#86cea5,#83cda5,#81cda5,#7ecca5,#7ccba5,#7acaa5,#77c9a5,#75c8a5,#73c7a5,#71c6a5,#6ec5a5,#6cc4a5,#6ac4a5,#68c3a5,#66c2a5,#64c0a6,#63bea7,#61bda7,#60bba8,#5eb9a9,#5db8a9,#5bb6aa,#5ab4ab,#58b3ab)"></div><div style="background:linear-gradient(90deg,#0c48a0,#0c48a0,#0c48a0,#0c48a0,#0c48a0,#0c48a0,#0c48a0,#0c48a0,#0c48a0,#0c48a0,#0c48a0,#0c48a0,#0c48a0,#0c48a0,#0c48a0,#0c48a0,#0e4ba1,#195eaa,#2470b2,#2e82ba,#3a91b9,#479fb3,#53acae,#5db8a9,#67c2a5,#72c7a5,#7ccba5,#85cea5,#8cd1a4,#93d4a4,#99d6a4,#9dd8a4,#a1d9a4,#a4daa4,#a7dba4,#a9dca4,#aadda4,#abdda4,#abdda4,#abdda4,#abdda4,#aadda4,#a9dca4,#a8dca4,#a7dba4,#a5dba4,#a3daa4,#a1d9a4,#9fd8a4,#9dd8a4,#9bd7a4,#99d6a4,#97d5a4,#94d4a4,#92d3a4,#8fd2a4,#8dd1a4,#8ad0a4,#88cfa5,#86cea5,#83cda5,#81cca5,#7ecba5,#7ccba5,#79caa5,#77c9a5,#75c8a5,#72c7a5,#70c6a5,#6ec5a5,#6cc4a5,#69c3a5,#67c2a5,#65c1a5,#64bfa6,#62bea7,#61bca7,#5fbaa8,#5eb9a9,#5cb7aa,#5bb5aa,#59b4ab,#58b2ab)"></div><div style="background:linear-gradient(90deg,#0c48a0,#0c48a0,#0c48a0,#0c48a0,#0c48a0,#0c48a0,#0c48a0,#0c48a0,#0c48a0,#0c48a0,#0c48a0,#0c48a0,#0c48a0,#0c48a0,#0c48a0,#0c48a0,#0f4ea3,#1b61ab,#2674b4,#3186bc,#3e95b7,#4ba3b2,#56b0ac,#61bca8,#6bc4a5,#76c8a5,#80cca5,#89d0a4,#90d3a4,#97d5a4,#9cd7a4,#a1d9a4,#a4daa4,#a7dca4,#aadca4,#abdda4,#acdda4,#addea4,#addea4,#addea4,#acdea4,#acdda4,#abdda4,#a9dca4,#a8dca4,#a6dba4,#a4daa4,#a2daa4,#a0d9a4,#9ed8a4,#9cd7a4,#99d6a4,#97d5a4,#94d4a4,#92d3a4,#8fd2a4,#8dd1a4,#8ad0a4,#88cfa5,#85cea5,#83cda5,#80cca5,#7ecba5,#7bcaa5,#79c9a5,#77c9a5,#74c8a5,#72c7a5,#70c6a5,#6dc5a5,#6bc4a5,#69c3a5,#67c2a5,#65c1a6,#63bfa6,#62bda7,#60bba8,#5fbaa8,#5db8a9,#5cb7aa,#5ab5aa,#59b3ab,#57b2ac)"></div><div style="background:linear-gradient(90deg,#0c48a0,#0c48a0,#0c48a0,#0c48a0,#0c48a0,#0c48a0,#0c48a0,#0c48a0,#0c48a0,#0c48a0,#0c48a0,#0c48a0,#0c48a0,#0c48a0,#0c48a0,#0c48a0,#1151a4,#1d65ad,#2978b6,#348abc,#4199b6,#4ea7b0,#5ab4ab,#64c0a6,#70c6a5,#7bcaa5,#85cea5,#8dd1a4,#94d4a4,#9ad7a4,#a0d9a4,#a4daa4,#a7dca4,#aadda4,#acdda4,#addea4,#aedea3,#afdea3,#afdea3,#aedea3,#aedea3,#addea4,#acdda4,#aadda4,#a9dca4,#a7dba4,#a5dba4,#a3daa4,#a1d9a4,#9ed8a4,#9cd7a4,#99d6a4,#97d5a4,#94d4a4,#92d3a4,#8fd2a4,#8dd1a4,#8ad0a4,#88cfa5,#85cea5,#83cda5,#80cca5,#7ecba5,#7bcaa5,#79c9a5,#76c8a5,#74c7a5,#71c6a5,#6fc6a5,#6dc5a5,#6ac4a5,#68c3a5,#66c2a5,#64c0a6,#63bea6,#61bda7,#60bba8,#5eb9a9,#5db8a9,#5bb6aa,#5ab4ab,#58b3ab,#57b1ac)"></div><div style="background:linear-gradient(90deg,#0c48a0,#0c48a0,#0c48a0,#0c48a0,#0c48a0,#0c48a0,#0c48a0,#0c48a0,#0c48a0,#0c48a0,#0c48a0,#0c48a0,#0c48a0,#0c48a0,#0c48a0,#0c48a0,#1355a6,#2069af,#2b7cb8,#378ebb,#459db4,#52abae,#5db8a9,#68c3a5,#75c8a5,#7fcca5,#89d0a4,#91d3a4,#98d6a4,#9ed8a4,#a3daa4,#a7dca4,#abdda4,#addea4,#aedea3,#afdfa3,#b0dfa3,#b0dfa3,#b0dfa3,#b0dfa3,#afdfa3,#aedea3,#addea4,#abdda4,#aadca4,#a8dca4,#a6dba4,#a3daa4,#a1d9a4,#9fd8a4,#9cd7a4,#9ad6a4,#97d5a4,#95d4a4,#92d3a4,#8fd2a4,#8dd1a4,#8ad0a4,#87cfa5,#85cea5,#82cda5,#80cca5,#7dcba5,#7bcaa5,#78c9a5,#76c8a5,#73c7a5,#71c6a5,#6ec5a5,#6cc4a5,#6ac4a5,#68c3a5,#66c1a5,#64c0a6,#62bea7,#61bca7,#5fbaa8,#5eb9a9,#5cb7aa,#5bb5aa,#59b4ab,#58b2ac,#56b1ac)"></div><div style="background:linear-gradient(90deg,#0c48a0,#0c48a0,#0c48a0,#0c48a0,#0c48a0,#0c48a0,#0c48a0,#0c48a0,#0c48a0,#0c48a0,#0c48a0,#0c48a0,#0c48a0,#0c48a0,#0c48a0,#0c48a0,#1658a7,#226db1,#2e81ba,#3b92b9,#49a1b2,#56b0ad,#61bca7,#6dc5a5,#79caa5,#84cea5,#8dd1a4,#95d5a4,#9cd7a4,#a2d9a4,#a7dba4,#abdda4,#addea4,#afdfa3,#b1dfa3,#b1e0a3,#b2e0a3,#b2e0a3,#b2e0a3,#b1dfa3,#b0dfa3,#afdfa3,#aedea3,#acdea4,#abdda4,#a8dca4,#a6dba4,#a4daa4,#a1d9a4,#9fd8a4,#9cd7a4,#9ad6a4,#97d5a4,#95d4a4,#92d3a4,#8fd2a4,#8dd1a4,#8ad0a4,#87cfa5,#85cea5,#82cda5,#7fcca5,#7dcba5,#7acaa5,#78c9a5,#75c8a5,#73c7a5,#70c6a5,#6ec5a5,#6cc4a5,#69c3a5,#67c2a5,#65c1a5,#63bfa6,#62bda7,#60bba8,#5fbaa8,#5db8a9,#5cb6aa,#5ab5aa,#59b3ab,#57b2ac,#56b0ac)"></div><div style="background:linear-gradient(90deg,#0c48a0,#0c48a0,#0c48a0,#0c48a0,#0c48a0,#0c48a0,#0c48a0,#0c48a0,#0c48a0,#0c48a0,#0c48a0,#0c48a0,#0c48a0,#0c48a0,#0c48a0,#0c48a0,#185ca9,#2471b3,#3085bc,#3f96b7,#4da6b1,#59b4ab,#65c1a6,#72c7a5,#7ecba5,#89d0a4,#92d3a4,#9ad6a4,#a0d9a4,#a6dba4,#aadda4,#addea4,#b0dfa3,#b2e0a3,#b3e0a2,#b3e0a2,#b4e1a2,#b4e1a2,#b3e0a2,#b2e0a2,#b1e0a3,#b0dfa3,#afdfa3,#addea4,#abdda4,#a9dca4,#a7dba4,#a4daa4,#a2d9a4,#9fd8a4,#9dd7a4,#9ad6a4,#97d5a4,#94d4a4,#92d3a4,#8fd2a4,#8cd1a4,#8ad0a4,#87cfa5,#84cea5,#81cda5,#7fcca5,#7ccba5,#7acaa5,#77c9a5,#75c8a5,#72c7a5,#70c6a5,#6dc5a5,#6bc4a5,#69c3a5,#66c2a5,#65c0a6,#63bea6,#61bda7,#60bba8,#5eb9a9,#5cb7a9,#5bb6aa,#5ab4ab,#58b2ab,#57b1ac,#55afad)"></div><div style="background:linear-gradient(90deg,#0c48a0,#0c48a0,#0c48a0,#0c48a0,#0c48a0,#0c48a0,#0c48a0,#0c48a0,#0c48a0,#0c48a0,#0c48a0,#0c48a0,#0c48a0,#0c48a0,#0c48a0,#0d4aa1,#1a60ab,#2775b5,#338abc,#439bb5,#51aaaf,#5db8a9,#6ac3a5,#77c9a5,#83cda5,#8dd1a4,#96d5a4,#9ed8a4,#a4daa4,#a9dca4,#addea4,#b0dfa3,#b2e0a3,#b4e1a2,#b5e1a2,#b5e1a2,#b6e1a2,#b5e1a2,#b5e1a2,#b4e1a2,#b3e0a2,#b1e0a3,#b0dfa3,#aedea3,#acdda4,#aadda4,#a7dca4,#a5dba4,#a2daa4,#9fd8a4,#9dd7a4,#9ad6a4,#97d5a4,#94d4a4,#92d3a4,#8fd2a4,#8cd1a4,#89d0a4,#86cfa5,#84cea5,#81cda5,#7ecca5,#7ccaa5,#79c9a5,#76c8a5,#74c7a5,#71c6a5,#6fc6a5,#6dc5a5,#6ac4a5,#68c3a5,#66c2a5,#64c0a6,#62bea7,#61bca7,#5fbaa8,#5db8a9,#5cb7aa,#5ab5aa,#59b3ab,#57b2ac,#56b0ac,#55afad)"></div><div style="background:linear-gradient(90deg,#0c48a0,#0c48a0,#0c48a0,#0c48a0,#0c48a0,#0c48a0,#0c48a0,#0c48a0,#0c48a0,#0c48a0,#0c48a0,#0c48a0,#0c48a0,#0c48a0,#0c48a0,#0f4ea3,#1d64ad,#2a7ab7,#378ebb,#479fb3,#55afad,#61bda7,#6fc5a5,#7ccba5,#88cfa5,#92d3a4,#9bd7a4,#a2d9a4,#a8dca4,#addea4,#b0dfa3,#b3e0a2,#b5e1a2,#b6e2a2,#b7e2a2,#b7e2a1,#b7e2a2,#b7e2a2,#b6e1a2,#b5e1a2,#b4e1a2,#b2e0a3,#b0dfa3,#afdea3,#addea4,#aadda4,#a8dca4,#a5dba4,#a2daa4,#a0d9a4,#9dd7a4,#9ad6a4,#97d5a4,#94d4a4,#91d3a4,#8fd2a4,#8cd1a4,#89d0a4,#86cfa5,#83cda5,#80cca5,#7ecba5,#7bcaa5,#78c9a5,#76c8a5,#73c7a5,#71c6a5,#6ec5a5,#6cc4a5,#69c3a5,#67c2a5,#65c1a5,#63bfa6,#62bda7,#60bba8,#5ebaa8,#5db8a9,#5bb6aa,#5ab4ab,#58b3ab,#57b1ac,#55afad,#54aead)"></div><div style="background:linear-gradient(90deg,#0c48a0,#0c48a0,#0c48a0,#0c48a0,#0c48a0,#0c48a0,#0c48a0,#0c48a0,#0c48a0,#0c48a0,#0c48a0,#0c48a0,#0c48a0,#0c48a0,#0c48a0,#1251a4,#1f69af,#2d7fb9,#3b92b9,#4ba4b2,#59b3ab,#65c1a5,#74c8a5,#81cda5,#8dd1a4,#97d5a4,#9fd8a4,#a6dba4,#acdda4,#b0dfa3,#b3e0a2,#b6e1a2,#b7e2a1,#b8e2a1,#b9e3a1,#b9e3a1,#b9e3a1,#b8e2a1,#b7e2a1,#b6e2a2,#b5e1a2,#b3e0a2,#b1e0a3,#afdfa3,#addea4,#abdda4,#a8dca4,#a5dba4,#a3daa4,#a0d9a4,#9dd7a4,#9ad6a4,#97d5a4,#94d4a4,#91d3a4,#8ed2a4,#8bd1a4,#88cfa5,#86cea5,#83cda5,#80cca5,#7dcba5,#7acaa5,#78c9a5,#75c8a5,#73c7a5,#70c6a5,#6ec5a5,#6bc4a5,#69c3a5,#66c2a5,#64c0a6,#63bea7,#61bca7,#5fbba8,#5eb9a9,#5cb7aa,#5bb5aa,#59b4ab,#58b2ac,#56b0ac,#55afad,#53adae)"></div><div style="background:linear-gradient(90deg,#0c48a0,#0c48a0,#0c48a0,#0c48a0,#0c48a0,#0c48a0,#0c48a0,#0c48a0,#0c48a0,#0c48a0,#0c48a0,#0c48a0,#0c48a0,#0c48a0,#0c48a0,#1456a6,#226db1,#2f84bb,#3f97b7,#4fa8b0,#5db8a9,#6bc4a5,#79caa5,#86cfa5,#92d3a4,#9bd7a4,#a3daa4,#aadda4,#afdfa3,#b3e0a2,#b6e1a2,#b8e2a1,#bae3a1,#bbe3a1,#bbe4a1,#bbe4a1,#bbe3a1,#bae3a1,#b9e3a1,#b7e2a2,#b6e1a2,#b4e1a2,#b2e0a3,#b0dfa3,#aedea3,#abdda4,#a8dca4,#a6dba4,#a3daa4,#a0d9a4,#9dd7a4,#9ad6a4,#97d5a4,#94d4a4,#91d3a4,#8ed2a4,#8bd0a4,#88cfa5,#85cea5,#82cda5,#7fcca5,#7dcba5,#7acaa5,#77c9a5,#74c8a5,#72c7a5,#6fc6a5,#6dc5a5,#6ac4a5,#68c3a5,#66c2a5,#64c0a6,#62bea7,#60bca8,#5fbaa8,#5db8a9,#5cb6aa,#5ab5ab,#58b3ab,#57b1ac,#56b0ad,#54aead,#53acae)"></div><div style="background:linear-gradient(90deg,#0c48a0,#0c48a0,#0c48a0,#0c48a0,#0c48a0,#0c48a0,#0c48a0,#0c48a0,#0c48a0,#0c48a0,#0c48a0,#0c48a0,#0c48a0,#0c48a0,#0c48a0,#175aa8,#2572b3,#3389bd,#449cb5,#53adae,#61bda7,#70c6a5,#7fcca5,#8cd1a4,#97d5a4,#a0d9a4,#a8dca4,#aedea3,#b2e0a2,#b6e2a2,#b9e3a1,#bbe3a1,#bce4a1,#bde4a0,#bde4a0,#bde4a0,#bce4a1,#bbe4a1,#bae3a1,#b8e2a1,#b7e2a2,#b5e1a2,#b3e0a2,#b0dfa3,#aedea3,#acdda4,#a9dca4,#a6dba4,#a3daa4,#a0d9a4,#9dd7a4,#9ad6a4,#96d5a4,#93d4a4,#90d3a4,#8dd1a4,#8ad0a4,#87cfa5,#84cea5,#82cda5,#7fcca5,#7ccba5,#79c9a5,#76c8a5,#74c7a5,#71c6a5,#6ec5a5,#6cc4a5,#69c3a5,#67c2a5,#65c1a5,#63bfa6,#61bda7,#60bba8,#5eb9a9,#5cb7a9,#5bb6aa,#59b4ab,#58b2ac,#56b0ac,#55afad,#53adae,#52acae)"></div><div style="background:linear-gradient(90deg,#0c48a0,#0c48a0,#0c48a0,#0c48a0,#0c48a0,#0c48a0,#0c48a0,#0c48a0,#0c48a0,#0c48a0,#0c48a0,#0c48a0,#0c48a0,#0c48a0,#0c48a0,#195eaa,#2877b5,#378dbb,#48a1b3,#58b2ac,#66c2a5,#76c8a5,#84cea5,#91d3a4,#9cd7a4,#a5dba4,#acdda4,#b2e0a3,#b6e1a2,#b9e3a1,#bce4a1,#bde4a0,#bee5a0,#bfe5a0,#bfe5a0,#bee5a0,#bee5a0,#bce4a0,#bbe4a1,#b9e3a1,#b7e2a1,#b5e1a2,#b3e0a2,#b1dfa3,#aedea3,#acdda4,#a9dca4,#a6dba4,#a3daa4,#a0d9a4,#9cd7a4,#99d6a4,#96d5a4,#93d4a4,#90d2a4,#8dd1a4,#8ad0a4,#87cfa5,#84cea5,#81cda5,#7ecba5,#7bcaa5,#78c9a5,#76c8a5,#73c7a5,#70c6a5,#6ec5a5,#6bc4a5,#69c3a5,#66c2a5,#64c0a6,#62bea7,#61bca7,#5fbaa8,#5db8a9,#5cb7aa,#5ab5aa,#59b3ab,#57b1ac,#56b0ad,#54aead,#53acae,#51abaf)"></div><div style="background:linear-gradient(90deg,#0c48a0,#0c48a0,#0c48a0,#0c48a0,#0c48a0,#0c48a0,#0c48a0,#0c48a0,#0c48a0,#0c48a0,#0c48a0,#0c48a0,#0c48a0,#0c48a0,#0d49a0,#1c63ac,#2b7cb8,#3b92b9,#4da6b1,#5cb7aa,#6bc4a5,#7ccba5,#8ad0a4,#96d5a4,#a1d9a4,#aadca4,#b0dfa3,#b5e1a2,#b9e3a1,#bce4a1,#bee5a0,#c0e5a0,#c1e6a0,#c1e6a0,#c1e6a0,#c0e6a0,#bfe5a0,#bee5a0,#bce4a1,#bae3a1,#b8e2a1,#b6e1a2,#b4e0a2,#b1dfa3,#afdea3,#acdda4,#a9dca4,#a6dba4,#a3daa4,#9fd8a4,#9cd7a4,#99d6a4,#96d5a4,#93d3a4,#8fd2a4,#8cd1a4,#89d0a4,#86cfa5,#83cda5,#80cca5,#7dcba5,#7acaa5,#78c9a5,#75c8a5,#72c7a5,#6fc6a5,#6dc5a5,#6ac4a5,#68c3a5,#65c1a5,#64bfa6,#62bda7,#60bba8,#5eb9a9,#5db8a9,#5bb6aa,#59b4ab,#58b2ac,#56b1ac,#55afad,#53adae,#52acae,#51aaaf)"></div><div style="background:linear-gradient(90deg,#0c48a0,#0c48a0,#0c48a0,#0c48a0,#0c48a0,#0c48a0,#0c48a0,#0c48a0,#0c48a0,#0c48a0,#0c48a0,#0c48a0,#0c48a0,#0c48a0,#0f4da2,#1f68af,#2e81ba,#4097b7,#51abaf,#61bca7,#71c6a5,#82cda5,#90d2a4,#9cd7a4,#a6dba4,#aedea3,#b4e1a2,#b9e3a1,#bce4a0,#bfe5a0,#c1e6a0,#c2e69f,#c3e79f,#c3e79f,#c2e79f,#c2e69f,#c0e6a0,#bfe5a0,#bde4a0,#bbe4a1,#b9e3a1,#b6e2a2,#b4e1a2,#b1e0a3,#afdfa3,#acdda4,#a9dca4,#a6dba4,#a2daa4,#9fd8a4,#9cd7a4,#99d6a4,#95d4a4,#92d3a4,#8fd2a4,#8cd1a4,#88cfa5,#85cea5,#82cda5,#7fcca5,#7ccba5,#79caa5,#77c9a5,#74c7a5,#71c6a5,#6ec5a5,#6cc4a5,#69c3a5,#67c2a5,#65c0a6,#63bea6,#61bca7,#5fbba8,#5eb9a9,#5cb7aa,#5ab5aa,#59b3ab,#57b1ac,#56b0ad,#54aead,#53acae,#51abaf,#50a9af)"></div><div style="background:linear-gradient(90deg,#0c48a0,#0c48a0,#0c48a0,#0c48a0,#0c48a0,#0c48a0,#0c48a0,#0c48a0,#0c48a0,#0c48a0,#0c48a0,#0c48a0,#0c48a0,#0c48a0,#1252a5,#226db1,#3187bd,#449db4,#56b0ac,#65c1a5,#78c9a5,#88cfa5,#95d5a4,#a1d9a4,#abdda4,#b2e0a3,#b8e2a1,#bce4a1,#bfe5a0,#c2e69f,#c4e79f,#c5e79f,#c5e89f,#c5e79f,#c4e79f,#c3e79f,#c2e69f,#c0e6a0,#bee5a0,#bce4a1,#b9e3a1,#b7e2a2,#b4e1a2,#b2e0a3,#afdfa3,#acdda4,#a9dca4,#a6dba4,#a2daa4,#9fd8a4,#9bd7a4,#98d6a4,#95d4a4,#91d3a4,#8ed2a4,#8bd0a4,#88cfa5,#85cea5,#82cda5,#7fcca5,#7ccaa5,#79c9a5,#76c8a5,#73c7a5,#70c6a5,#6dc5a5,#6bc4a5,#68c3a5,#66c2a5,#64c0a6,#62bea7,#60bca8,#5fbaa8,#5db8a9,#5bb6aa,#59b4ab,#58b2ac,#56b1ac,#55afad,#53adae,#52acae,#50aaaf,#4fa8b0)"></div><div style="background:linear-gradient(90deg,#0c48a0,#0c48a0,#0c48a0,#0c48a0,#0c48a0,#0c48a0,#0c48a0,#0c48a0,#0c48a0,#0c48a0,#0c48a0,#0c48a0,#0c48a0,#0c48a0,#1557a7,#2573b3,#368cbb,#49a2b2,#5bb5aa,#6cc4a5,#7ecba5,#8ed1a4,#9bd7a4,#a6dba4,#afdfa3,#b6e1a2,#bbe4a1,#bfe5a0,#c3e79f,#c5e89f,#c6e89e,#c7e89e,#c7e89e,#c7e89e,#c6e89f,#c4e79f,#c3e79f,#c1e6a0,#bfe5a0,#bce4a0,#bae3a1,#b7e2a1,#b5e1a2,#b2e0a3,#afdfa3,#acdda4,#a9dca4,#a5dba4,#a2d9a4,#9ed8a4,#9bd7a4,#98d5a4,#94d4a4,#91d3a4,#8dd1a4,#8ad0a4,#87cfa5,#84cea5,#81cca5,#7ecba5,#7bcaa5,#78c9a5,#75c8a5,#72c7a5,#6fc6a5,#6cc5a5,#6ac3a5,#67c2a5,#65c1a5,#63bfa6,#61bda7,#5fbba8,#5eb9a9,#5cb7aa,#5ab5aa,#59b3ab,#57b1ac,#56b0ad,#54aead,#52acae,#51abaf,#50a9af,#4ea7b0)"></div><div style="background:linear-gradient(90deg,#0c48a0,#0c48a0,#0c48a0,#0c48a0,#0c48a0,#0c48a0,#0c48a0,#0c48a0,#0c48a0,#0c48a0,#0c48a0,#0c48a0,#0c48a0,#0c48a0,#185ca9,#2978b6,#3b92b9,#4ea7b0,#60bba8,#72c7a5,#84cea5,#94d4a4,#a1d9a4,#acdda4,#b4e0a2,#bae3a1,#bfe5a0,#c3e79f,#c6e89f,#c8e99e,#c9e99e,#c9e99e,#c9e99e,#c8e99e,#c7e89e,#c6e89f,#c4e79f,#c2e69f,#c0e5a0,#bde4a0,#bae3a1,#b8e2a1,#b5e1a2,#b2e0a3,#afdfa3,#acdda4,#a9dca4,#a5dba4,#a1d9a4,#9ed8a4,#9ad6a4,#97d5a4,#93d4a4,#90d2a4,#8dd1a4,#89d0a4,#86cfa5,#83cda5,#80cca5,#7dcba5,#7acaa5,#77c9a5,#74c7a5,#71c6a5,#6ec5a5,#6bc4a5,#69c3a5,#66c2a5,#64c0a6,#62bea7,#60bca8,#5fbaa8,#5db8a9,#5bb6aa,#59b4ab,#58b2ac,#56b0ac,#55afad,#53adae,#52abae,#50aaaf,#4fa8b0,#4da7b0)"></div><div style="background:linear-gradient(90deg,#0c48a0,#0c48a0,#0c48a0,#0c48a0,#0c48a0,#0c48a0,#0c48a0,#0c48a0,#0c48a0,#0c48a0,#0c48a0,#0c48a0,#0c48a0,#0c48a0,#1b61ac,#2c7eb9,#4097b7,#53adae,#65c1a6,#79c9a5,#8bd0a4,#9ad6a4,#a7dba4,#b0dfa3,#b8e2a1,#bee5a0,#c3e79f,#c6e89e,#c9e99e,#caea9e,#cbea9d,#cbea9d,#cbea9e,#caea9e,#c9e99e,#c7e89e,#c5e89f,#c3e79f,#c0e6a0,#bee5a0,#bbe3a1,#b8e2a1,#b5e1a2,#b2e0a3,#afdfa3,#acdda4,#a8dca4,#a5daa4,#a1d9a4,#9dd8a4,#9ad6a4,#96d5a4,#93d3a4,#8fd2a4,#8cd1a4,#88cfa5,#85cea5,#82cda5,#7fcca5,#7ccaa5,#79c9a5,#76c8a5,#73c7a5,#70c6a5,#6dc5a5,#6ac4a5,#68c3a5,#65c1a5,#63bfa6,#61bda7,#60bba8,#5eb9a9,#5cb7aa,#5ab5aa,#59b3ab,#57b1ac,#55afad,#54aead,#52acae,#51aaaf,#4fa9af,#4ea7b0,#4da6b1)"></div><div style="background:linear-gradient(90deg,#0c48a0,#0c48a0,#0c48a0,#0c48a0,#0c48a0,#0c48a0,#0c48a0,#0c48a0,#0c48a0,#0c48a0,#0c48a0,#0c48a0,#0c48a0,#0c48a0,#1f67ae,#3084bb,#459db4,#59b3ab,#6bc4a5,#80cca5,#91d3a4,#a0d9a4,#acdda4,#b5e1a2,#bce4a1,#c2e69f,#c6e89e,#c9e99e,#ccea9d,#cdeb9d,#cdeb9d,#cdeb9d,#cdeb9d,#ccea9d,#caea9e,#c8e99e,#c6e89f,#c3e79f,#c1e6a0,#bee5a0,#bbe4a1,#b8e2a1,#b5e1a2,#b2e0a3,#afdea3,#abdda4,#a8dca4,#a4daa4,#a0d9a4,#9dd7a4,#99d6a4,#95d5a4,#92d3a4,#8ed2a4,#8bd0a4,#88cfa5,#84cea5,#81cda5,#7ecba5,#7bcaa5,#77c9a5,#74c8a5,#72c7a5,#6fc5a5,#6cc4a5,#69c3a5,#66c2a5,#64c0a6,#62bea7,#61bca8,#5fbaa8,#5db8a9,#5bb6aa,#59b4ab,#58b2ac,#56b0ac,#54aead,#53adae,#51abae,#50a9af,#4ea8b0,#4da6b0,#4ca5b1)"></div><div style="background:linear-gradient(90deg,#0c48a0,#0c48a0,#0c48a0,#0c48a0,#0c48a0,#0c48a0,#0c48a0,#0c48a0,#0c48a0,#0c48a0,#0c48a0,#0c48a0,#0c48a0,#0f4da2,#226db1,#348bbc,#4aa3b2,#5eb9a9,#72c7a5,#86cfa5,#98d5a4,#a6dba4,#b1dfa3,#bae3a1,#c0e6a0,#c6e89f,#caea9e,#cdeb9d,#ceeb9d,#cfec9d,#d0ec9d,#cfec9d,#ceeb9d,#cdeb9d,#cbea9d,#c9e99e,#c7e89e,#c4e79f,#c1e69f,#bee5a0,#bbe4a1,#b8e2a1,#b5e1a2,#b2e0a3,#aedea3,#abdda4,#a7dca4,#a3daa4,#a0d9a4,#9cd7a4,#98d6a4,#95d4a4,#91d3a4,#8dd1a4,#8ad0a4,#86cfa5,#83cda5,#80cca5,#7dcba5,#79caa5,#76c8a5,#73c7a5,#70c6a5,#6dc5a5,#6bc4a5,#68c3a5,#65c1a5,#63bfa6,#61bda7,#60bba8,#5eb9a9,#5cb7aa,#5ab5aa,#58b3ab,#57b1ac,#55afad,#54adad,#52acae,#51aaaf,#4fa8b0,#4ea7b0,#4ca5b1,#4ba4b2)"></div><div style="background:linear-gradient(90deg,#0c48a0,#0c48a0,#0c48a0,#0c48a0,#0c48a0,#0c48a0,#0c48a0,#0c48a0,#0c48a0,#0c48a0,#0c48a0,#0c48a0,#0c48a0,#1253a5,#2673b4,#3a91b9,#50a9af,#63bfa6,#7acaa5,#8dd1a4,#9ed8a4,#acdda4,#b6e2a2,#bee5a0,#c5e79f,#cae99e,#cdeb9d,#d0ec9d,#d1ed9c,#d2ed9c,#d2ed9c,#d1ed9c,#d0ec9c,#ceeb9d,#cceb9d,#caea9e,#c7e99e,#c5e79f,#c2e69f,#bfe5a0,#bbe4a1,#b8e2a1,#b5e1a2,#b1e0a3,#aedea3,#abdda4,#a7dba4,#a3daa4,#9fd8a4,#9bd7a4,#97d5a4,#94d4a4,#90d2a4,#8cd1a4,#89d0a4,#85cea5,#82cda5,#7fcca5,#7bcaa5,#78c9a5,#75c8a5,#72c7a5,#6fc6a5,#6cc4a5,#69c3a5,#67c2a5,#64c0a6,#62bea7,#61bca8,#5fbaa8,#5db8a9,#5bb6aa,#59b4ab,#58b2ac,#56b0ac,#54aead,#53acae,#51abaf,#50a9af,#4ea7b0,#4da6b1,#4ba4b1,#4aa3b2)"></div><div style="background:linear-gradient(90deg,#0c48a0,#0c48a0,#0c48a0,#0c48a0,#0c48a0,#0c48a0,#0c48a0,#0c48a0,#0c48a0,#0c48a0,#0c48a0,#0c48a0,#0c48a0,#1659a8,#2a7ab7,#3f97b7,#55b0ad,#6ac4a5,#81cca5,#94d4a4,#a5dba4,#b1e0a3,#bbe4a1,#c3e79f,#c9e99e,#cdeb9d,#d1ec9c,#d3ed9c,#d4ee9c,#d4ee9c,#d4ee9c,#d3ed9c,#d1ed9c,#d0ec9d,#cdeb9d,#cbea9e,#c8e99e,#c5e89f,#c2e69f,#bfe5a0,#bbe4a1,#b8e2a1,#b5e1a2,#b1dfa3,#aedea3,#aadda4,#a6dba4,#a2d9a4,#9ed8a4,#9ad6a4,#96d5a4,#93d3a4,#8fd2a4,#8bd1a4,#88cfa5,#84cea5,#81cca5,#7dcba5,#7acaa5,#77c9a5,#74c7a5,#71c6a5,#6ec5a5,#6bc4a5,#68c3a5,#65c1a5,#63bfa6,#61bda7,#60bba8,#5eb9a9,#5cb7aa,#5ab5ab,#58b3ab,#57b1ac,#55afad,#53adae,#52abae,#50aaaf,#4fa8b0,#4da6b0,#4ca5b1,#4aa3b2,#49a2b2)"></div><div style="background:linear-gradient(90deg,#0c48a0,#0c48a0,#0c48a0,#0c48a0,#0c48a0,#0c48a0,#0c48a0,#0c48a0,#0c48a0,#0c48a0,#0c48a0,#0c48a0,#0c48a0,#1a5faa,#2e81ba,#459db4,#5bb6aa,#72c7a5,#88cfa5,#9bd7a4,#abdda4,#b7e2a2,#c0e6a0,#c7e99e,#cdeb9d,#d1ec9c,#d4ee9c,#d6ee9b,#d7ef9b,#d7ef9b,#d6ee9b,#d5ee9c,#d3ed9c,#d1ec9c,#ceeb9d,#cbea9d,#c9e99e,#c5e89f,#c2e69f,#bfe5a0,#bbe4a1,#b8e2a1,#b4e1a2,#b1dfa3,#addea4,#a9dca4,#a5dba4,#a1d9a4,#9dd8a4,#99d6a4,#95d5a4,#92d3a4,#8ed2a4,#8ad0a4,#86cfa5,#83cda5,#80cca5,#7ccba5,#79c9a5,#76c8a5,#73c7a5,#6fc6a5,#6cc5a5,#6ac3a5,#67c2a5,#64c0a6,#62bea7,#60bca8,#5ebaa8,#5db8a9,#5bb5aa,#59b3ab,#57b2ac,#56b0ad,#54aead,#52acae,#51aaaf,#4fa9b0,#4ea7b0,#4ca5b1,#4ba4b2,#49a2b2,#48a1b3)"></div><div style="background:linear-gradient(90deg,#0c48a0,#0c48a0,#0c48a0,#0c48a0,#0c48a0,#0c48a0,#0c48a0,#0c48a0,#0c48a0,#0c48a0,#0c48a0,#0c48a0,#0c48a0,#1e66ad,#3288bd,#4ba4b1,#61bda7,#7acaa5,#90d2a4,#a3daa4,#b1dfa3,#bce4a1,#c5e89f,#ccea9d,#d1ec9c,#d5ee9c,#d7ef9b,#d9f09b,#d9f09b,#d9f09b,#d8ef9b,#d6ef9b,#d4ee9c,#d2ed9c,#cfec9d,#ccea9d,#c9e99e,#c6e89f,#c2e69f,#bfe5a0,#bbe4a1,#b7e2a1,#b4e1a2,#b0dfa3,#acdea4,#a8dca4,#a4daa4,#a0d9a4,#9cd7a4,#98d6a4,#94d4a4,#90d3a4,#8dd1a4,#89d0a4,#85cea5,#82cda5,#7ecba5,#7bcaa5,#77c9a5,#74c8a5,#71c6a5,#6ec5a5,#6bc4a5,#68c3a5,#65c1a5,#63bfa6,#61bda7,#5fbba8,#5db8a9,#5cb6aa,#5ab4ab,#58b2ab,#56b0ac,#55aead,#53adae,#51abaf,#50a9af,#4ea7b0,#4da6b1,#4ba4b1,#4aa3b2,#48a1b3,#47a0b3)"></div><div style="background:linear-gradient(90deg,#0c48a0,#0c48a0,#0c48a0,#0c48a0,#0c48a0,#0c48a0,#0c48a0,#0c48a0,#0c48a0,#0c48a0,#0c48a0,#0c48a0,#0c48a0,#226cb0,#388eba,#51abaf,#68c3a5,#81cda5,#97d5a4,#aadca4,#b7e2a2,#c1e69f,#cae99e,#d0ec9c,#d5ee9b,#d8ef9b,#daf09a,#dbf19a,#dbf19a,#dbf09a,#d9f09b,#d8ef9b,#d5ee9b,#d3ed9c,#d0ec9d,#cdeb9d,#c9e99e,#c6e89f,#c2e69f,#bee5a0,#bbe3a1,#b7e2a2,#b3e0a2,#afdfa3,#acdda4,#a8dca4,#a3daa4,#9fd8a4,#9bd7a4,#97d5a4,#93d4a4,#8fd2a4,#8bd1a4,#87cfa5,#84cea5,#80cca5,#7dcba5,#79caa5,#76c8a5,#73c7a5,#70c6a5,#6dc5a5,#6ac3a5,#67c2a5,#64c0a6,#62bea7,#60bca8,#5eb9a9,#5cb7a9,#5ab5aa,#59b3ab,#57b1ac,#55afad,#53adae,#52abae,#50aaaf,#4fa8b0,#4da6b0,#4ca5b1,#4aa3b2,#49a1b2,#47a0b3,#469eb4)"></div><div style="background:linear-gradient(90deg,#0c48a0,#0c48a0,#0c48a0,#0c48a0,#0c48a0,#0c48a0,#0c48a0,#0c48a0,#0c48a0,#0c48a0,#0c48a0,#0c48a0,#0f4da2,#2674b4,#3e95b7,#57b2ac,#70c6a5,#8ad0a4,#9fd8a4,#b0dfa3,#bde4a0,#c7e89e,#ceeb9d,#d4ee9c,#d9f09b,#dcf19a,#ddf19a,#def29a,#def29a,#ddf19a,#dbf09a,#d9f09b,#d6ef9b,#d3ed9c,#d0ec9c,#cdeb9d,#c9e99e,#c6e89f,#c2e69f,#bee5a0,#bae3a1,#b6e2a2,#b3e0a2,#afdfa3,#abdda4,#a7dba4,#a2daa4,#9ed8a4,#9ad6a4,#96d5a4,#92d3a4,#8ed2a4,#8ad0a4,#86cfa5,#82cda5,#7fcca5,#7bcaa5,#78c9a5,#75c8a5,#71c6a5,#6ec5a5,#6bc4a5,#68c3a5,#65c1a5,#63bfa6,#61bda7,#5fbaa8,#5db8a9,#5bb6aa,#59b4ab,#58b2ac,#56b0ad,#54aead,#52acae,#51aaaf,#4fa8b0,#4ea7b0,#4ca5b1,#4ba3b2,#49a2b2,#48a0b3,#469fb4,#459db4)"></div><div style="background:linear-gradient(90deg,#0c48a0,#0c48a0,#0c48a0,#0c48a0,#0c48a0,#0c48a0,#0c48a0,#0c48a0,#0c48a0,#0c48a0,#0c48a0,#0c48a0,#1354a5,#2a7bb7,#449cb5,#5eb9a9,#79c9a5,#92d3a4,#a7dba4,#b6e2a2,#c2e69f,#ccea9d,#d3ed9c,#d9f09b,#dcf19a,#dff299,#e0f399,#e0f399,#e0f299,#def29a,#dcf19a,#daf09a,#d7ef9b,#d4ee9c,#d1ec9c,#cdeb9d,#c9e99e,#c5e89f,#c2e69f,#bee5a0,#bae3a1,#b6e1a2,#b2e0a3,#aedea3,#aadda4,#a5dba4,#a1d9a4,#9dd7a4,#98d6a4,#94d4a4,#90d3a4,#8cd1a4,#88cfa5,#85cea5,#81cda5,#7dcba5,#7acaa5,#76c8a5,#73c7a5,#70c6a5,#6dc5a5,#69c3a5,#66c2a5,#64c0a6,#62bea7,#60bba8,#5eb9a9,#5cb7aa,#5ab5ab,#58b3ab,#56b1ac,#55afad,#53adae,#51abaf,#50a9af,#4ea7b0,#4ca6b1,#4ba4b1,#4aa2b2,#48a1b3,#479fb3,#459eb4,#449cb5)"></div><div style="background:linear-gradient(90deg,#0c48a0,#0c48a0,#0c48a0,#0c48a0,#0c48a0,#0c48a0,#0c48a0,#0c48a0,#0c48a0,#0c48a0,#0c48a0,#0c48a0,#175ba9,#2f83bb,#4ba4b1,#65c0a6,#81cda5,#9ad6a4,#aedea3,#bce4a0,#c8e99e,#d1ec9c,#d8ef9b,#ddf19a,#e0f399,#e2f399,#e3f499,#e3f499,#e2f399,#e0f299,#def29a,#dbf09a,#d8ef9b,#d4ee9c,#d1ec9c,#cdeb9d,#c9e99e,#c5e89f,#c1e69f,#bde4a0,#b9e3a1,#b5e1a2,#b1dfa3,#addea4,#a9dca4,#a4daa4,#a0d9a4,#9bd7a4,#97d5a4,#93d4a4,#8fd2a4,#8bd0a4,#87cfa5,#83cda5,#7fcca5,#7ccaa5,#78c9a5,#75c8a5,#71c6a5,#6ec5a5,#6bc4a5,#68c3a5,#65c1a5,#63bfa6,#61bca7,#5fbaa8,#5db8a9,#5bb5aa,#59b3ab,#57b1ac,#55afad,#53adae,#52abae,#50aaaf,#4ea8b0,#4da6b1,#4ba4b1,#4aa3b2,#48a1b3,#479fb3,#469eb4,#449cb5,#439bb5)"></div><div style="background:linear-gradient(90deg,#0c48a0,#0c48a0,#0c48a0,#0c48a0,#0c48a0,#0c48a0,#0c48a0,#0c48a0,#0c48a0,#0c48a0,#0c48a0,#0c48a0,#1c63ac,#358bbc,#52acae,#6dc5a5,#8ad0a4,#a2daa4,#b5e1a2,#c3e79f,#ceeb9d,#d6ee9b,#dcf19a,#e1f399,#e4f499,#e5f598,#e5f598,#e5f498,#e3f499,#e1f399,#dff299,#dcf19a,#d8ef9b,#d5ee9c,#d1ec9c,#cdeb9d,#c9e99e,#c5e79f,#c1e6a0,#bce4a0,#b8e2a1,#b4e1a2,#b0dfa3,#acdda4,#a7dca4,#a3daa4,#9ed8a4,#9ad6a4,#95d5a4,#91d3a4,#8dd1a4,#89d0a4,#85cea5,#81cda5,#7ecba5,#7acaa5,#76c8a5,#73c7a5,#70c6a5,#6cc4a5,#69c3a5,#66c2a5,#64c0a6,#62bda7,#60bba8,#5db8a9,#5bb6aa,#59b4ab,#58b2ac,#56b0ad,#54aead,#52acae,#51aaaf,#4fa8b0,#4da6b0,#4ca5b1,#4aa3b2,#49a1b3,#47a0b3,#469eb4,#459db4,#439bb5,#429ab6)"></div><div style="background:linear-gradient(90deg,#0c48a0,#0c48a0,#0c48a0,#0c48a0,#0c48a0,#0c48a0,#0c48a0,#0c48a0,#0c48a0,#0c48a0,#0c48a0,#0c48a0,#216bb0,#3c93b9,#59b3ab,#76c8a5,#93d4a4,#abdda4,#bbe4a1,#c9e99e,#d3ed9c,#dbf19a,#e1f399,#e5f498,#e6f599,#e7f59a,#e7f59a,#e6f599,#e5f598,#e2f499,#e0f299,#dcf19a,#d9f09b,#d5ee9b,#d1ec9c,#cdeb9d,#c8e99e,#c4e79f,#c0e5a0,#bce4a1,#b7e2a2,#b3e0a2,#afdfa3,#abdda4,#a6dba4,#a1d9a4,#9dd7a4,#98d6a4,#94d4a4,#90d2a4,#8bd1a4,#87cfa5,#83cda5,#7fcca5,#7ccba5,#78c9a5,#75c8a5,#71c6a5,#6ec5a5,#6bc4a5,#67c3a5,#65c1a6,#62bea7,#60bca8,#5eb9a9,#5cb7aa,#5ab5aa,#58b3ab,#56b0ac,#54aead,#53acae,#51abaf,#4fa9af,#4ea7b0,#4ca5b1,#4ba3b2,#49a2b2,#48a0b3,#469eb4,#459db4,#439bb5,#429ab6,#4199b6)"></div><div style="background:linear-gradient(90deg,#0c48a0,#0c48a0,#0c48a0,#0c48a0,#0c48a0,#0c48a0,#0c48a0,#0c48a0,#0c48a0,#0c48a0,#0c48a0,#0c48a0,#2673b4,#439bb5,#60bca8,#80cca5,#9cd7a4,#b2e0a3,#c2e69f,#cfec9d,#d9f09b,#e0f299,#e5f598,#e7f59a,#e8f69c,#e9f69c,#e8f69c,#e7f59a,#e6f598,#e4f498,#e0f399,#ddf19a,#d9f09b,#d5ee9b,#d1ec9c,#cceb9d,#c8e99e,#c3e79f,#bfe5a0,#bbe3a1,#b6e2a2,#b2e0a3,#aedea3,#a9dca4,#a4daa4,#a0d9a4,#9bd7a4,#96d5a4,#92d3a4,#8ed2a4,#8ad0a4,#85cea5,#81cda5,#7ecba5,#7acaa5,#76c8a5,#73c7a5,#6fc6a5,#6cc4a5,#69c3a5,#66c2a5,#63bfa6,#61bda7,#5fbaa8,#5db8a9,#5bb5aa,#59b3ab,#57b1ac,#55afad,#53adae,#51abaf,#50a9af,#4ea7b0,#4ca5b1,#4ba4b2,#49a2b2,#48a0b3,#469fb4,#459db4,#449cb5,#429ab6,#4199b6,#4097b7)"></div><div style="background:linear-gradient(90deg,#0c48a0,#0c48a0,#0c48a0,#0c48a0,#0c48a0,#0c48a0,#0c48a0,#0c48a0,#0c48a0,#0c48a0,#0c48a0,#0f4da2,#2b7cb8,#4aa3b2,#68c3a5,#89d0a4,#a5dba4,#b9e3a1,#c9e99e,#d5ee9c,#def29a,#e5f498,#e8f69b,#e9f69e,#eaf69f,#eaf69f,#e9f69e,#e8f69c,#e7f599,#e4f498,#e1f399,#ddf19a,#d9f09b,#d5ee9c,#d0ec9c,#ccea9d,#c7e89e,#c3e79f,#bee5a0,#b9e3a1,#b5e1a2,#b1dfa3,#acdea4,#a7dca4,#a3daa4,#9ed8a4,#99d6a4,#95d4a4,#90d2a4,#8cd1a4,#88cfa5,#84cea5,#80cca5,#7ccaa5,#78c9a5,#74c8a5,#71c6a5,#6dc5a5,#6ac4a5,#67c2a5,#64c0a6,#62bda7,#60bba8,#5eb9a9,#5bb6aa,#59b4ab,#57b2ac,#55b0ad,#54aead,#52abae,#50aaaf,#4ea8b0,#4da6b1,#4ba4b1,#4aa2b2,#48a1b3,#479fb4,#459db4,#449cb5,#429ab5,#4199b6,#4097b7,#3f96b7)"></div><div style="background:linear-gradient(90deg,#0c48a0,#0c48a0,#0c48a0,#0c48a0,#0c48a0,#0c48a0,#0c48a0,#0c48a0,#0c48a0,#0c48a0,#0c48a0,#1456a6,#3085bc,#52acae,#72c7a5,#93d4a4,#aedea3,#c0e6a0,#cfec9d,#dbf09a,#e3f499,#e8f69b,#eaf69f,#ebf7a1,#ecf7a1,#ebf7a1,#eaf69f,#e9f69d,#e7f59a,#e5f598,#e1f399,#ddf19a,#d9f09b,#d4ee9c,#d0ec9d,#cbea9d,#c6e89e,#c2e69f,#bde4a0,#b8e2a1,#b4e1a2,#afdfa3,#abdda4,#a6dba4,#a1d9a4,#9cd7a4,#97d5a4,#93d3a4,#8ed2a4,#8ad0a4,#86cea5,#81cda5,#7dcba5,#7acaa5,#76c8a5,#72c7a5,#6fc5a5,#6bc4a5,#68c3a5,#65c1a5,#63bea7,#60bca8,#5eb9a9,#5cb7aa,#5ab5ab,#58b2ab,#56b0ac,#54aead,#52acae,#50aaaf,#4fa8b0,#4da6b1,#4ba4b1,#4aa3b2,#48a1b3,#479fb3,#459eb4,#449cb5,#429ab5,#4199b6,#4097b7,#3f96b7,#3d95b8)"></div><div style="background:linear-gradient(90deg,#0c48a0,#0c48a0,#0c48a0,#0c48a0,#0c48a0,#0c48a0,#0c48a0,#0c48a0,#0c48a0,#0c48a0,#0c48a0,#195eaa,#388eba,#5ab4ab,#7dcba5,#9dd8a4,#b6e1a2,#c8e99e,#d6ee9b,#e0f399,#e7f59a,#eaf69f,#ecf7a2,#edf7a4,#edf7a4,#ecf7a3,#ebf7a1,#eaf69e,#e8f69b,#e6f598,#e1f399,#ddf19a,#d8ef9b,#d4ee9c,#cfec9d,#caea9e,#c5e89f,#c0e6a0,#bce4a1,#b7e2a2,#b2e0a3,#aedea3,#a9dca4,#a4daa4,#9fd8a4,#9ad6a4,#95d4a4,#91d3a4,#8cd1a4,#88cfa5,#83cea5,#7fcca5,#7bcaa5,#77c9a5,#74c7a5,#70c6a5,#6dc5a5,#69c3a5,#66c2a5,#63bfa6,#61bda7,#5fbaa8,#5db8a9,#5bb5aa,#58b3ab,#56b1ac,#55afad,#53acae,#51aaaf,#4fa8b0,#4da6b0,#4ca5b1,#4aa3b2,#48a1b3,#479fb3,#459eb4,#449cb5,#439ab5,#4199b6,#4097b7,#3f96b7,#3d95b8,#3c93b8)"></div><div style="background:linear-gradient(90deg,#0c48a0,#0c48a0,#0c48a0,#0c48a0,#0c48a0,#0c48a0,#0c48a0,#0c48a0,#0c48a0,#0c48a0,#0c48a0,#1f68ae,#4097b7,#62bea7,#87cfa5,#a7dba4,#bde5a0,#cfec9d,#dcf19a,#e6f598,#eaf69f,#edf7a3,#eef7a6,#eff8a6,#eef7a6,#edf7a5,#ecf7a2,#eaf69f,#e8f69c,#e6f598,#e1f399,#ddf19a,#d8ef9b,#d3ed9c,#ceeb9d,#c9e99e,#c4e79f,#bfe5a0,#bae3a1,#b5e1a2,#b1dfa3,#acdda4,#a7dba4,#a2d9a4,#9dd7a4,#98d5a4,#93d4a4,#8ed2a4,#8ad0a4,#85cea5,#81cda5,#7dcba5,#79c9a5,#75c8a5,#72c7a5,#6ec5a5,#6ac4a5,#67c2a5,#64c0a6,#62bda7,#60bba8,#5db8a9,#5bb6aa,#59b3ab,#57b1ac,#55afad,#53adae,#51abaf,#4fa9af,#4ea7b0,#4ca5b1,#4aa3b2,#49a1b3,#479fb3,#469eb4,#449cb5,#439bb5,#4199b6,#4098b7,#3f96b7,#3d95b8,#3c93b8,#3b92b9)"></div><div style="background:linear-gradient(90deg,#0c48a0,#0c48a0,#0c48a0,#0c48a0,#0c48a0,#0c48a0,#0c48a0,#0c48a0,#0c48a0,#0c48a0,#0c48a0,#2572b3,#48a1b3,#6cc4a5,#92d3a4,#b0dfa3,#c5e89f,#d6ee9b,#e2f499,#e9f69d,#edf7a3,#eff8a7,#f0f8a9,#f0f8a9,#eff8a8,#eef7a6,#edf7a3,#ebf6a0,#e8f69c,#e6f598,#e1f399,#dcf19a,#d7ef9b,#d2ed9c,#cdeb9d,#c8e99e,#c3e79f,#bee5a0,#b9e3a1,#b4e1a2,#afdfa3,#aadda4,#a5dba4,#9fd8a4,#9ad6a4,#95d5a4,#91d3a4,#8cd1a4,#87cfa5,#83cda5,#7fcca5,#7bcaa5,#77c9a5,#73c7a5,#6fc6a5,#6cc4a5,#68c3a5,#65c1a5,#63bea7,#60bca8,#5eb9a9,#5cb6aa,#59b4ab,#57b2ac,#55afad,#53adae,#51abae,#50a9af,#4ea7b0,#4ca5b1,#4aa3b2,#49a1b2,#47a0b3,#469eb4,#449cb5,#439bb5,#4199b6,#4098b7,#3f96b7,#3d95b8,#3c93b8,#3b92b9,#3a91b9)"></div><div style="background:linear-gradient(90deg,#0c48a0,#0c48a0,#0c48a0,#0c48a0,#0c48a0,#0c48a0,#0c48a0,#0c48a0,#0c48a0,#0c48a0,#0c48a0,#2b7cb8,#51aaaf,#77c9a5,#9dd7a4,#b9e3a1,#cdeb9d,#ddf19a,#e7f59a,#ecf7a2,#eff8a7,#f1f8aa,#f2f8ac,#f1f8ab,#f0f8aa,#eff8a7,#edf7a4,#ebf6a0,#e8f69c,#e6f598,#e1f399,#dbf19a,#d6ef9b,#d1ec9c,#ccea9d,#c6e89e,#c1e6a0,#bce4a1,#b7e2a2,#b2e0a3,#addea4,#a8dca4,#a2daa4,#9dd8a4,#98d6a4,#93d4a4,#8ed2a4,#8ad0a4,#85cea5,#81cca5,#7ccba5,#78c9a5,#74c8a5,#71c6a5,#6dc5a5,#69c3a5,#66c2a5,#63bfa6,#61bca7,#5ebaa8,#5cb7aa,#5ab5ab,#58b2ac,#56b0ad,#54aead,#52abae,#50a9af,#4ea7b0,#4ca5b1,#4ba3b2,#49a2b2,#47a0b3,#469eb4,#449cb5,#439bb5,#4199b6,#4098b7,#3f96b7,#3d95b8,#3c93b8,#3b92b9,#3a90ba,#388fba)"></div><div style="background:linear-gradient(90deg,#0c48a0,#0c48a0,#0c48a0,#0c48a0,#0c48a0,#0c48a0,#0c48a0,#0c48a0,#0c48a0,#0c48a0,#0f4da2,#3187bd,#5ab4ab,#83cda5,#a8dca4,#c1e69f,#d5ee9c,#e4f499,#ebf6a0,#eff8a7,#f1f8ac,#f3f9ae,#f3f9ae,#f3f9ad,#f1f8ab,#f0f8a8,#edf7a5,#ebf7a1,#e8f69c,#e5f598,#e0f299,#daf09a,#d5ee9b,#cfec9d,#caea9e,#c5e79f,#bfe5a0,#bae3a1,#b5e1a2,#b0dfa3,#abdda4,#a5dba4,#a0d9a4,#9ad7a4,#95d5a4,#90d3a4,#8cd1a4,#87cfa5,#82cda5,#7ecba5,#7acaa5,#76c8a5,#72c7a5,#6ec5a5,#6ac4a5,#67c2a5,#64c0a6,#61bda7,#5fbaa8,#5db8a9,#5ab5aa,#58b3ab,#56b0ac,#54aead,#52acae,#50aaaf,#4ea7b0,#4ca5b1,#4ba4b2,#49a2b2,#47a0b3,#469eb4,#449cb5,#439bb5,#4199b6,#4097b7,#3e96b7,#3d94b8,#3c93b8,#3b92b9,#3990ba,#388fba,#378ebb)"></div><div style="background:linear-gradient(90deg,#0c48a0,#0c48a0,#0c48a0,#0c48a0,#0c48a0,#0c48a0,#0c48a0,#0c48a0,#0c48a0,#0c48a0,#1558a7,#3a91b9,#63bfa6,#8ed2a4,#b1e0a3,#cae99e,#dcf19a,#e8f69c,#eef7a5,#f2f8ac,#f4f9af,#f5f9b1,#f4f9b1,#f4f9af,#f2f9ac,#f0f8a9,#eef7a5,#ebf6a0,#e8f69c,#e4f498,#dff299,#d9f09b,#d3ed9c,#ceeb9d,#c8e99e,#c3e79f,#bde4a0,#b8e2a1,#b3e0a2,#aedea3,#a8dca4,#a3daa4,#9dd8a4,#98d5a4,#93d3a4,#8ed2a4,#89d0a4,#84cea5,#80cca5,#7bcaa5,#77c9a5,#73c7a5,#6fc6a5,#6bc4a5,#68c3a5,#65c0a6,#62bea7,#60bba8,#5db8a9,#5bb6aa,#59b3ab,#56b1ac,#54aead,#52acae,#50aaaf,#4ea8b0,#4da6b1,#4ba4b2,#49a2b2,#47a0b3,#469eb4,#449cb5,#439bb5,#4199b6,#4097b7,#3e96b7,#3d94b8,#3c93b9,#3a91b9,#3990ba,#388fba,#378dbb,#368cbb)"></div><div style="background:linear-gradient(90deg,#0c48a0,#0c48a0,#0c48a0,#0c48a0,#0c48a0,#0c48a0,#0c48a0,#0c48a0,#0c48a0,#0c48a0,#1c63ac,#449cb5,#6ec5a5,#9ad6a4,#bbe3a1,#d2ed9c,#e4f498,#ecf7a2,#f1f8ab,#f4f9b0,#f6fab3,#f6fab3,#f6fab3,#f4f9b0,#f3f9ad,#f0f8a9,#eef7a5,#ebf6a0,#e8f59b,#e3f499,#ddf29a,#d8ef9b,#d2ed9c,#ccea9d,#c6e89e,#c1e6a0,#bbe4a1,#b6e1a2,#b0dfa3,#abdda4,#a5dba4,#a0d9a4,#9ad6a4,#95d4a4,#90d2a4,#8bd0a4,#86cfa5,#81cda5,#7dcba5,#79c9a5,#74c8a5,#70c6a5,#6cc5a5,#69c3a5,#65c1a5,#63bea7,#60bba8,#5eb9a9,#5bb6aa,#59b3ab,#57b1ac,#55afad,#52acae,#50aaaf,#4fa8b0,#4da6b1,#4ba4b2,#49a2b2,#47a0b3,#469eb4,#449cb5,#439bb5,#4199b6,#4097b7,#3e96b7,#3d94b8,#3c93b9,#3a91b9,#3990ba,#388fba,#378dbb,#368cbb,#348bbc)"></div><div style="background:linear-gradient(90deg,#0c48a0,#0c48a0,#0c48a0,#0c48a0,#0c48a0,#0c48a0,#0c48a0,#0c48a0,#0c48a0,#0c48a0,#236eb1,#4ea7b0,#7bcaa5,#a6dba4,#c4e79f,#daf09a,#e9f69d,#eff8a8,#f4f9af,#f6fab4,#f8fab6,#f8fab6,#f7fab4,#f5f9b1,#f3f9ae,#f0f8a9,#edf7a5,#eaf69f,#e7f59a,#e2f399,#dcf19a,#d6ee9b,#d0ec9d,#caea9e,#c4e79f,#bee5a0,#b9e3a1,#b3e0a2,#aedea3,#a8dca4,#a2daa4,#9dd7a4,#97d5a4,#92d3a4,#8dd1a4,#88cfa5,#83cda5,#7ecca5,#7acaa5,#76c8a5,#71c6a5,#6dc5a5,#6ac3a5,#66c2a5,#63bfa6,#61bca8,#5eb9a9,#5cb6aa,#59b4ab,#57b1ac,#55afad,#53acae,#51aaaf,#4fa8b0,#4da6b1,#4ba4b2,#49a2b2,#47a0b3,#469eb4,#449cb5,#429ab5,#4199b6,#4097b7,#3e95b7,#3d94b8,#3b92b9,#3a91b9,#3990ba,#388eba,#368dbb,#358cbb,#348abc,#3389bd)"></div><div style="background:linear-gradient(90deg,#0c48a0,#0c48a0,#0c48a0,#0c48a0,#0c48a0,#0c48a0,#0c48a0,#0c48a0,#0c48a0,#0c48a0,#2a7bb7,#58b2ac,#88cfa5,#b1e0a3,#cdeb9d,#e2f499,#edf7a3,#f3f9ad,#f6fab4,#f8fbb7,#f9fbb8,#f9fbb8,#f7fab6,#f5fab2,#f3f9ae,#f0f8a9,#edf7a4,#eaf69e,#e6f598,#e0f399,#daf09a,#d4ee9c,#ceeb9d,#c8e99e,#c2e69f,#bce4a1,#b6e2a2,#b1dfa3,#abdda4,#a5dba4,#9fd8a4,#9ad6a4,#94d4a4,#8fd2a4,#8ad0a4,#85cea5,#80cca5,#7bcaa5,#77c9a5,#73c7a5,#6ec5a5,#6ac4a5,#67c2a5,#64bfa6,#61bca7,#5ebaa9,#5cb7aa,#59b4ab,#57b1ac,#55afad,#53adae,#51aaaf,#4fa8b0,#4da6b1,#4ba4b2,#49a2b2,#47a0b3,#469eb4,#449cb5,#429ab5,#4199b6,#3f97b7,#3e95b8,#3c94b8,#3b92b9,#3a91b9,#398fba,#378ebb,#368dbb,#358bbc,#348abc,#3389bd,#3288bd)"></div><div style="background:linear-gradient(90deg,#0c48a0,#0c48a0,#0c48a0,#0c48a0,#0c48a0,#0c48a0,#0c48a0,#0c48a0,#0c48a0,#0c48a0,#3287bd,#62bea7,#95d4a4,#bbe4a1,#d6ef9b,#e8f69c,#f0f8aa,#f6fab3,#f9fbb8,#fafbbb,#fafbbb,#fafbb9,#f8fab6,#f6fab2,#f3f9ae,#f0f8a9,#ecf7a3,#e9f69d,#e5f498,#def29a,#d8ef9b,#d2ed9c,#cbea9d,#c5e89f,#bfe5a0,#b9e3a1,#b3e0a2,#aedea3,#a8dca4,#a2d9a4,#9cd7a4,#96d5a4,#91d3a4,#8bd1a4,#86cfa5,#81cda5,#7dcba5,#78c9a5,#74c7a5,#6fc6a5,#6bc4a5,#67c3a5,#64c0a6,#61bda7,#5fbaa8,#5cb7aa,#5ab4ab,#57b2ac,#55afad,#53adae,#51aaaf,#4fa8b0,#4da6b1,#4ba4b2,#49a2b2,#47a0b3,#459eb4,#449cb5,#429ab6,#4198b6,#3f97b7,#3e95b8,#3c93b8,#3b92b9,#3a90ba,#388fba,#378ebb,#368cbb,#358bbc,#338abc,#3288bd,#3187bd,#3186bc)"></div><div style="background:linear-gradient(90deg,#0c48a0,#0c48a0,#0c48a0,#0c48a0,#0c48a0,#0c48a0,#0c48a0,#0c48a0,#0c48a0,#0e4ca2,#3c93b8,#6fc5a5,#a2daa4,#c5e89f,#dff299,#edf7a3,#f4f9af,#f8fbb7,#fafbbc,#fbfbbf,#fbfbbe,#fafbbb,#f8fab7,#f6fab2,#f2f9ad,#eff8a7,#ecf7a1,#e8f69b,#e3f499,#dcf19a,#d5ee9b,#cfec9d,#c8e99e,#c2e69f,#bce4a1,#b6e2a2,#b0dfa3,#abdda4,#a4daa4,#9ed8a4,#98d6a4,#93d3a4,#8dd1a4,#88cfa5,#83cda5,#7ecba5,#79c9a5,#75c8a5,#70c6a5,#6cc4a5,#68c3a5,#65c0a6,#62bda7,#5fbaa8,#5cb7a9,#5ab4ab,#57b2ac,#55afad,#53adae,#51aaaf,#4fa8b0,#4da6b1,#4ba3b2,#49a1b2,#479fb3,#459db4,#449cb5,#429ab6,#4098b6,#3f96b7,#3d95b8,#3c93b8,#3a91b9,#3990ba,#388fba,#378dbb,#358cbb,#348abc,#3389bd,#3288bd,#3187bc,#3085bc,#3084bb)"></div><div style="background:linear-gradient(90deg,#0c48a0,#0c48a0,#0c48a0,#0c48a0,#0c48a0,#0c48a0,#0c48a0,#0c48a0,#0c48a0,#1659a8,#47a0b3,#7dcba5,#afdea3,#cfec9d,#e7f599,#f1f8aa,#f7fab5,#fafbbc,#fbfbc1,#fbfbc2,#fbfbc0,#fafbbb,#f8fab7,#f5fab2,#f2f9ac,#eef7a6,#ebf6a0,#e7f599,#e0f399,#d9f09b,#d3ed9c,#ccea9d,#c5e89f,#bfe5a0,#b9e3a1,#b3e0a2,#addea4,#a7dba4,#a0d9a4,#9ad6a4,#94d4a4,#8fd2a4,#89d0a4,#84cea5,#7fcca5,#7acaa5,#75c8a5,#71c6a5,#6dc5a5,#69c3a5,#65c1a6,#62bea7,#5fbaa8,#5db7a9,#5ab5ab,#58b2ac,#55afad,#53adae,#51aaaf,#4fa8b0,#4ca6b1,#4aa3b2,#49a1b3,#479fb3,#459db4,#439bb5,#4299b6,#4098b7,#3e96b7,#3d94b8,#3b93b9,#3a91b9,#3990ba,#378eba,#368dbb,#358bbc,#348abc,#3389bd,#3287bd,#3186bc,#3085bc,#2f84bb,#2f82ba)"></div><div style="background:linear-gradient(90deg,#0c48a0,#0c48a0,#0c48a0,#0c48a0,#0c48a0,#0c48a0,#0c48a0,#0c48a0,#0c48a0,#1e67ae,#53acae,#8bd1a4,#bae3a1,#d9f09b,#ebf7a1,#f4f9b0,#fafbba,#fbfbc2,#fbfcc5,#fbfcc4,#fbfbc1,#fafbbc,#f8fab6,#f5f9b1,#f1f8ab,#edf7a4,#e9f69d,#e5f498,#def29a,#d7ef9b,#d0ec9d,#c9e99e,#c2e69f,#bce4a1,#b5e1a2,#afdfa3,#a9dca4,#a3daa4,#9cd7a4,#96d5a4,#90d3a4,#8bd0a4,#85cea5,#80cca5,#7bcaa5,#76c8a5,#72c7a5,#6dc5a5,#69c3a5,#65c1a5,#62bea7,#5fbba8,#5db8a9,#5ab5ab,#58b2ac,#55afad,#53adae,#51aaaf,#4ea8b0,#4ca5b1,#4aa3b2,#48a1b3,#469fb4,#459db4,#439bb5,#4199b6,#4097b7,#3e95b7,#3d94b8,#3b92b9,#3a91b9,#388fba,#378ebb,#368cbb,#348bbc,#3389bc,#3288bd,#3187bc,#3085bc,#3084bb,#2f83bb,#2e82ba,#2e80ba)"></div><div style="background:linear-gradient(90deg,#0c48a0,#0c48a0,#0c48a0,#0c48a0,#0c48a0,#0c48a0,#0c48a0,#0c48a0,#0c48a0,#2775b5,#5eb9a9,#9ad6a4,#c5e79f,#e2f399,#f0f8a9,#f8fab6,#fbfbc0,#fcfcc6,#fcfcc8,#fcfcc6,#fbfbc1,#fafbbb,#f7fab5,#f4f9af,#f0f8a9,#ecf7a2,#e8f69b,#e2f399,#daf09a,#d3ed9c,#ccea9d,#c5e89f,#bfe5a0,#b8e2a1,#b2e0a3,#acdda4,#a5dba4,#9ed8a4,#98d6a4,#92d3a4,#8cd1a4,#87cfa5,#81cda5,#7ccba5,#77c9a5,#72c7a5,#6ec5a5,#69c3a5,#65c1a5,#62bea7,#60bba8,#5db8a9,#5ab5ab,#57b2ac,#55afad,#53acae,#50aaaf,#4ea7b0,#4ca5b1,#4aa3b2,#48a0b3,#469eb4,#449cb5,#429ab5,#4198b6,#3f97b7,#3e95b8,#3c93b8,#3b92b9,#3990ba,#388eba,#368dbb,#358cbc,#348abc,#3389bd,#3287bd,#3186bc,#3085bc,#2f83bb,#2f82ba,#2e81ba,#2d80b9,#2c7fb9)"></div><div style="background:linear-gradient(90deg,#0c48a0,#0c48a0,#0c48a0,#0c48a0,#0c48a0,#0c48a0,#0c48a0,#0c48a0,#0c48a0,#3084bb,#6bc4a5,#a8dca4,#cfec9d,#e9f69d,#f4f9af,#fafbbc,#fcfcc6,#fcfcca,#fcfcca,#fcfcc7,#fbfbc1,#fafbba,#f6fab4,#f3f9ad,#eef8a6,#eaf69f,#e6f598,#def29a,#d7ef9b,#d0ec9d,#c8e99e,#c1e69f,#bbe3a1,#b4e1a2,#aedea3,#a7dca4,#a0d9a4,#9ad6a4,#94d4a4,#8ed1a4,#88cfa5,#82cda5,#7dcba5,#78c9a5,#73c7a5,#6ec5a5,#6ac3a5,#66c2a5,#63bea7,#60bba8,#5db8a9,#5ab5ab,#57b2ac,#55afad,#52acae,#50a9af,#4ea7b0,#4ca5b1,#4aa2b2,#48a0b3,#469eb4,#449cb5,#429ab6,#4098b6,#3f96b7,#3d94b8,#3b93b9,#3a91b9,#398fba,#378ebb,#368cbb,#358bbc,#3389bc,#3288bd,#3187bc,#3085bc,#3084bb,#2f83bb,#2e81ba,#2d80b9,#2d7fb9,#2c7eb8,#2b7db8)"></div><div style="background:linear-gradient(90deg,#0c48a0,#0c48a0,#0c48a0,#0c48a0,#0c48a0,#0c48a0,#0c48a0,#0c48a0,#0c48a0,#3b93b9,#7bcaa5,#b4e1a2,#d9f09b,#eef7a5,#f7fab6,#fbfbc3,#fcfcca,#fdfccd,#fcfccb,#fcfcc7,#fbfbc0,#f9fbb8,#f5fab2,#f1f8ab,#edf7a3,#e8f69c,#e2f399,#dbf09a,#d3ed9c,#cbea9d,#c4e79f,#bde4a0,#b6e2a2,#b0dfa3,#a9dca4,#a2daa4,#9cd7a4,#95d4a4,#8fd2a4,#89d0a4,#83cda5,#7ecba5,#78c9a5,#73c7a5,#6fc5a5,#6ac4a5,#66c2a5,#63bea7,#5fbba8,#5db7a9,#5ab4ab,#57b1ac,#54aead,#52acae,#50a9af,#4da7b0,#4ba4b1,#49a2b2,#479fb3,#459db4,#439bb5,#4199b6,#4097b7,#3e95b7,#3c94b8,#3b92b9,#3990ba,#388fba,#378dbb,#358cbc,#348abc,#3389bd,#3287bd,#3186bc,#3084bb,#2f83bb,#2e82ba,#2e81ba,#2d7fb9,#2c7eb9,#2b7db8,#2b7cb8,#2a7bb7)"></div><div style="background:linear-gradient(90deg,#0c48a0,#0c48a0,#0c48a0,#0c48a0,#0c48a0,#0c48a0,#0c48a0,#0c48a0,#0c48a0,#48a1b3,#8bd0a4,#c0e6a0,#e3f499,#f2f9ac,#fafbbc,#fcfcc8,#fdfcce,#fdfcce,#fcfccb,#fcfcc5,#fbfbbe,#f8fab6,#f4f9af,#eff8a8,#ebf6a0,#e6f598,#def29a,#d6ef9b,#cfeb9d,#c7e89e,#c0e5a0,#b9e3a1,#b2e0a3,#abdda4,#a4daa4,#9dd8a4,#96d5a4,#90d2a4,#8ad0a4,#84cea5,#7ecba5,#79c9a5,#74c7a5,#6fc5a5,#6ac4a5,#66c2a5,#62bea7,#5fbba8,#5cb7a9,#59b4ab,#57b1ac,#54aead,#52abae,#4fa9b0,#4da6b1,#4ba3b2,#49a1b3,#469fb4,#459db4,#439bb5,#4199b6,#3f97b7,#3d95b8,#3c93b9,#3a91b9,#398fba,#378ebb,#368cbb,#348bbc,#3389bc,#3288bd,#3186bc,#3085bc,#2f84bb,#2f82ba,#2e81ba,#2d80b9,#2c7eb9,#2c7db8,#2b7cb8,#2a7bb7,#2a7ab7,#2979b6)"></div><div style="background:linear-gradient(90deg,#0c48a0,#0c48a0,#0c48a0,#0c48a0,#0c48a0,#0c48a0,#0c48a0,#0c48a0,#1658a7,#55afad,#9ad6a4,#cbea9d,#e9f69e,#f6fab3,#fbfbc2,#fdfccc,#fdfcd0,#fdfccf,#fcfcca,#fbfcc3,#fafbba,#f6fab3,#f2f8ac,#edf7a4,#e8f69c,#e2f399,#daf09b,#d2ed9c,#caea9e,#c2e69f,#bbe3a1,#b4e1a2,#addea4,#a6dba4,#9fd8a4,#98d5a4,#91d3a4,#8bd0a4,#84cea5,#7fcca5,#79c9a5,#74c7a5,#6fc5a5,#6ac4a5,#65c1a5,#62bea7,#5fbaa8,#5cb7aa,#59b4ab,#56b0ac,#54adad,#51abaf,#4fa8b0,#4ca5b1,#4aa3b2,#48a0b3,#469eb4,#449cb5,#429ab6,#4098b7,#3e96b7,#3d94b8,#3b92b9,#3990ba,#388fba,#368dbb,#358bbc,#348abc,#3288bd,#3187bd,#3085bc,#3084bb,#2f83bb,#2e81ba,#2d80b9,#2c7fb9,#2c7db8,#2b7cb8,#2a7bb7,#2a7ab7,#2979b6,#2878b6,#2877b5)"></div><div style="background:linear-gradient(90deg,#0c48a0,#0c48a0,#0c48a0,#0c48a0,#0c48a0,#0c48a0,#0c48a0,#0c48a0,#1f69af,#62bda7,#a9dca4,#d6ee9b,#eef7a6,#f9fbb9,#fcfcc8,#fdfccf,#fdfcd1,#fdfcce,#fcfcc8,#fbfbc0,#f8fbb7,#f4f9b0,#eff8a8,#eaf6a0,#e5f598,#ddf19a,#d5ee9c,#cceb9d,#c5e79f,#bde4a0,#b6e1a2,#afdea3,#a7dca4,#a0d9a4,#99d6a4,#92d3a4,#8bd1a4,#85cea5,#7fcca5,#79caa5,#74c7a5,#6fc5a5,#6ac3a5,#65c1a5,#62bda7,#5fbaa8,#5bb6aa,#59b3ab,#56b0ad,#53adae,#50aaaf,#4ea7b0,#4ca4b1,#49a2b2,#47a0b3,#459db4,#439bb5,#4199b6,#3f97b7,#3d95b8,#3c93b9,#3a91b9,#398fba,#378ebb,#368cbb,#348abc,#3389bd,#3287bd,#3186bc,#3084bb,#2f83bb,#2e81ba,#2d80b9,#2d7fb9,#2c7eb8,#2b7cb8,#2a7bb7,#2a7ab7,#2979b6,#2878b6,#2877b5,#2776b5,#2775b4)"></div><div style="background:linear-gradient(90deg,#0c48a0,#0c48a0,#0c48a0,#0c48a0,#0c48a0,#0c48a0,#0c48a0,#0c48a0,#2979b6,#71c6a5,#b5e1a2,#dff299,#f2f9ac,#fbfbbf,#fcfccc,#fdfcd1,#fdfcd1,#fdfccc,#fbfcc5,#fafbbb,#f6fab4,#f1f8ab,#edf7a3,#e8f59b,#e0f399,#d7ef9b,#cfec9d,#c7e89e,#bfe5a0,#b7e2a2,#b0dfa3,#a9dca4,#a1d9a4,#99d6a4,#92d3a4,#8cd1a4,#85cea5,#7fcca5,#79c9a5,#74c7a5,#6ec5a5,#69c3a5,#65c1a6,#61bda7,#5eb9a9,#5bb6aa,#58b2ac,#55afad,#52acae,#50a9af,#4da6b1,#4ba4b2,#48a1b3,#469fb4,#449cb5,#429ab6,#4098b6,#3e96b7,#3c94b8,#3b92b9,#3990ba,#388eba,#368cbb,#358bbc,#3389bc,#3288bd,#3186bc,#3085bb,#2f83bb,#2e82ba,#2d80ba,#2d7fb9,#2c7eb8,#2b7cb8,#2a7bb7,#2a7ab7,#2979b6,#2878b6,#2877b5,#2776b5,#2775b4,#2674b4,#2573b3)"></div><div style="background:linear-gradient(90deg,#0c48a0,#0c48a0,#0c48a0,#0c48a0,#0c48a0,#0c48a0,#0c48a0,#0c48a0,#348abc,#81cda5,#c1e6a0,#e7f59a,#f5fab2,#fbfcc4,#fdfcce,#fdfcd1,#fdfccf,#fcfcc9,#fbfbc0,#f8fab7,#f3f9af,#eef8a6,#e9f69e,#e3f499,#daf09a,#d1ed9c,#c9e99e,#c1e6a0,#b9e3a1,#b1e0a3,#aadda4,#a2d9a4,#9ad6a4,#93d3a4,#8cd1a4,#85cea5,#7fcca5,#79c9a5,#73c7a5,#6ec5a5,#68c3a5,#64c0a6,#61bca7,#5db8a9,#5ab5ab,#57b1ac,#54aead,#51abaf,#4fa8b0,#4ca5b1,#4aa2b2,#47a0b3,#459db4,#439bb5,#4199b6,#3f97b7,#3d94b8,#3b92b9,#3a91b9,#388fba,#368dbb,#358bbc,#338abc,#3288bd,#3186bc,#3085bc,#2f83bb,#2e82ba,#2d80ba,#2d7fb9,#2c7eb8,#2b7cb8,#2a7bb7,#2a7ab7,#2979b6,#2878b6,#2877b5,#2776b5,#2675b4,#2674b4,#2573b3,#2572b3,#2471b3)"></div><div style="background:linear-gradient(90deg,#0c48a0,#0c48a0,#0c48a0,#0c48a0,#0c48a0,#0c48a0,#0c48a0,#0c48a0,#4199b6,#91d3a4,#cbea9d,#ebf7a1,#f8fab7,#fcfcc7,#fdfccf,#fdfccf,#fcfccb,#fbfcc4,#fafbba,#f5fab2,#f0f8a9,#ebf7a1,#e6f598,#dcf19a,#d3ed9c,#cbea9e,#c2e69f,#bae3a1,#b2e0a3,#abdda4,#a2daa4,#9ad6a4,#93d4a4,#8cd1a4,#85cea5,#7ecca5,#78c9a5,#72c7a5,#6dc5a5,#67c3a5,#63bfa6,#60bba8,#5cb7a9,#59b4ab,#56b0ac,#53adae,#50aaaf,#4ea7b0,#4ba4b1,#49a1b3,#469fb4,#449cb5,#429ab6,#4097b7,#3e95b8,#3c93b8,#3a91b9,#388fba,#378dbb,#358cbc,#348abc,#3288bd,#3187bc,#3085bc,#2f83bb,#2e82ba,#2d80ba,#2d7fb9,#2c7eb8,#2b7cb8,#2a7bb7,#2a7ab7,#2979b6,#2877b6,#2876b5,#2775b5,#2674b4,#2673b4,#2572b3,#2571b3,#2470b2,#2470b2,#236fb2)"></div><div style="background:linear-gradient(90deg,#0c48a0,#0c48a0,#0c48a0,#0c48a0,#0c48a0,#0c48a0,#0c48a0,#0c48a0,#4fa8b0,#9fd8a4,#d4ee9c,#eff8a7,#fafbba,#fcfcc8,#fdfccd,#fcfccc,#fcfcc6,#fafbbd,#f7fab4,#f2f9ac,#ecf7a3,#e7f59a,#def29a,#d5ee9b,#ccea9d,#c3e79f,#bbe3a1,#b3e0a2,#abdda4,#a2daa4,#9ad6a4,#92d3a4,#8bd1a4,#84cea5,#7dcba5,#77c9a5,#71c6a5,#6cc4a5,#66c2a5,#62bea7,#5fbaa8,#5bb6aa,#58b2ac,#55afad,#52abae,#4fa8b0,#4ca5b1,#4aa2b2,#47a0b3,#459db4,#439bb5,#4098b6,#3e96b7,#3c94b8,#3b92b9,#3990ba,#378ebb,#358cbb,#348abc,#3288bd,#3187bc,#3085bc,#2f83bb,#2e82ba,#2d80b9,#2d7fb9,#2c7db8,#2b7cb8,#2a7bb7,#2979b6,#2978b6,#2877b5,#2776b5,#2775b4,#2674b4,#2573b3,#2572b3,#2471b3,#2470b2,#236fb2,#236eb1,#226db1,#226db1)"></div><div style="background:linear-gradient(90deg,#0c48a0,#0c48a0,#0c48a0,#0c48a0,#0c48a0,#0c48a0,#0c48a0,#0d49a1,#5bb6aa,#acdda4,#dcf19a,#f1f8ab,#fafbbc,#fcfcc7,#fcfcc9,#fcfcc6,#fbfbbe,#f8fab6,#f3f9ae,#eef7a5,#e8f69c,#e0f399,#d6ef9b,#cdeb9d,#c4e79f,#bbe4a1,#b3e0a2,#abdda4,#a2daa4,#9ad6a4,#92d3a4,#8ad0a4,#83cda5,#7ccba5,#76c8a5,#70c6a5,#6ac4a5,#65c1a6,#61bca7,#5db8a9,#5ab4ab,#56b1ac,#53adae,#50aaaf,#4da7b0,#4ba4b2,#48a1b3,#469eb4,#439bb5,#4199b6,#3f96b7,#3d94b8,#3b92b9,#3990ba,#378ebb,#368cbb,#348abc,#3288bd,#3187bc,#3085bc,#2f83bb,#2e82ba,#2d80b9,#2c7fb9,#2c7db8,#2b7cb7,#2a7ab7,#2979b6,#2878b6,#2877b5,#2776b5,#2674b4,#2673b4,#2572b3,#2571b3,#2470b2,#236fb2,#236fb1,#226eb1,#226db1,#216cb0,#216bb0,#206bb0)"></div><div style="background:linear-gradient(90deg,#0c48a0,#0c48a0,#0c48a0,#0c48a0,#0c48a0,#0c48a0,#0c48a0,#175aa8,#66c2a5,#b5e1a2,#e1f399,#f2f9ad,#fafbbb,#fbfcc3,#fbfcc3,#fbfbbe,#f8fab7,#f3f9af,#eef7a6,#e9f69d,#e1f399,#d7ef9b,#ceeb9d,#c4e79f,#bbe4a1,#b3e0a2,#aadda4,#a1d9a4,#99d6a4,#91d3a4,#89d0a4,#81cda5,#7bcaa5,#74c7a5,#6ec5a5,#68c3a5,#63bfa6,#5fbba8,#5cb6aa,#58b2ab,#55afad,#52abae,#4fa8b0,#4ca5b1,#49a2b2,#469fb4,#449cb5,#4299b6,#3f97b7,#3d94b8,#3b92b9,#3990ba,#378ebb,#368cbb,#348abc,#3288bd,#3187bc,#3085bb,#2f83bb,#2e81ba,#2d80b9,#2c7eb9,#2b7db8,#2a7bb7,#2a7ab7,#2979b6,#2877b5,#2776b5,#2775b4,#2674b4,#2573b3,#2572b3,#2471b2,#2470b2,#236fb2,#236eb1,#226db1,#216cb0,#216bb0,#216bb0,#206aaf,#2069af,#1f68af)"></div><div style="background:linear-gradient(90deg,#0c48a0,#0c48a0,#0c48a0,#0c48a0,#0c48a0,#0c48a0,#0c48a0,#206aaf,#74c7a5,#bce4a0,#e5f498,#f3f9ad,#f9fbb9,#fafbbd,#fafbbb,#f7fab6,#f3f9ae,#eef7a6,#e9f69d,#e1f399,#d7ef9b,#cdeb9d,#c4e79f,#bbe3a1,#b2e0a3,#a9dca4,#a0d9a4,#97d5a4,#8fd2a4,#87cfa5,#7fcca5,#78c9a5,#72c7a5,#6bc4a5,#66c2a5,#61bda7,#5db8a9,#5ab4ab,#56b0ac,#53acae,#50a9af,#4ca6b1,#4aa2b2,#479fb3,#449cb5,#429ab6,#4097b7,#3d95b8,#3b92b9,#3990ba,#378ebb,#358cbb,#348abc,#3288bd,#3186bc,#3084bb,#2f82bb,#2e81ba,#2d7fb9,#2c7eb8,#2b7cb8,#2a7bb7,#2979b6,#2878b6,#2877b5,#2775b5,#2674b4,#2673b4,#2572b3,#2471b3,#2470b2,#236fb2,#236eb1,#226db1,#226cb0,#216bb0,#216bb0,#206aaf,#2069af,#1f68af,#1f68ae,#1e67ae,#1e66ae)"></div><div style="background:linear-gradient(90deg,#0c48a0,#0c48a0,#0c48a0,#0c48a0,#0c48a0,#0c48a0,#0c48a0,#2978b6,#7ecba5,#c1e6a0,#e6f598,#f1f8ab,#f6fab4,#f7fab6,#f6fab3,#f2f9ad,#eef7a5,#e8f69c,#e0f399,#d6ef9b,#cceb9d,#c3e79f,#b9e3a1,#b0dfa3,#a7dca4,#9ed8a4,#95d4a4,#8cd1a4,#84cea5,#7dcba5,#75c8a5,#6fc5a5,#68c3a5,#63bfa6,#5fbaa8,#5bb6aa,#57b2ac,#54aead,#50aaaf,#4da6b0,#4aa3b2,#47a0b3,#459db4,#429ab6,#4097b7,#3d95b8,#3b92b9,#3990ba,#378ebb,#358cbc,#338abc,#3288bd,#3186bc,#2f84bb,#2e82ba,#2d80b9,#2c7eb9,#2b7db8,#2a7bb7,#2a7ab7,#2978b6,#2877b5,#2776b5,#2675b4,#2673b4,#2572b3,#2471b3,#2470b2,#236fb2,#236eb1,#226db1,#216cb0,#216bb0,#206ab0,#206aaf,#1f69af,#1f68af,#1f67ae,#1e67ae,#1e66ae,#1d65ad,#1d65ad,#1d64ad)"></div><div style="background:linear-gradient(90deg,#0c48a0,#0c48a0,#0c48a0,#0c48a0,#0c48a0,#0c48a0,#0c48a0,#3084bb,#85cea5,#c3e79f,#e3f499,#eef7a6,#f2f9ad,#f2f9ad,#f0f8a9,#ecf7a2,#e7f59a,#def29a,#d4ee9c,#caea9e,#c0e6a0,#b7e2a2,#aedea3,#a4daa4,#9bd7a4,#91d3a4,#89d0a4,#81cca5,#79c9a5,#72c7a5,#6bc4a5,#65c1a5,#60bca8,#5cb7aa,#58b3ab,#54aead,#51aaaf,#4ea7b0,#4aa3b2,#47a0b3,#459db4,#429ab6,#3f97b7,#3d94b8,#3b92b9,#398fba,#378dbb,#358bbc,#3389bd,#3187bc,#3085bc,#2f83bb,#2e81ba,#2d7fb9,#2c7db8,#2b7cb7,#2a7ab7,#2979b6,#2877b5,#2776b5,#2775b4,#2673b4,#2572b3,#2471b3,#2470b2,#236fb2,#226eb1,#226db1,#216cb0,#216bb0,#206aaf,#2069af,#1f69af,#1f68ae,#1e67ae,#1e66ae,#1e66ad,#1d65ad,#1d64ad,#1c64ac,#1c63ac,#1c62ac,#1b62ac)"></div><div style="background:linear-gradient(90deg,#0c48a0,#0c48a0,#0c48a0,#0c48a0,#0c48a0,#0c48a0,#0c48a0,#368cbb,#89d0a4,#c1e6a0,#def29a,#eaf69e,#ecf7a3,#ebf7a1,#e9f69c,#e3f499,#daf09a,#d0ec9c,#c7e89e,#bde4a0,#b3e0a2,#aadda4,#a0d9a4,#96d5a4,#8dd1a4,#84cea5,#7ccba5,#74c8a5,#6dc5a5,#66c2a5,#62bda7,#5db8a9,#59b3ab,#55afad,#51abaf,#4ea7b0,#4aa3b2,#47a0b3,#449cb5,#4299b6,#3f96b7,#3c94b8,#3a91b9,#388fba,#368cbb,#348abc,#3288bd,#3186bc,#2f84bb,#2e82ba,#2d80b9,#2c7eb8,#2b7cb8,#2a7bb7,#2979b6,#2877b6,#2776b5,#2775b4,#2673b4,#2572b3,#2471b3,#2470b2,#236fb2,#226eb1,#226db1,#216cb0,#216bb0,#206aaf,#2069af,#1f68af,#1f67ae,#1e66ae,#1e66ad,#1d65ad,#1d64ad,#1c64ad,#1c63ac,#1c62ac,#1b62ac,#1b61ab,#1b61ab,#1a60ab,#1a60ab)"></div><div style="background:linear-gradient(90deg,#0c48a0,#0c48a0,#0c48a0,#0c48a0,#0c48a0,#0c48a0,#0c48a0,#3990ba,#87cfa5,#bbe4a1,#d5ee9b,#e1f399,#e4f498,#e1f399,#dbf19a,#d4ed9c,#cbea9e,#c1e69f,#b8e2a1,#aedea3,#a4daa4,#9ad6a4,#90d3a4,#87cfa5,#7fcca5,#76c8a5,#6fc5a5,#68c3a5,#62bea7,#5db9a9,#59b4ab,#55afad,#51abaf,#4da6b0,#4aa3b2,#479fb3,#449cb5,#4198b6,#3e95b7,#3b93b9,#3990ba,#378dbb,#358bbc,#3389bd,#3186bc,#3084bb,#2e82ba,#2d80b9,#2c7eb9,#2b7cb8,#2a7bb7,#2979b6,#2877b5,#2776b5,#2674b4,#2673b4,#2572b3,#2471b2,#236fb2,#236eb1,#226db1,#216cb0,#216bb0,#206aaf,#2069af,#1f68af,#1f67ae,#1e67ae,#1e66ad,#1d65ad,#1d64ad,#1c64ad,#1c63ac,#1c62ac,#1b62ac,#1b61ab,#1b60ab,#1a60ab,#1a5fab,#1a5faa,#195eaa,#195eaa,#195daa)"></div><div style="background:linear-gradient(90deg,#0c48a0,#0c48a0,#0c48a0,#0c48a0,#0c48a0,#0c48a0,#0c48a0,#398fba,#81cca5,#b1e0a3,#c8e99e,#d1ed9c,#d3ed9c,#d0ec9c,#caea9e,#c2e69f,#b9e3a1,#b0dfa3,#a7dba4,#9cd7a4,#92d3a4,#89d0a4,#80cca5,#77c9a5,#6fc6a5,#68c3a5,#62bea7,#5db8a9,#59b3ab,#54aead,#50aaaf,#4ca5b1,#49a1b2,#459eb4,#429ab5,#3f97b7,#3d94b8,#3a91b9,#388eba,#358cbb,#3389bc,#3187bc,#3084bb,#2f82ba,#2d80b9,#2c7eb8,#2b7cb8,#2a7ab7,#2979b6,#2877b5,#2775b5,#2674b4,#2572b3,#2471b3,#2470b2,#236fb1,#226db1,#226cb0,#216bb0,#206aaf,#2069af,#1f68af,#1f67ae,#1e66ae,#1e66ad,#1d65ad,#1d64ad,#1c63ac,#1c63ac,#1b62ac,#1b61ab,#1b61ab,#1a60ab,#1a5fab,#1a5faa,#195eaa,#195eaa,#195daa,#185da9,#185ca9,#185ca9,#185ba9,#175ba9)"></div><div style="background:linear-gradient(90deg,#0c48a0,#0c48a0,#0c48a0,#0c48a0,#0c48a0,#0c48a0,#0c48a0,#3389bc,#73c7a5,#a1d9a4,#b6e2a2,#bee5a0,#bfe5a0,#bce4a1,#b6e1a2,#aedea3,#a5dba4,#9bd7a4,#92d3a4,#88cfa5,#7fcca5,#76c8a5,#6ec5a5,#67c2a5,#61bca7,#5cb7aa,#57b1ac,#53acae,#4fa8b0,#4ba3b2,#479fb3,#449cb5,#4098b6,#3d95b8,#3b92b9,#388fba,#368cbb,#3389bc,#3187bc,#3084bb,#2e82ba,#2d80b9,#2c7eb8,#2b7bb7,#297ab6,#2878b6,#2776b5,#2674b4,#2573b3,#2571b3,#2470b2,#236fb2,#226eb1,#226cb0,#216bb0,#206aaf,#2069af,#1f68af,#1e67ae,#1e66ae,#1d65ad,#1d64ad,#1c64ad,#1c63ac,#1c62ac,#1b61ac,#1b61ab,#1a60ab,#1a60ab,#1a5faa,#195eaa,#195eaa,#195daa,#185da9,#185ca9,#185ca9,#175ba9,#175ba9,#175aa8,#175aa8,#165aa8,#1659a8,#1659a8)"></div><div style="background:linear-gradient(90deg,#0c48a0,#0c48a0,#0c48a0,#0c48a0,#0c48a0,#0c48a0,#0c48a0,#2a7bb7,#61bca8,#89d0a4,#9ed8a4,#a6dba4,#a7dba4,#a3daa4,#9dd8a4,#95d4a4,#8dd1a4,#84cea5,#7bcaa5,#73c7a5,#6bc4a5,#64bfa6,#5eb9a9,#59b4ab,#54aead,#50a9af,#4ca5b1,#48a0b3,#449cb5,#4198b6,#3d95b8,#3b92b9,#388eba,#358bbc,#3389bd,#3186bc,#2f83bb,#2e81ba,#2c7fb9,#2b7cb8,#2a7ab7,#2978b6,#2876b5,#2775b4,#2673b3,#2571b3,#2470b2,#236fb1,#226db1,#216cb0,#216bb0,#206aaf,#1f69af,#1f67ae,#1e66ae,#1e66ad,#1d65ad,#1c64ad,#1c63ac,#1c62ac,#1b61ac,#1b61ab,#1a60ab,#1a5fab,#195faa,#195eaa,#195daa,#185da9,#185ca9,#185ca9,#175ba9,#175ba9,#175aa8,#175aa8,#1659a8,#1659a8,#1659a8,#1658a7,#1558a7,#1558a7,#1557a7,#1557a7,#1557a7)"></div><div style="background:linear-gradient(90deg,#0c48a0,#0c48a0,#0c48a0,#0c48a0,#0c48a0,#0c48a0,#0c48a0,#1d65ad,#4ba4b1,#6ac3a5,#7ecba5,#86cfa5,#87cfa5,#85cea5,#7fcca5,#79c9a5,#72c7a5,#6ac4a5,#64bfa6,#5eb9a9,#59b4ab,#54aead,#50a9af,#4ba4b1,#47a0b3,#439bb5,#4097b7,#3c94b8,#3990ba,#368dbb,#348abc,#3187bd,#3084bb,#2e81ba,#2d7fb9,#2b7cb8,#2a7ab7,#2978b6,#2776b5,#2674b4,#2572b3,#2471b2,#236fb2,#226eb1,#226cb0,#216bb0,#206aaf,#1f69af,#1f67ae,#1e66ae,#1d65ad,#1d64ad,#1c63ac,#1c63ac,#1b62ac,#1b61ab,#1a60ab,#1a5fab,#1a5faa,#195eaa,#195daa,#185da9,#185ca9,#185ca9,#175ba9,#175ba8,#175aa8,#165aa8,#1659a8,#1659a8,#1658a7,#1558a7,#1558a7,#1557a7,#1557a7,#1556a7,#1456a6,#1456a6,#1455a6,#1455a6,#1455a6,#1355a6,#1354a6)"></div><div style="background:linear-gradient(90deg,#0c48a0,#0c48a0,#0c48a0,#0c48a0,#0c48a0,#0c48a0,#0c48a0,#0c48a0,#3084bb,#4ca5b1,#5bb6aa,#62bea7,#64c0a6,#63bfa6,#61bca7,#5db8a9,#59b3ab,#55afad,#50aaaf,#4ca5b1,#48a0b3,#449cb5,#4098b6,#3d94b8,#3990ba,#368dbb,#348abc,#3187bc,#2f83bb,#2e81ba,#2c7eb8,#2a7bb7,#2979b6,#2877b5,#2775b4,#2573b3,#2471b3,#236fb2,#226eb1,#216cb0,#216bb0,#2069af,#1f68af,#1e67ae,#1e66ad,#1d65ad,#1c64ac,#1c63ac,#1b62ac,#1b61ab,#1a60ab,#1a5faa,#195eaa,#195eaa,#185daa,#185ca9,#185ca9,#175ba9,#175ba8,#175aa8,#165aa8,#1659a8,#1659a7,#1658a7,#1558a7,#1557a7,#1557a7,#1556a7,#1456a6,#1456a6,#1455a6,#1455a6,#1455a6,#1354a6,#1354a5,#1354a5,#1353a5,#1353a5,#1353a5,#1253a5,#1252a5,#1252a5,#1252a5)"></div><div style="background:linear-gradient(90deg,#0c48a0,#0c48a0,#0c48a0,#0c48a0,#0c48a0,#0c48a0,#0c48a0,#0c48a0,#165aa8,#2c7eb8,#3a91b9,#429ab5,#469eb4,#479fb3,#469eb4,#449cb5,#4299b6,#3f96b7,#3c93b8,#3990ba,#368cbb,#3389bd,#3186bc,#2f83bb,#2d80b9,#2b7db8,#2a7ab7,#2878b6,#2776b5,#2673b4,#2571b3,#236fb2,#226eb1,#216cb0,#206ab0,#2069af,#1f68ae,#1e66ae,#1d65ad,#1d64ad,#1c63ac,#1b62ac,#1b61ab,#1a60ab,#1a5faa,#195eaa,#195daa,#185da9,#185ca9,#175ba9,#175ba8,#175aa8,#1659a8,#1659a8,#1658a7,#1558a7,#1557a7,#1557a7,#1556a7,#1456a6,#1456a6,#1455a6,#1455a6,#1354a6,#1354a5,#1354a5,#1353a5,#1353a5,#1253a5,#1253a5,#1252a5,#1252a5,#1252a4,#1252a4,#1251a4,#1151a4,#1151a4,#1151a4,#1151a4,#1150a4,#1150a4,#1150a4,#1150a4)"></div><div style="background:linear-gradient(90deg,#0c48a0,#0c48a0,#0c48a0,#0c48a0,#0c48a0,#0c48a0,#0c48a0,#0c48a0,#0c48a0,#0f4ca2,#1c63ac,#2471b2,#2978b6,#2b7cb8,#2c7eb8,#2c7eb8,#2b7db8,#2b7cb7,#2a7ab7,#2878b6,#2776b5,#2674b4,#2572b3,#2470b2,#236eb1,#226cb0,#216bb0,#2069af,#1f68ae,#1e66ae,#1d65ad,#1c64ac,#1c62ac,#1b61ab,#1a60ab,#1a5faa,#195eaa,#195daa,#185ca9,#185ca9,#175ba9,#175aa8,#165aa8,#1659a8,#1658a7,#1558a7,#1557a7,#1557a7,#1456a6,#1456a6,#1455a6,#1455a6,#1354a6,#1354a5,#1354a5,#1353a5,#1253a5,#1253a5,#1252a5,#1252a5,#1252a4,#1251a4,#1151a4,#1151a4,#1151a4,#1150a4,#1150a4,#1150a4,#1150a4,#1150a3,#104fa3,#104fa3,#104fa3,#104fa3,#104fa3,#104fa3,#104ea3,#104ea3,#104ea3,#104ea3,#0f4ea3,#0f4ea3,#0f4ea3)"></div><div style="background:linear-gradient(90deg,#0c48a0,#0c48a0,#0c48a0,#0c48a0,#0c48a0,#0c48a0,#0c48a0,#0c48a0,#0c48a0,#0c48a0,#0c48a0,#0c48a0,#0f4da2,#1354a5,#1659a8,#185ca9,#195eaa,#195faa,#1a5faa,#1a5faa,#195faa,#195eaa,#195eaa,#185daa,#185ca9,#185ca9,#175ba9,#175aa8,#165aa8,#1659a8,#1658a7,#1558a7,#1557a7,#1556a7,#1456a6,#1455a6,#1455a6,#1354a6,#1354a5,#1354a5,#1353a5,#1253a5,#1252a5,#1252a5,#1252a4,#1251a4,#1151a4,#1151a4,#1150a4,#1150a4,#1150a4,#1150a3,#104fa3,#104fa3,#104fa3,#104fa3,#104fa3,#104ea3,#104ea3,#104ea3,#104ea3,#0f4ea3,#0f4ea3,#0f4da2,#0f4da2,#0f4da2,#0f4da2,#0f4da2,#0f4da2,#0f4da2,#0f4da2,#0f4ca2,#0f4ca2,#0f4ca2,#0e4ca2,#0e4ca2,#0e4ca2,#0e4ca2,#0e4ca2,#0e4ca2,#0e4ca2,#0e4ca2,#0e4ba2)"></div><div style="background:linear-gradient(90deg,#0c48a0,#0c48a0,#0c48a0,#0c48a0,#0c48a0,#0c48a0,#0c48a0,#0c48a0,#0c48a0,#0c48a0,#0c48a0,#0c48a0,#0c48a0,#0c48a0,#0c48a0,#0c48a0,#0c48a0,#0c48a0,#0c48a0,#0c48a0,#0c48a0,#0c48a0,#0d49a1,#0d4aa1,#0e4ba1,#0e4ba1,#0e4ba1,#0e4ba2,#0e4ca2,#0e4ca2,#0e4ca2,#0e4ca2,#0e4ca2,#0e4ca2,#0e4ca2,#0e4ca2,#0e4ca2,#0e4ca2,#0e4ca2,#0e4ca2,#0e4ba2,#0e4ba2,#0e4ba2,#0e4ba1,#0e4ba1,#0e4ba1,#0e4ba1,#0e4ba1,#0e4ba1,#0e4ba1,#0e4ba1,#0e4ba1,#0e4ba1,#0e4ba1,#0e4ba1,#0d4aa1,#0d4aa1,#0d4aa1,#0d4aa1,#0d4aa1,#0d4aa1,#0d4aa1,#0d4aa1,#0d4aa1,#0d4aa1,#0d4aa1,#0d4aa1,#0d4aa1,#0d4aa1,#0d4aa1,#0d4aa1,#0d4aa1,#0d4aa1,#0d4aa1,#0d4aa1,#0d4aa1,#0d4aa1,#0d4aa1,#0d49a1,#0d49a1,#0d49a1,#0d49a1,#0d49a1)"></div><div style="background:linear-gradient(90deg,#0c48a0,#0c48a0,#0c48a0,#0c48a0,#0c48a0,#0c48a0,#0c48a0,#0c48a0,#0c48a0,#0c48a0,#0c48a0,#0c48a0,#0c48a0,#0c48a0,#0c48a0,#0c48a0,#0c48a0,#0c48a0,#0c48a0,#0c48a0,#0c48a0,#0c48a0,#0c48a0,#0c48a0,#0c48a0,#0c48a0,#0c48a0,#0c48a0,#0c48a0,#0c48a0,#0c48a0,#0c48a0,#0c48a0,#0c48a0,#0c48a0,#0c48a0,#0c48a0,#0c48a0,#0c48a0,#0c48a0,#0c48a0,#0c48a0,#0c48a0,#0c48a0,#0c48a0,#0c48a0,#0c48a0,#0c48a0,#0c48a0,#0c48a0,#0c48a0,#0c48a0,#0c48a0,#0c48a0,#0c48a0,#0c48a0,#0c48a0,#0c48a0,#0c48a0,#0c48a0,#0c48a0,#0c48a0,#0c48a0,#0c48a0,#0c48a0,#0c48a0,#0c48a0,#0c48a0,#0c48a0,#0c48a0,#0c48a0,#0c48a0,#0c48a0,#0c48a0,#0c48a0,#0c48a0,#0c48a0,#0c48a0,#0c48a0,#0c48a0,#0c48a0,#0c48a0,#0c48a0)"></div><div style="background:linear-gradient(90deg,#0c48a0,#0c48a0,#0c48a0,#0c48a0,#0c48a0,#0c48a0,#0c48a0,#0c48a0,#0c48a0,#0c48a0,#0c48a0,#0c48a0,#0c48a0,#0c48a0,#0c48a0,#0c48a0,#0c48a0,#0c48a0,#0c48a0,#0c48a0,#0c48a0,#0c48a0,#0c48a0,#0c48a0,#0c48a0,#0c48a0,#0c48a0,#0c48a0,#0c48a0,#0c48a0,#0c48a0,#0c48a0,#0c48a0,#0c48a0,#0c48a0,#0c48a0,#0c48a0,#0c48a0,#0c48a0,#0c48a0,#0c48a0,#0c48a0,#0c48a0,#0c48a0,#0c48a0,#0c48a0,#0c48a0,#0c48a0,#0c48a0,#0c48a0,#0c48a0,#0c48a0,#0c48a0,#0c48a0,#0c48a0,#0c48a0,#0c48a0,#0c48a0,#0c48a0,#0c48a0,#0c48a0,#0c48a0,#0c48a0,#0c48a0,#0c48a0,#0c48a0,#0c48a0,#0c48a0,#0c48a0,#0c48a0,#0c48a0,#0c48a0,#0c48a0,#0c48a0,#0c48a0,#0c48a0,#0c48a0,#0c48a0,#0c48a0,#0c48a0,#0c48a0,#0c48a0,#0c48a0)"></div><div style="background:linear-gradient(90deg,#0c48a0,#0c48a0,#0c48a0,#0c48a0,#0c48a0,#0c48a0,#0c48a0,#0c48a0,#0c48a0,#0c48a0,#0c48a0,#0c48a0,#0c48a0,#0c48a0,#0c48a0,#0c48a0,#0c48a0,#0c48a0,#0c48a0,#0c48a0,#0c48a0,#0c48a0,#0c48a0,#0c48a0,#0c48a0,#0c48a0,#0c48a0,#0c48a0,#0c48a0,#0c48a0,#0c48a0,#0c48a0,#0c48a0,#0c48a0,#0c48a0,#0c48a0,#0c48a0,#0c48a0,#0c48a0,#0c48a0,#0c48a0,#0c48a0,#0c48a0,#0c48a0,#0c48a0,#0c48a0,#0c48a0,#0c48a0,#0c48a0,#0c48a0,#0c48a0,#0c48a0,#0c48a0,#0c48a0,#0c48a0,#0c48a0,#0c48a0,#0c48a0,#0c48a0,#0c48a0,#0c48a0,#0c48a0,#0c48a0,#0c48a0,#0c48a0,#0c48a0,#0c48a0,#0c48a0,#0c48a0,#0c48a0,#0c48a0,#0c48a0,#0c48a0,#0c48a0,#0c48a0,#0c48a0,#0c48a0,#0c48a0,#0c48a0,#0c48a0,#0c48a0,#0c48a0,#0c48a0)"></div><div style="background:linear-gradient(90deg,#0c48a0,#0c48a0,#0c48a0,#0c48a0,#0c48a0,#0c48a0,#0c48a0,#0c48a0,#0c48a0,#0c48a0,#0c48a0,#0c48a0,#0c48a0,#0c48a0,#0c48a0,#0c48a0,#0c48a0,#0c48a0,#0c48a0,#0c48a0,#0c48a0,#0c48a0,#0c48a0,#0c48a0,#0c48a0,#0c48a0,#0c48a0,#0c48a0,#0c48a0,#0c48a0,#0c48a0,#0c48a0,#0c48a0,#0c48a0,#0c48a0,#0c48a0,#0c48a0,#0c48a0,#0c48a0,#0c48a0,#0c48a0,#0c48a0,#0c48a0,#0c48a0,#0c48a0,#0c48a0,#0c48a0,#0c48a0,#0c48a0,#0c48a0,#0c48a0,#0c48a0,#0c48a0,#0c48a0,#0c48a0,#0c48a0,#0c48a0,#0c48a0,#0c48a0,#0c48a0,#0c48a0,#0c48a0,#0c48a0,#0c48a0,#0c48a0,#0c48a0,#0c48a0,#0c48a0,#0c48a0,#0c48a0,#0c48a0,#0c48a0,#0c48a0,#0c48a0,#0c48a0,#0c48a0,#0c48a0,#0c48a0,#0c48a0,#0c48a0,#0c48a0,#0c48a0,#0c48a0)"></div><div style="background:linear-gradient(90deg,#0c48a0,#0c48a0,#0c48a0,#0c48a0,#0c48a0,#0c48a0,#0c48a0,#0c48a0,#0c48a0,#0c48a0,#0c48a0,#0c48a0,#0c48a0,#0c48a0,#0c48a0,#0c48a0,#0c48a0,#0c48a0,#0c48a0,#0c48a0,#0c48a0,#0c48a0,#0c48a0,#0c48a0,#0c48a0,#0c48a0,#0c48a0,#0c48a0,#0c48a0,#0c48a0,#0c48a0,#0c48a0,#0c48a0,#0c48a0,#0c48a0,#0c48a0,#0c48a0,#0c48a0,#0c48a0,#0c48a0,#0c48a0,#0c48a0,#0c48a0,#0c48a0,#0c48a0,#0c48a0,#0c48a0,#0c48a0,#0c48a0,#0c48a0,#0c48a0,#0c48a0,#0c48a0,#0c48a0,#0c48a0,#0c48a0,#0c48a0,#0c48a0,#0c48a0,#0c48a0,#0c48a0,#0c48a0,#0c48a0,#0c48a0,#0c48a0,#0c48a0,#0c48a0,#0c48a0,#0c48a0,#0c48a0,#0c48a0,#0c48a0,#0c48a0,#0c48a0,#0c48a0,#0c48a0,#0c48a0,#0c48a0,#0c48a0,#0c48a0,#0c48a0,#0c48a0,#0c48a0)"></div><div style="background:linear-gradient(90deg,#0c48a0,#0c48a0,#0c48a0,#0c48a0,#0c48a0,#0c48a0,#0c48a0,#0c48a0,#0c48a0,#0c48a0,#0c48a0,#0c48a0,#0c48a0,#0c48a0,#0c48a0,#0c48a0,#0c48a0,#0c48a0,#0c48a0,#0c48a0,#0c48a0,#0c48a0,#0c48a0,#0c48a0,#0c48a0,#0c48a0,#0c48a0,#0c48a0,#0c48a0,#0c48a0,#0c48a0,#0c48a0,#0c48a0,#0c48a0,#0c48a0,#0c48a0,#0c48a0,#0c48a0,#0c48a0,#0c48a0,#0c48a0,#0c48a0,#0c48a0,#0c48a0,#0c48a0,#0c48a0,#0c48a0,#0c48a0,#0c48a0,#0c48a0,#0c48a0,#0c48a0,#0c48a0,#0c48a0,#0c48a0,#0c48a0,#0c48a0,#0c48a0,#0c48a0,#0c48a0,#0c48a0,#0c48a0,#0c48a0,#0c48a0,#0c48a0,#0c48a0,#0c48a0,#0c48a0,#0c48a0,#0c48a0,#0c48a0,#0c48a0,#0c48a0,#0c48a0,#0c48a0,#0c48a0,#0c48a0,#0c48a0,#0c48a0,#0c48a0,#0c48a0,#0c48a0,#0c48a0)"></div><div style="background:linear-gradient(90deg,#0c48a0,#0c48a0,#0c48a0,#0c48a0,#0c48a0,#0c48a0,#0c48a0,#0c48a0,#0c48a0,#0c48a0,#0c48a0,#0c48a0,#0c48a0,#0c48a0,#0c48a0,#0c48a0,#0c48a0,#0c48a0,#0c48a0,#0c48a0,#0c48a0,#0c48a0,#0c48a0,#0c48a0,#0c48a0,#0c48a0,#0c48a0,#0c48a0,#0c48a0,#0c48a0,#0c48a0,#0c48a0,#0c48a0,#0c48a0,#0c48a0,#0c48a0,#0c48a0,#0c48a0,#0c48a0,#0c48a0,#0c48a0,#0c48a0,#0c48a0,#0c48a0,#0c48a0,#0c48a0,#0c48a0,#0c48a0,#0c48a0,#0c48a0,#0c48a0,#0c48a0,#0c48a0,#0c48a0,#0c48a0,#0c48a0,#0c48a0,#0c48a0,#0c48a0,#0c48a0,#0c48a0,#0c48a0,#0c48a0,#0c48a0,#0c48a0,#0c48a0,#0c48a0,#0c48a0,#0c48a0,#0c48a0,#0c48a0,#0c48a0,#0c48a0,#0c48a0,#0c48a0,#0c48a0,#0c48a0,#0c48a0,#0c48a0,#0c48a0,#0c48a0,#0c48a0,#0c48a0)"></div></div></div>
<div style="position:absolute;left:372.7px;top:4.6px;width:7.2px;height:108.4px;background:linear-gradient(180deg,#9d192a 0.00% 1.85%,#a92131 1.85% 3.70%,#b52839 3.70% 5.56%,#c13041 5.56% 7.41%,#cd3749 7.41% 9.26%,#d93f50 9.26% 11.11%,#de484d 11.11% 12.96%,#e3504b 12.96% 14.81%,#e85948 14.81% 16.67%,#ed6246 16.67% 18.52%,#f36b44 18.52% 20.37%,#f57647 20.37% 22.22%,#f7824d 22.22% 24.07%,#f98e52 24.07% 25.93%,#fa9a58 25.93% 27.78%,#fca75e 27.78% 29.63%,#fdb264 29.63% 31.48%,#fdbb6b 31.48% 33.33%,#fec572 33.33% 35.19%,#fece7a 35.19% 37.04%,#fed882 37.04% 38.89%,#fedf90 38.89% 40.74%,#ffe69e 40.74% 42.59%,#ffedad 42.59% 44.44%,#fff3bc 44.44% 46.30%,#fff8cd 46.30% 48.15%,#fffddd 48.15% 50.00%,#fdfcd0 50.00% 51.85%,#fbfbc1 51.85% 53.70%,#f7fab4 53.70% 55.56%,#f0f8aa 55.56% 57.41%,#eaf69f 57.41% 59.26%,#e2f499 59.26% 61.11%,#d7ef9b 61.11% 62.96%,#cceb9d 62.96% 64.81%,#c1e69f 64.81% 66.67%,#b6e2a2 66.67% 68.52%,#abdda4 68.52% 70.37%,#9fd8a4 70.37% 72.22%,#92d3a4 72.22% 74.07%,#85cea5 74.07% 75.93%,#78c9a5 75.93% 77.78%,#6bc4a5 77.78% 79.63%,#60bba8 79.63% 81.48%,#56b1ac 81.48% 83.33%,#4da6b1 83.33% 85.19%,#439bb5 85.19% 87.04%,#3990ba 87.04% 88.89%,#3085bc 88.89% 90.74%,#2979b6 90.74% 92.59%,#226db1 92.59% 94.44%,#1b61ab 94.44% 96.30%,#1455a6 96.30% 98.15%,#0d49a1 98.15% 100.00%)"></div>
<svg width="415" height="250" viewBox="0 0 415 250">
<defs><clipPath id="cc"><rect x="33.50" y="116.70" width="163.50" height="108.30"/></clipPath><clipPath id="cd"><rect x="206.00" y="116.70" width="163.40" height="108.30"/></clipPath></defs>
<line x1="60.75" y1="113.30" x2="60.75" y2="111.40" stroke="#000" stroke-width="0.70"/>
<line x1="60.75" y1="4.35" x2="60.75" y2="6.25" stroke="#000" stroke-width="0.70"/>
<line x1="88.00" y1="113.30" x2="88.00" y2="111.40" stroke="#000" stroke-width="0.70"/>
<line x1="88.00" y1="4.35" x2="88.00" y2="6.25" stroke="#000" stroke-width="0.70"/>
<line x1="115.25" y1="113.30" x2="115.25" y2="111.40" stroke="#000" stroke-width="0.70"/>
<line x1="115.25" y1="4.35" x2="115.25" y2="6.25" stroke="#000" stroke-width="0.70"/>
<line x1="142.50" y1="113.30" x2="142.50" y2="111.40" stroke="#000" stroke-width="0.70"/>
<line x1="142.50" y1="4.35" x2="142.50" y2="6.25" stroke="#000" stroke-width="0.70"/>
<line x1="169.75" y1="113.30" x2="169.75" y2="111.40" stroke="#000" stroke-width="0.70"/>
<line x1="169.75" y1="4.35" x2="169.75" y2="6.25" stroke="#000" stroke-width="0.70"/>
<line x1="33.50" y1="99.68" x2="35.40" y2="99.68" stroke="#000" stroke-width="0.70"/>
<line x1="197.00" y1="99.68" x2="195.10" y2="99.68" stroke="#000" stroke-width="0.70"/>
<line x1="33.50" y1="86.06" x2="35.40" y2="86.06" stroke="#000" stroke-width="0.70"/>
<line x1="197.00" y1="86.06" x2="195.10" y2="86.06" stroke="#000" stroke-width="0.70"/>
<line x1="33.50" y1="72.44" x2="35.40" y2="72.44" stroke="#000" stroke-width="0.70"/>
<line x1="197.00" y1="72.44" x2="195.10" y2="72.44" stroke="#000" stroke-width="0.70"/>
<line x1="33.50" y1="58.82" x2="35.40" y2="58.82" stroke="#000" stroke-width="0.70"/>
<line x1="197.00" y1="58.82" x2="195.10" y2="58.82" stroke="#000" stroke-width="0.70"/>
<line x1="33.50" y1="45.21" x2="35.40" y2="45.21" stroke="#000" stroke-width="0.70"/>
<line x1="197.00" y1="45.21" x2="195.10" y2="45.21" stroke="#000" stroke-width="0.70"/>
<line x1="33.50" y1="31.59" x2="35.40" y2="31.59" stroke="#000" stroke-width="0.70"/>
<line x1="197.00" y1="31.59" x2="195.10" y2="31.59" stroke="#000" stroke-width="0.70"/>
<line x1="33.50" y1="17.97" x2="35.40" y2="17.97" stroke="#000" stroke-width="0.70"/>
<line x1="197.00" y1="17.97" x2="195.10" y2="17.97" stroke="#000" stroke-width="0.70"/>
<rect x="33.50" y="4.35" width="163.50" height="108.95" fill="none" stroke="#000" stroke-width="1.20"/>
<line x1="233.23" y1="113.30" x2="233.23" y2="111.40" stroke="#000" stroke-width="0.70"/>
<line x1="233.23" y1="4.35" x2="233.23" y2="6.25" stroke="#000" stroke-width="0.70"/>
<line x1="260.47" y1="113.30" x2="260.47" y2="111.40" stroke="#000" stroke-width="0.70"/>
<line x1="260.47" y1="4.35" x2="260.47" y2="6.25" stroke="#000" stroke-width="0.70"/>
<line x1="287.70" y1="113.30" x2="287.70" y2="111.40" stroke="#000" stroke-width="0.70"/>
<line x1="287.70" y1="4.35" x2="287.70" y2="6.25" stroke="#000" stroke-width="0.70"/>
<line x1="314.93" y1="113.30" x2="314.93" y2="111.40" stroke="#000" stroke-width="0.70"/>
<line x1="314.93" y1="4.35" x2="314.93" y2="6.25" stroke="#000" stroke-width="0.70"/>
<line x1="342.17" y1="113.30" x2="342.17" y2="111.40" stroke="#000" stroke-width="0.70"/>
<line x1="342.17" y1="4.35" x2="342.17" y2="6.25" stroke="#000" stroke-width="0.70"/>
<line x1="206.00" y1="99.68" x2="207.90" y2="99.68" stroke="#000" stroke-width="0.70"/>
<line x1="369.40" y1="99.68" x2="367.50" y2="99.68" stroke="#000" stroke-width="0.70"/>
<line x1="206.00" y1="86.06" x2="207.90" y2="86.06" stroke="#000" stroke-width="0.70"/>
<line x1="369.40" y1="86.06" x2="367.50" y2="86.06" stroke="#000" stroke-width="0.70"/>
<line x1="206.00" y1="72.44" x2="207.90" y2="72.44" stroke="#000" stroke-width="0.70"/>
<line x1="369.40" y1="72.44" x2="367.50" y2="72.44" stroke="#000" stroke-width="0.70"/>
<line x1="206.00" y1="58.82" x2="207.90" y2="58.82" stroke="#000" stroke-width="0.70"/>
<line x1="369.40" y1="58.82" x2="367.50" y2="58.82" stroke="#000" stroke-width="0.70"/>
<line x1="206.00" y1="45.21" x2="207.90" y2="45.21" stroke="#000" stroke-width="0.70"/>
<line x1="369.40" y1="45.21" x2="367.50" y2="45.21" stroke="#000" stroke-width="0.70"/>
<line x1="206.00" y1="31.59" x2="207.90" y2="31.59" stroke="#000" stroke-width="0.70"/>
<line x1="369.40" y1="31.59" x2="367.50" y2="31.59" stroke="#000" stroke-width="0.70"/>
<line x1="206.00" y1="17.97" x2="207.90" y2="17.97" stroke="#000" stroke-width="0.70"/>
<line x1="369.40" y1="17.97" x2="367.50" y2="17.97" stroke="#000" stroke-width="0.70"/>
<rect x="206.00" y="4.35" width="163.40" height="108.95" fill="none" stroke="#000" stroke-width="1.20"/>
<line x1="60.75" y1="225.00" x2="60.75" y2="223.10" stroke="#000" stroke-width="0.70"/>
<line x1="60.75" y1="116.70" x2="60.75" y2="118.60" stroke="#000" stroke-width="0.70"/>
<line x1="88.00" y1="225.00" x2="88.00" y2="223.10" stroke="#000" stroke-width="0.70"/>
<line x1="88.00" y1="116.70" x2="88.00" y2="118.60" stroke="#000" stroke-width="0.70"/>
<line x1="115.25" y1="225.00" x2="115.25" y2="223.10" stroke="#000" stroke-width="0.70"/>
<line x1="115.25" y1="116.70" x2="115.25" y2="118.60" stroke="#000" stroke-width="0.70"/>
<line x1="142.50" y1="225.00" x2="142.50" y2="223.10" stroke="#000" stroke-width="0.70"/>
<line x1="142.50" y1="116.70" x2="142.50" y2="118.60" stroke="#000" stroke-width="0.70"/>
<line x1="169.75" y1="225.00" x2="169.75" y2="223.10" stroke="#000" stroke-width="0.70"/>
<line x1="169.75" y1="116.70" x2="169.75" y2="118.60" stroke="#000" stroke-width="0.70"/>
<line x1="33.50" y1="209.53" x2="35.40" y2="209.53" stroke="#000" stroke-width="0.70"/>
<line x1="197.00" y1="209.53" x2="195.10" y2="209.53" stroke="#000" stroke-width="0.70"/>
<line x1="33.50" y1="194.06" x2="35.40" y2="194.06" stroke="#000" stroke-width="0.70"/>
<line x1="197.00" y1="194.06" x2="195.10" y2="194.06" stroke="#000" stroke-width="0.70"/>
<line x1="33.50" y1="178.59" x2="35.40" y2="178.59" stroke="#000" stroke-width="0.70"/>
<line x1="197.00" y1="178.59" x2="195.10" y2="178.59" stroke="#000" stroke-width="0.70"/>
<line x1="33.50" y1="163.11" x2="35.40" y2="163.11" stroke="#000" stroke-width="0.70"/>
<line x1="197.00" y1="163.11" x2="195.10" y2="163.11" stroke="#000" stroke-width="0.70"/>
<line x1="33.50" y1="147.64" x2="35.40" y2="147.64" stroke="#000" stroke-width="0.70"/>
<line x1="197.00" y1="147.64" x2="195.10" y2="147.64" stroke="#000" stroke-width="0.70"/>
<line x1="33.50" y1="132.17" x2="35.40" y2="132.17" stroke="#000" stroke-width="0.70"/>
<line x1="197.00" y1="132.17" x2="195.10" y2="132.17" stroke="#000" stroke-width="0.70"/>
<rect x="33.50" y="116.70" width="163.50" height="108.30" fill="none" stroke="#000" stroke-width="1.20"/>
<line x1="233.23" y1="225.00" x2="233.23" y2="223.10" stroke="#000" stroke-width="0.70"/>
<line x1="233.23" y1="116.70" x2="233.23" y2="118.60" stroke="#000" stroke-width="0.70"/>
<line x1="260.47" y1="225.00" x2="260.47" y2="223.10" stroke="#000" stroke-width="0.70"/>
<line x1="260.47" y1="116.70" x2="260.47" y2="118.60" stroke="#000" stroke-width="0.70"/>
<line x1="287.70" y1="225.00" x2="287.70" y2="223.10" stroke="#000" stroke-width="0.70"/>
<line x1="287.70" y1="116.70" x2="287.70" y2="118.60" stroke="#000" stroke-width="0.70"/>
<line x1="314.93" y1="225.00" x2="314.93" y2="223.10" stroke="#000" stroke-width="0.70"/>
<line x1="314.93" y1="116.70" x2="314.93" y2="118.60" stroke="#000" stroke-width="0.70"/>
<line x1="342.17" y1="225.00" x2="342.17" y2="223.10" stroke="#000" stroke-width="0.70"/>
<line x1="342.17" y1="116.70" x2="342.17" y2="118.60" stroke="#000" stroke-width="0.70"/>
<line x1="206.00" y1="209.53" x2="207.90" y2="209.53" stroke="#000" stroke-width="0.70"/>
<line x1="369.40" y1="209.53" x2="367.50" y2="209.53" stroke="#000" stroke-width="0.70"/>
<line x1="206.00" y1="194.06" x2="207.90" y2="194.06" stroke="#000" stroke-width="0.70"/>
<line x1="369.40" y1="194.06" x2="367.50" y2="194.06" stroke="#000" stroke-width="0.70"/>
<line x1="206.00" y1="178.59" x2="207.90" y2="178.59" stroke="#000" stroke-width="0.70"/>
<line x1="369.40" y1="178.59" x2="367.50" y2="178.59" stroke="#000" stroke-width="0.70"/>
<line x1="206.00" y1="163.11" x2="207.90" y2="163.11" stroke="#000" stroke-width="0.70"/>
<line x1="369.40" y1="163.11" x2="367.50" y2="163.11" stroke="#000" stroke-width="0.70"/>
<line x1="206.00" y1="147.64" x2="207.90" y2="147.64" stroke="#000" stroke-width="0.70"/>
<line x1="369.40" y1="147.64" x2="367.50" y2="147.64" stroke="#000" stroke-width="0.70"/>
<line x1="206.00" y1="132.17" x2="207.90" y2="132.17" stroke="#000" stroke-width="0.70"/>
<line x1="369.40" y1="132.17" x2="367.50" y2="132.17" stroke="#000" stroke-width="0.70"/>
<rect x="206.00" y="116.70" width="163.40" height="108.30" fill="none" stroke="#000" stroke-width="1.20"/>
<text x="32.00" y="116.17" font-size="9.70" text-anchor="end" fill="#000" stroke="#000" stroke-width="0.12" font-weight="normal" >0</text>
<text x="32.00" y="88.94" font-size="9.70" text-anchor="end" fill="#000" stroke="#000" stroke-width="0.12" font-weight="normal" >5</text>
<text x="32.00" y="61.70" font-size="9.70" text-anchor="end" fill="#000" stroke="#000" stroke-width="0.12" font-weight="normal" >10</text>
<text x="32.00" y="34.46" font-size="9.70" text-anchor="end" fill="#000" stroke="#000" stroke-width="0.12" font-weight="normal" >15</text>
<text x="32.00" y="6.97" font-size="9.70" text-anchor="end" fill="#000" stroke="#000" stroke-width="0.12" font-weight="normal" >20</text>
<text x="32.00" y="227.37" font-size="9.70" text-anchor="end" fill="#000" stroke="#000" stroke-width="0.12" font-weight="normal" >0</text>
<text x="32.00" y="196.43" font-size="9.70" text-anchor="end" fill="#000" stroke="#000" stroke-width="0.12" font-weight="normal" >20</text>
<text x="32.00" y="165.49" font-size="9.70" text-anchor="end" fill="#000" stroke="#000" stroke-width="0.12" font-weight="normal" >40</text>
<text x="32.00" y="134.54" font-size="9.70" text-anchor="end" fill="#000" stroke="#000" stroke-width="0.12" font-weight="normal" >60</text>
<text x="372.60" y="227.37" font-size="9.70" text-anchor="start" fill="#000" stroke="#000" stroke-width="0.12" font-weight="normal" >0</text>
<text x="372.60" y="196.43" font-size="9.70" text-anchor="start" fill="#000" stroke="#000" stroke-width="0.12" font-weight="normal" >40</text>
<text x="372.60" y="165.49" font-size="9.70" text-anchor="start" fill="#000" stroke="#000" stroke-width="0.12" font-weight="normal" >80</text>
<text x="372.60" y="134.54" font-size="9.70" text-anchor="start" fill="#000" stroke="#000" stroke-width="0.12" font-weight="normal" >120</text>
<text x="34.40" y="235.20" font-size="9.70" text-anchor="middle" fill="#000" stroke="#000" stroke-width="0.12" font-weight="normal" >0</text>
<text x="88.00" y="235.20" font-size="9.70" text-anchor="middle" fill="#000" stroke="#000" stroke-width="0.12" font-weight="normal" >5</text>
<text x="142.50" y="235.20" font-size="9.70" text-anchor="middle" fill="#000" stroke="#000" stroke-width="0.12" font-weight="normal" >10</text>
<text x="196.00" y="235.20" font-size="9.70" text-anchor="middle" fill="#000" stroke="#000" stroke-width="0.12" font-weight="normal" >15</text>
<text x="206.40" y="235.20" font-size="9.70" text-anchor="middle" fill="#000" stroke="#000" stroke-width="0.12" font-weight="normal" >0</text>
<text x="260.47" y="235.20" font-size="9.70" text-anchor="middle" fill="#000" stroke="#000" stroke-width="0.12" font-weight="normal" >5</text>
<text x="314.93" y="235.20" font-size="9.70" text-anchor="middle" fill="#000" stroke="#000" stroke-width="0.12" font-weight="normal" >10</text>
<text x="368.40" y="235.20" font-size="9.70" text-anchor="middle" fill="#000" stroke="#000" stroke-width="0.12" font-weight="normal" >15</text>
<rect x="372.70" y="4.60" width="7.20" height="108.40" fill="none" stroke="rgba(0,0,0,0.4)" stroke-width="0.40"/>
<line x1="372.70" y1="112.60" x2="374.30" y2="112.60" stroke="#000" stroke-width="0.80"/>
<line x1="378.30" y1="112.60" x2="379.90" y2="112.60" stroke="#000" stroke-width="0.80"/>
<line x1="372.70" y1="95.80" x2="374.30" y2="95.80" stroke="#000" stroke-width="0.80"/>
<line x1="378.30" y1="95.80" x2="379.90" y2="95.80" stroke="#000" stroke-width="0.80"/>
<line x1="372.70" y1="79.00" x2="374.30" y2="79.00" stroke="#000" stroke-width="0.80"/>
<line x1="378.30" y1="79.00" x2="379.90" y2="79.00" stroke="#000" stroke-width="0.80"/>
<line x1="372.70" y1="62.20" x2="374.30" y2="62.20" stroke="#000" stroke-width="0.80"/>
<line x1="378.30" y1="62.20" x2="379.90" y2="62.20" stroke="#000" stroke-width="0.80"/>
<line x1="372.70" y1="45.40" x2="374.30" y2="45.40" stroke="#000" stroke-width="0.80"/>
<line x1="378.30" y1="45.40" x2="379.90" y2="45.40" stroke="#000" stroke-width="0.80"/>
<line x1="372.70" y1="28.60" x2="374.30" y2="28.60" stroke="#000" stroke-width="0.80"/>
<line x1="378.30" y1="28.60" x2="379.90" y2="28.60" stroke="#000" stroke-width="0.80"/>
<line x1="372.70" y1="11.80" x2="374.30" y2="11.80" stroke="#000" stroke-width="0.80"/>
<line x1="378.30" y1="11.80" x2="379.90" y2="11.80" stroke="#000" stroke-width="0.80"/>
<text x="381.70" y="115.37" font-size="9.70" text-anchor="start" fill="#000" stroke="#000" stroke-width="0.12" font-weight="normal" >0</text>
<text x="381.70" y="81.77" font-size="9.70" text-anchor="start" fill="#000" stroke="#000" stroke-width="0.12" font-weight="normal" >0.05</text>
<text x="381.70" y="48.17" font-size="9.70" text-anchor="start" fill="#000" stroke="#000" stroke-width="0.12" font-weight="normal" >0.1</text>
<text x="381.70" y="14.57" font-size="9.70" text-anchor="start" fill="#000" stroke="#000" stroke-width="0.12" font-weight="normal" >0.15</text>
<polyline points="38.0,224.8 38.2,224.8 38.4,224.8 38.6,224.8 38.8,224.7 39.0,224.7 39.3,224.7 39.5,224.7 39.7,224.7 39.9,224.6 40.1,224.6 40.3,224.6 40.6,224.5 40.8,224.5 41.0,224.5 41.2,224.4 41.4,224.4 41.6,224.4 41.9,224.3 42.1,224.3 42.3,224.3 42.5,224.2 42.7,224.2 43.0,224.1 43.2,224.1 43.4,224.0 43.6,224.0 43.8,223.9 44.0,223.8 44.3,223.8 44.5,223.7 44.7,223.7 44.9,223.6 45.1,223.5 45.3,223.4 45.6,223.4 45.8,223.3 46.0,223.2 46.2,223.1 46.4,223.0 46.6,223.0 46.9,222.9 47.1,222.8 47.3,222.7 47.5,222.6 47.7,222.5 47.9,222.4 48.2,222.3 48.4,222.2 48.6,222.1 48.8,222.0 49.0,221.9 49.3,221.8 49.5,221.7 49.7,221.6 49.9,221.5 50.1,221.4 50.3,221.3 50.6,221.1 50.8,221.0 51.0,220.9 51.2,220.8 51.4,220.7 51.6,220.6 51.9,220.4 52.1,220.3 52.3,220.2 52.5,220.1 52.7,220.0 52.9,219.8 53.2,219.7 53.4,219.6 53.6,219.5 53.8,219.3 54.0,219.2 54.3,219.1 54.5,218.9 54.7,218.8 54.9,218.7 55.1,218.6 55.3,218.4 55.6,218.3 55.8,218.2 56.0,218.0 56.2,217.9 56.4,217.8 56.6,217.6 56.9,217.5 57.1,217.4 57.3,217.2 57.5,217.1 57.7,217.0 57.9,216.8 58.2,216.7 58.4,216.6 58.6,216.4 58.8,216.3 59.0,216.2 59.2,216.0 59.5,215.9 59.7,215.7 59.9,215.6 60.1,215.5 60.3,215.3 60.6,215.2 60.8,215.0 61.0,214.9 61.2,214.8 61.4,214.6 61.6,214.5 61.9,214.3 62.1,214.2 62.3,214.1 62.5,213.9 62.7,213.8 62.9,213.6 63.2,213.5 63.4,213.4 63.6,213.2 63.8,213.1 64.0,212.9 64.2,212.8 64.5,212.7 64.7,212.5 64.9,212.4 65.1,212.2 65.3,212.1 65.5,211.9 65.8,211.8 66.0,211.7 66.2,211.5 66.7,211.2 67.4,210.7 68.1,210.3 68.7,209.9 69.4,209.4 70.0,209.0 70.7,208.5 71.3,208.1 72.0,207.7 72.6,207.2 73.3,206.8 73.9,206.4 74.6,205.9 75.3,205.5 75.9,205.0 76.6,204.6 77.2,204.1 77.9,203.7 78.5,203.3 79.2,202.8 79.8,202.4 80.5,201.9 81.1,201.5 81.8,201.0 82.5,200.6 83.1,200.1 83.8,199.7 84.4,199.3 85.1,198.8 85.7,198.4 86.4,197.9 87.0,197.5 87.7,197.0 88.3,196.6 89.0,196.1 89.7,195.7 90.3,195.2 91.0,194.8 91.6,194.3 92.3,193.9 92.9,193.4 93.6,193.0 94.2,192.5 94.9,192.1 95.5,191.6 96.2,191.2 96.9,190.7 97.5,190.3 98.2,189.8 98.8,189.4 99.5,188.9 100.1,188.5 100.8,188.0 101.4,187.6 102.1,187.1 102.7,186.7 103.4,186.2 104.1,185.8 104.7,185.3 105.4,184.9 106.0,184.4 106.7,184.0 107.3,183.5 108.0,183.1 108.6,182.6 109.3,182.2 109.9,181.7 110.6,181.3 111.3,180.8 111.9,180.4 112.6,179.9 113.2,179.5 113.9,179.0 114.5,178.6 115.2,178.1 115.8,177.7 116.5,177.2 117.1,176.8 117.8,176.3 118.5,175.9 119.1,175.4 119.8,175.0 120.4,174.5 121.1,174.0 121.7,173.6 122.4,173.1 123.0,172.7 123.7,172.2 124.3,171.8 125.0,171.3 125.7,170.9 126.3,170.4 127.0,170.0 127.6,169.5 128.3,169.1 128.9,168.6 129.6,168.2 130.2,167.7 130.9,167.3 131.5,166.8 132.2,166.4 132.9,165.9 133.5,165.5 134.2,165.0 134.8,164.5 135.5,164.1 136.1,163.6 136.8,163.2 137.4,162.7 138.1,162.3 138.7,161.8 139.4,161.4 140.1,160.9 140.7,160.5 141.4,160.0 142.0,159.6 142.7,159.1 143.3,158.7 144.0,158.2 144.6,157.8 145.3,157.3 145.9,156.9 146.6,156.4 147.3,155.9 147.9,155.5 148.6,155.0 149.2,154.6 149.9,154.1 150.5,153.7 151.2,153.2 151.8,152.8 152.5,152.3 153.1,151.9 153.8,151.4 154.5,151.0 155.1,150.5 155.8,150.0 156.4,149.6 157.1,149.1 157.7,148.7 158.4,148.2 159.0,147.8 159.7,147.3 160.3,146.9 161.0,146.4 161.7,146.0 162.3,145.5 163.0,145.1 163.6,144.6 164.3,144.2 164.9,143.7 165.6,143.2 166.2,142.8 166.9,142.3 167.5,141.9 168.2,141.4 168.9,141.0 169.5,140.5 170.2,140.1 170.8,139.6 171.5,139.2 172.1,138.7 172.8,138.3 173.4,137.8 174.1,137.4 174.7,136.9 175.4,136.4 176.1,136.0 176.7,135.5 177.4,135.1 178.0,134.6 178.7,134.2 179.3,133.7 180.0,133.3 180.6,132.8 181.3,132.4 181.9,131.9 182.6,131.4 183.3,131.0 183.9,130.5 184.6,130.1 185.2,129.6 185.9,129.2 186.5,128.7 187.2,128.3 187.8,127.8 188.5,127.4 189.1,126.9 189.8,126.5 190.5,126.0 191.1,125.5 191.8,125.1 192.4,124.6 193.1,124.2 193.7,123.7 194.4,123.3 195.0,122.8 195.7,122.4 196.3,121.9 197.0,121.5" fill="none" stroke="#f0242e" stroke-width="1.15" clip-path="url(#cc)"/>
<polyline points="231.7,212.1 231.7,212.1 231.9,212.0 232.2,211.8 232.4,211.7 232.6,211.5 232.8,211.4 233.0,211.2 233.3,211.1 233.5,210.9 233.7,210.8 233.9,210.6 234.1,210.5 234.3,210.3 234.6,210.2 234.8,210.0 235.0,209.9 235.2,209.8 235.4,209.6 235.6,209.5 235.9,209.3 236.1,209.2 236.3,209.0 236.5,208.9 236.7,208.7 236.9,208.6 237.2,208.4 237.4,208.3 237.6,208.1 237.8,208.0 238.0,207.8 238.2,207.7 238.5,207.5 238.7,207.4 239.2,207.0 239.9,206.6 240.5,206.1 241.2,205.7 241.8,205.2 242.5,204.8 243.1,204.3 243.8,203.9 244.5,203.4 245.1,203.0 245.8,202.6 246.4,202.1 247.1,201.7 247.7,201.2 248.4,200.8 249.0,200.3 249.7,199.9 250.3,199.4 251.0,199.0 251.7,198.5 252.3,198.1 253.0,197.6 253.6,197.2 254.3,196.7 254.9,196.3 255.6,195.8 256.2,195.4 256.9,194.9 257.5,194.5 258.2,194.0 258.8,193.6 259.5,193.2 260.2,192.7 260.8,192.3 261.5,191.8 262.1,191.4 262.8,190.9 263.4,190.5 264.1,190.0 264.7,189.6 265.4,189.1 266.0,188.7 266.7,188.2 267.4,187.8 268.0,187.3 268.7,186.9 269.3,186.4 270.0,186.0 270.6,185.5 271.3,185.1 271.9,184.6 272.6,184.2 273.2,183.7 273.9,183.3 274.5,182.8 275.2,182.4 275.9,181.9 276.5,181.5 277.2,181.0 277.8,180.6 278.5,180.1 279.1,179.7 279.8,179.2 280.4,178.8 281.1,178.3 281.7,177.9 282.4,177.4 283.1,177.0 283.7,176.5 284.4,176.1 285.0,175.6 285.7,175.2 286.3,174.7 287.0,174.3 287.6,173.8 288.3,173.4 288.9,172.9 289.6,172.5 290.2,172.0 290.9,171.6 291.6,171.1 292.2,170.7 292.9,170.2 293.5,169.8 294.2,169.3 294.8,168.9 295.5,168.4 296.1,168.0 296.8,167.5 297.4,167.1 298.1,166.6 298.8,166.2 299.4,165.7 300.1,165.3 300.7,164.8 301.4,164.4 302.0,163.9 302.7,163.5 303.3,163.0 304.0,162.6 304.6,162.1 305.3,161.7 305.9,161.2 306.6,160.8 307.3,160.3 307.9,159.9 308.6,159.4 309.2,159.0 309.9,158.5 310.5,158.1 311.2,157.7 311.8,157.2 312.5,156.8 313.1,156.3 313.8,155.9 314.5,155.4 315.1,155.0 315.8,154.5 316.4,154.0 317.1,153.6 317.7,153.2 318.4,152.7 319.0,152.3 319.7,151.8 320.3,151.4 321.0,150.9 321.6,150.5 322.3,150.0 323.0,149.6 323.6,149.1 324.3,148.7 324.9,148.2 325.6,147.8 326.2,147.3 326.9,146.9 327.5,146.4 328.2,146.0 328.8,145.5 329.5,145.1 330.2,144.6 330.8,144.2 331.5,143.7 332.1,143.3 332.8,142.8 333.4,142.4 334.1,141.9 334.7,141.5 335.4,141.0 336.0,140.6 336.7,140.1 337.3,139.7 338.0,139.2 338.7,138.8 339.3,138.3 340.0,137.9 340.6,137.4 341.3,137.0 341.9,136.5 342.6,136.1 343.2,135.6 343.9,135.2 344.5,134.7 345.2,134.3 345.9,133.8 346.5,133.4 347.2,132.9 347.8,132.5 348.5,132.0 349.1,131.6 349.8,131.1 350.4,130.7 351.1,130.2 351.7,129.8 352.4,129.3 353.0,128.9 353.7,128.4 354.4,128.0 355.0,127.5 355.7,127.1 356.3,126.6 357.0,126.2 357.6,125.7 358.3,125.3 358.9,124.8 359.6,124.4 360.2,123.9 360.9,123.5 361.6,123.0 362.2,122.6 362.9,122.1 363.5,121.7 364.2,121.2 364.8,120.8 365.5,120.3 366.1,119.9 366.8,119.4 367.4,119.0 368.1,118.5 368.7,118.1 369.4,117.6" fill="none" stroke="#f0242e" stroke-width="1.15" clip-path="url(#cd)"/>
<polyline points="36.7,224.8 36.9,224.8 37.1,224.8 37.3,224.7 37.5,224.7 37.7,224.7 38.0,224.6 38.2,224.6 38.4,224.6 38.6,224.5 38.8,224.5 39.0,224.4 39.3,224.4 39.5,224.3 39.7,224.2 39.9,224.2 40.1,224.1 40.3,224.0 40.6,224.0 40.8,223.9 41.0,223.8 41.2,223.7 41.4,223.7 41.6,223.6 41.9,223.5 42.1,223.4 42.3,223.3 42.5,223.2 42.7,223.1 43.0,223.1 43.2,223.0 43.4,222.9 43.6,222.8 43.8,222.7 44.0,222.6 44.3,222.5 44.5,222.4 44.7,222.3 44.9,222.2 45.1,222.1 45.3,222.0 45.6,221.9 45.8,221.8 46.0,221.7 46.2,221.6 46.4,221.5 46.6,221.3 46.9,221.2 47.1,221.1 47.3,221.0 47.5,220.9 47.7,220.8 47.9,220.7 48.2,220.6 48.4,220.5 48.6,220.4 48.8,220.3 49.0,220.2 49.3,220.0 49.5,219.9 49.7,219.8 49.9,219.7 50.1,219.6 50.3,219.5 50.6,219.4 50.8,219.3 51.0,219.1 51.2,219.0 51.4,218.9 51.6,218.8 51.9,218.7 52.1,218.6 52.3,218.5 52.5,218.3 52.7,218.2 52.9,218.1 53.2,218.0 53.4,217.9 53.6,217.8 53.8,217.7 54.0,217.5 54.3,217.4 54.5,217.3 54.7,217.2 54.9,217.1 55.1,217.0 55.3,216.8 55.6,216.7 55.8,216.6 56.0,216.5 56.2,216.4 56.4,216.3 56.6,216.1 56.9,216.0 57.1,215.9 57.3,215.8 57.5,215.7 57.7,215.6 57.9,215.4 58.2,215.3 58.4,215.2 58.6,215.1 58.8,215.0 59.0,214.9 59.2,214.7 59.5,214.6 59.7,214.5 59.9,214.4 60.1,214.3 60.3,214.1 60.6,214.0 60.8,213.9 61.0,213.8 61.2,213.7 61.4,213.6 61.6,213.4 61.9,213.3 62.1,213.2 62.3,213.1 62.5,213.0 62.7,212.8 62.9,212.7 63.2,212.6 63.4,212.5 63.6,212.4 63.8,212.3 64.0,212.1 64.2,212.0 64.5,211.9 64.7,211.8 64.9,211.7 65.1,211.5 65.3,211.4 65.5,211.3 65.8,211.2 66.0,211.1 66.2,210.9 66.7,210.7 67.4,210.3 68.1,209.9 68.7,209.6 69.4,209.2 70.0,208.9 70.7,208.5 71.3,208.1 72.0,207.8 72.6,207.4 73.3,207.1 73.9,206.7 74.6,206.3 75.3,206.0 75.9,205.6 76.6,205.3 77.2,204.9 77.9,204.5 78.5,204.2 79.2,203.8 79.8,203.4 80.5,203.1 81.1,202.7 81.8,202.4 82.5,202.0 83.1,201.6 83.8,201.3 84.4,200.9 85.1,200.5 85.7,200.2 86.4,199.8 87.0,199.5 87.7,199.1 88.3,198.7 89.0,198.4 89.7,198.0 90.3,197.7 91.0,197.3 91.6,196.9 92.3,196.6 92.9,196.2 93.6,195.8 94.2,195.5 94.9,195.1 95.5,194.7 96.2,194.4 96.9,194.0 97.5,193.7 98.2,193.3 98.8,192.9 99.5,192.6 100.1,192.2 100.8,191.8 101.4,191.5 102.1,191.1 102.7,190.8 103.4,190.4 104.1,190.0 104.7,189.7 105.4,189.3 106.0,188.9 106.7,188.6 107.3,188.2 108.0,187.9 108.6,187.5 109.3,187.1 109.9,186.8 110.6,186.4 111.3,186.0 111.9,185.7 112.6,185.3 113.2,184.9 113.9,184.6 114.5,184.2 115.2,183.9 115.8,183.5 116.5,183.1 117.1,182.8 117.8,182.4 118.5,182.0 119.1,181.7 119.8,181.3 120.4,180.9 121.1,180.6 121.7,180.2 122.4,179.9 123.0,179.5 123.7,179.1 124.3,178.8 125.0,178.4 125.7,178.0 126.3,177.7 127.0,177.3 127.6,176.9 128.3,176.6 128.9,176.2 129.6,175.8 130.2,175.5 130.9,175.1 131.5,174.8 132.2,174.4 132.9,174.0 133.5,173.7 134.2,173.3 134.8,172.9 135.5,172.6 136.1,172.2 136.8,171.8 137.4,171.5 138.1,171.1 138.7,170.8 139.4,170.4 140.1,170.0 140.7,169.7 141.4,169.3 142.0,168.9 142.7,168.6 143.3,168.2 144.0,167.8 144.6,167.5 145.3,167.1 145.9,166.8 146.6,166.4 147.3,166.0 147.9,165.7 148.6,165.3 149.2,164.9 149.9,164.6 150.5,164.2 151.2,163.8 151.8,163.5 152.5,163.1 153.1,162.8 153.8,162.4 154.5,162.0 155.1,161.7 155.8,161.3 156.4,160.9 157.1,160.6 157.7,160.2 158.4,159.8 159.0,159.5 159.7,159.1 160.3,158.7 161.0,158.4 161.7,158.0 162.3,157.7 163.0,157.3 163.6,156.9 164.3,156.6 164.9,156.2 165.6,155.8 166.2,155.5 166.9,155.1 167.5,154.7 168.2,154.4 168.9,154.0 169.5,153.6 170.2,153.3 170.8,152.9 171.5,152.6 172.1,152.2 172.8,151.8 173.4,151.5 174.1,151.1 174.7,150.7 175.4,150.4 176.1,150.0 176.7,149.6 177.4,149.3 178.0,148.9 178.7,148.5 179.3,148.2 180.0,147.8 180.6,147.5 181.3,147.1 181.9,146.7 182.6,146.4 183.3,146.0 183.9,145.6 184.6,145.3 185.2,144.9 185.9,144.5 186.5,144.2 187.2,143.8 187.8,143.5 188.5,143.1 189.1,142.7 189.8,142.4 190.5,142.0 191.1,141.6 191.8,141.3 192.4,140.9 193.1,140.5 193.7,140.2 194.4,139.8 195.0,139.4 195.7,139.1 196.3,138.7 197.0,138.3" fill="none" stroke="#468af4" stroke-width="1.15" clip-path="url(#cc)"/>
<polyline points="222.6,217.9 222.6,217.9 222.8,217.8 223.0,217.7 223.3,217.6 223.5,217.4 223.7,217.3 223.9,217.2 224.1,217.1 224.3,217.0 224.6,216.9 224.8,216.7 225.0,216.6 225.2,216.5 225.4,216.4 225.7,216.3 225.9,216.1 226.1,216.0 226.3,215.9 226.5,215.8 226.7,215.7 227.0,215.6 227.2,215.4 227.4,215.3 227.6,215.2 227.8,215.1 228.0,215.0 228.3,214.8 228.5,214.7 228.7,214.6 228.9,214.5 229.1,214.4 229.3,214.2 229.6,214.1 229.8,214.0 230.0,213.9 230.2,213.8 230.4,213.7 230.6,213.5 230.9,213.4 231.1,213.3 231.3,213.2 231.5,213.1 231.7,212.9 231.7,212.9 231.9,212.8 232.2,212.7 232.4,212.6 232.6,212.5 232.8,212.3 233.0,212.2 233.3,212.1 233.5,212.0 233.7,211.9 233.9,211.7 234.1,211.6 234.3,211.5 234.6,211.4 234.8,211.3 235.0,211.2 235.2,211.0 235.4,210.9 235.6,210.8 235.9,210.7 236.1,210.6 236.3,210.4 236.5,210.3 236.7,210.2 236.9,210.1 237.2,210.0 237.4,209.8 237.6,209.7 237.8,209.6 238.0,209.5 238.2,209.4 238.5,209.2 238.7,209.1 239.2,208.8 239.9,208.5 240.5,208.1 241.2,207.7 241.8,207.4 242.5,207.0 243.1,206.7 243.8,206.3 244.5,205.9 245.1,205.6 245.8,205.2 246.4,204.9 247.1,204.5 247.7,204.1 248.4,203.8 249.0,203.4 249.7,203.1 250.3,202.7 251.0,202.3 251.7,202.0 252.3,201.6 253.0,201.3 253.6,200.9 254.3,200.5 254.9,200.2 255.6,199.8 256.2,199.5 256.9,199.1 257.5,198.7 258.2,198.4 258.8,198.0 259.5,197.7 260.2,197.3 260.8,196.9 261.5,196.6 262.1,196.2 262.8,195.9 263.4,195.5 264.1,195.1 264.7,194.8 265.4,194.4 266.0,194.1 266.7,193.7 267.4,193.3 268.0,193.0 268.7,192.6 269.3,192.3 270.0,191.9 270.6,191.5 271.3,191.2 271.9,190.8 272.6,190.5 273.2,190.1 273.9,189.7 274.5,189.4 275.2,189.0 275.9,188.7 276.5,188.3 277.2,187.9 277.8,187.6 278.5,187.2 279.1,186.8 279.8,186.5 280.4,186.1 281.1,185.8 281.7,185.4 282.4,185.0 283.1,184.7 283.7,184.3 284.4,184.0 285.0,183.6 285.7,183.2 286.3,182.9 287.0,182.5 287.6,182.2 288.3,181.8 288.9,181.4 289.6,181.1 290.2,180.7 290.9,180.4 291.6,180.0 292.2,179.6 292.9,179.3 293.5,178.9 294.2,178.6 294.8,178.2 295.5,177.8 296.1,177.5 296.8,177.1 297.4,176.8 298.1,176.4 298.8,176.0 299.4,175.7 300.1,175.3 300.7,175.0 301.4,174.6 302.0,174.2 302.7,173.9 303.3,173.5 304.0,173.1 304.6,172.8 305.3,172.4 305.9,172.1 306.6,171.7 307.3,171.3 307.9,171.0 308.6,170.6 309.2,170.3 309.9,169.9 310.5,169.5 311.2,169.2 311.8,168.8 312.5,168.5 313.1,168.1 313.8,167.7 314.5,167.4 315.1,167.0 315.8,166.7 316.4,166.3 317.1,165.9 317.7,165.6 318.4,165.2 319.0,164.9 319.7,164.5 320.3,164.1 321.0,163.8 321.6,163.4 322.3,163.0 323.0,162.7 323.6,162.3 324.3,162.0 324.9,161.6 325.6,161.2 326.2,160.9 326.9,160.5 327.5,160.2 328.2,159.8 328.8,159.4 329.5,159.1 330.2,158.7 330.8,158.4 331.5,158.0 332.1,157.6 332.8,157.3 333.4,156.9 334.1,156.6 334.7,156.2 335.4,155.8 336.0,155.5 336.7,155.1 337.3,154.8 338.0,154.4 338.7,154.0 339.3,153.7 340.0,153.3 340.6,153.0 341.3,152.6 341.9,152.2 342.6,151.9 343.2,151.5 343.9,151.1 344.5,150.8 345.2,150.4 345.9,150.1 346.5,149.7 347.2,149.3 347.8,149.0 348.5,148.6 349.1,148.3 349.8,147.9 350.4,147.5 351.1,147.2 351.7,146.8 352.4,146.5 353.0,146.1 353.7,145.7 354.4,145.4 355.0,145.0 355.7,144.7 356.3,144.3 357.0,143.9 357.6,143.6 358.3,143.2 358.9,142.8 359.6,142.5 360.2,142.1 360.9,141.8 361.6,141.4 362.2,141.0 362.9,140.7 363.5,140.3 364.2,140.0 364.8,139.6 365.5,139.2 366.1,138.9 366.8,138.5 367.4,138.2 368.1,137.8 368.7,137.4 369.4,137.1" fill="none" stroke="#468af4" stroke-width="1.15" clip-path="url(#cd)"/>
<polyline points="36.7,224.6 36.9,224.6 37.1,224.5 37.3,224.5 37.5,224.4 37.7,224.4 38.0,224.3 38.2,224.2 38.4,224.2 38.6,224.1 38.8,224.1 39.0,224.0 39.3,223.9 39.5,223.9 39.7,223.8 39.9,223.7 40.1,223.7 40.3,223.6 40.6,223.5 40.8,223.4 41.0,223.4 41.2,223.3 41.4,223.2 41.6,223.2 41.9,223.1 42.1,223.0 42.3,222.9 42.5,222.9 42.7,222.8 43.0,222.7 43.2,222.6 43.4,222.6 43.6,222.5 43.8,222.4 44.0,222.3 44.3,222.3 44.5,222.2 44.7,222.1 44.9,222.0 45.1,222.0 45.3,221.9 45.6,221.8 45.8,221.7 46.0,221.6 46.2,221.6 46.4,221.5 46.6,221.4 46.9,221.3 47.1,221.3 47.3,221.2 47.5,221.1 47.7,221.0 47.9,221.0 48.2,220.9 48.4,220.8 48.6,220.7 48.8,220.6 49.0,220.6 49.3,220.5 49.5,220.4 49.7,220.3 49.9,220.3 50.1,220.2 50.3,220.1 50.6,220.0 50.8,220.0 51.0,219.9 51.2,219.8 51.4,219.7 51.6,219.6 51.9,219.6 52.1,219.5 52.3,219.4 52.5,219.3 52.7,219.2 52.9,219.2 53.2,219.1 53.4,219.0 53.6,218.9 53.8,218.9 54.0,218.8 54.3,218.7 54.5,218.6 54.7,218.5 54.9,218.5 55.1,218.4 55.3,218.3 55.6,218.2 55.8,218.2 56.0,218.1 56.2,218.0 56.4,217.9 56.6,217.8 56.9,217.8 57.1,217.7 57.3,217.6 57.5,217.5 57.7,217.4 57.9,217.4 58.2,217.3 58.4,217.2 58.6,217.1 58.8,217.1 59.0,217.0 59.2,216.9 59.5,216.8 59.7,216.7 59.9,216.7 60.1,216.6 60.3,216.5 60.6,216.4 60.8,216.3 61.0,216.3 61.2,216.2 61.4,216.1 61.6,216.0 61.9,216.0 62.1,215.9 62.3,215.8 62.5,215.7 62.7,215.6 62.9,215.6 63.2,215.5 63.4,215.4 63.6,215.3 63.8,215.2 64.0,215.2 64.2,215.1 64.5,215.0 64.7,214.9 64.9,214.8 65.1,214.8 65.3,214.7 65.5,214.6 65.8,214.5 66.0,214.5 66.2,214.4 66.7,214.2 67.4,213.9 68.1,213.7 68.7,213.5 69.4,213.2 70.0,213.0 70.7,212.8 71.3,212.5 72.0,212.3 72.6,212.0 73.3,211.8 73.9,211.6 74.6,211.3 75.3,211.1 75.9,210.8 76.6,210.6 77.2,210.4 77.9,210.1 78.5,209.9 79.2,209.7 79.8,209.4 80.5,209.2 81.1,208.9 81.8,208.7 82.5,208.5 83.1,208.2 83.8,208.0 84.4,207.7 85.1,207.5 85.7,207.3 86.4,207.0 87.0,206.8 87.7,206.6 88.3,206.3 89.0,206.1 89.7,205.8 90.3,205.6 91.0,205.4 91.6,205.1 92.3,204.9 92.9,204.7 93.6,204.4 94.2,204.2 94.9,203.9 95.5,203.7 96.2,203.5 96.9,203.2 97.5,203.0 98.2,202.7 98.8,202.5 99.5,202.3 100.1,202.0 100.8,201.8 101.4,201.6 102.1,201.3 102.7,201.1 103.4,200.8 104.1,200.6 104.7,200.4 105.4,200.1 106.0,199.9 106.7,199.6 107.3,199.4 108.0,199.2 108.6,198.9 109.3,198.7 109.9,198.4 110.6,198.2 111.3,198.0 111.9,197.7 112.6,197.5 113.2,197.3 113.9,197.0 114.5,196.8 115.2,196.5 115.8,196.3 116.5,196.1 117.1,195.8 117.8,195.6 118.5,195.3 119.1,195.1 119.8,194.9 120.4,194.6 121.1,194.4 121.7,194.2 122.4,193.9 123.0,193.7 123.7,193.4 124.3,193.2 125.0,193.0 125.7,192.7 126.3,192.5 127.0,192.2 127.6,192.0 128.3,191.8 128.9,191.5 129.6,191.3 130.2,191.1 130.9,190.8 131.5,190.6 132.2,190.3 132.9,190.1 133.5,189.9 134.2,189.6 134.8,189.4 135.5,189.1 136.1,188.9 136.8,188.7 137.4,188.4 138.1,188.2 138.7,188.0 139.4,187.7 140.1,187.5 140.7,187.2 141.4,187.0 142.0,186.8 142.7,186.5 143.3,186.3 144.0,186.0 144.6,185.8 145.3,185.6 145.9,185.3 146.6,185.1 147.3,184.8 147.9,184.6 148.6,184.4 149.2,184.1 149.9,183.9 150.5,183.7 151.2,183.4 151.8,183.2 152.5,182.9 153.1,182.7 153.8,182.5 154.5,182.2 155.1,182.0 155.8,181.7 156.4,181.5 157.1,181.3 157.7,181.0 158.4,180.8 159.0,180.5 159.7,180.3 160.3,180.1 161.0,179.8 161.7,179.6 162.3,179.4 163.0,179.1 163.6,178.9 164.3,178.6 164.9,178.4 165.6,178.2 166.2,177.9 166.9,177.7 167.5,177.4 168.2,177.2 168.9,177.0 169.5,176.7 170.2,176.5 170.8,176.3 171.5,176.0 172.1,175.8 172.8,175.5 173.4,175.3 174.1,175.1 174.7,174.8 175.4,174.6 176.1,174.3 176.7,174.1 177.4,173.9 178.0,173.6 178.7,173.4 179.3,173.1 180.0,172.9 180.6,172.7 181.3,172.4 181.9,172.2 182.6,172.0 183.3,171.7 183.9,171.5 184.6,171.2 185.2,171.0 185.9,170.8 186.5,170.5 187.2,170.3 187.8,170.0 188.5,169.8 189.1,169.6 189.8,169.3 190.5,169.1 191.1,168.8 191.8,168.6 192.4,168.4 193.1,168.1 193.7,167.9 194.4,167.7 195.0,167.4 195.7,167.2 196.3,166.9 197.0,166.7" fill="none" stroke="#22964f" stroke-width="1.15" clip-path="url(#cc)"/>
<polyline points="220.8,220.3 220.9,220.3 221.1,220.2 221.3,220.1 221.5,220.0 221.7,220.0 222.0,219.9 222.2,219.8 222.4,219.7 222.6,219.7 222.6,219.6 222.8,219.6 223.0,219.5 223.3,219.4 223.5,219.3 223.7,219.3 223.9,219.2 224.1,219.1 224.3,219.0 224.6,218.9 224.8,218.9 225.0,218.8 225.2,218.7 225.4,218.6 225.7,218.6 225.9,218.5 226.1,218.4 226.3,218.3 226.5,218.2 226.7,218.2 227.0,218.1 227.2,218.0 227.4,217.9 227.6,217.9 227.8,217.8 228.0,217.7 228.3,217.6 228.5,217.5 228.7,217.5 228.9,217.4 229.1,217.3 229.3,217.2 229.6,217.1 229.8,217.1 230.0,217.0 230.2,216.9 230.4,216.8 230.6,216.8 230.9,216.7 231.1,216.6 231.3,216.5 231.5,216.4 231.7,216.4 231.7,216.4 231.9,216.3 232.2,216.2 232.4,216.1 232.6,216.0 232.8,216.0 233.0,215.9 233.3,215.8 233.5,215.7 233.7,215.7 233.9,215.6 234.1,215.5 234.3,215.4 234.6,215.3 234.8,215.3 235.0,215.2 235.2,215.1 235.4,215.0 235.6,215.0 235.9,214.9 236.1,214.8 236.3,214.7 236.5,214.6 236.7,214.6 236.9,214.5 237.2,214.4 237.4,214.3 237.6,214.2 237.8,214.2 238.0,214.1 238.2,214.0 238.5,213.9 238.7,213.9 239.2,213.7 239.9,213.4 240.5,213.2 241.2,213.0 241.8,212.7 242.5,212.5 243.1,212.2 243.8,212.0 244.5,211.8 245.1,211.5 245.8,211.3 246.4,211.1 247.1,210.8 247.7,210.6 248.4,210.4 249.0,210.1 249.7,209.9 250.3,209.6 251.0,209.4 251.7,209.2 252.3,208.9 253.0,208.7 253.6,208.5 254.3,208.2 254.9,208.0 255.6,207.8 256.2,207.5 256.9,207.3 257.5,207.0 258.2,206.8 258.8,206.6 259.5,206.3 260.2,206.1 260.8,205.9 261.5,205.6 262.1,205.4 262.8,205.2 263.4,204.9 264.1,204.7 264.7,204.4 265.4,204.2 266.0,204.0 266.7,203.7 267.4,203.5 268.0,203.3 268.7,203.0 269.3,202.8 270.0,202.6 270.6,202.3 271.3,202.1 271.9,201.8 272.6,201.6 273.2,201.4 273.9,201.1 274.5,200.9 275.2,200.7 275.9,200.4 276.5,200.2 277.2,200.0 277.8,199.7 278.5,199.5 279.1,199.2 279.8,199.0 280.4,198.8 281.1,198.5 281.7,198.3 282.4,198.1 283.1,197.8 283.7,197.6 284.4,197.4 285.0,197.1 285.7,196.9 286.3,196.6 287.0,196.4 287.6,196.2 288.3,195.9 288.9,195.7 289.6,195.5 290.2,195.2 290.9,195.0 291.6,194.8 292.2,194.5 292.9,194.3 293.5,194.0 294.2,193.8 294.8,193.6 295.5,193.3 296.1,193.1 296.8,192.9 297.4,192.6 298.1,192.4 298.8,192.2 299.4,191.9 300.1,191.7 300.7,191.4 301.4,191.2 302.0,191.0 302.7,190.7 303.3,190.5 304.0,190.3 304.6,190.0 305.3,189.8 305.9,189.6 306.6,189.3 307.3,189.1 307.9,188.8 308.6,188.6 309.2,188.4 309.9,188.1 310.5,187.9 311.2,187.7 311.8,187.4 312.5,187.2 313.1,187.0 313.8,186.7 314.5,186.5 315.1,186.2 315.8,186.0 316.4,185.8 317.1,185.5 317.7,185.3 318.4,185.1 319.0,184.8 319.7,184.6 320.3,184.4 321.0,184.1 321.6,183.9 322.3,183.6 323.0,183.4 323.6,183.2 324.3,182.9 324.9,182.7 325.6,182.5 326.2,182.2 326.9,182.0 327.5,181.8 328.2,181.5 328.8,181.3 329.5,181.0 330.2,180.8 330.8,180.6 331.5,180.3 332.1,180.1 332.8,179.9 333.4,179.6 334.1,179.4 334.7,179.1 335.4,178.9 336.0,178.7 336.7,178.4 337.3,178.2 338.0,178.0 338.7,177.7 339.3,177.5 340.0,177.3 340.6,177.0 341.3,176.8 341.9,176.5 342.6,176.3 343.2,176.1 343.9,175.8 344.5,175.6 345.2,175.4 345.9,175.1 346.5,174.9 347.2,174.7 347.8,174.4 348.5,174.2 349.1,173.9 349.8,173.7 350.4,173.5 351.1,173.2 351.7,173.0 352.4,172.8 353.0,172.5 353.7,172.3 354.4,172.1 355.0,171.8 355.7,171.6 356.3,171.3 357.0,171.1 357.6,170.9 358.3,170.6 358.9,170.4 359.6,170.2 360.2,169.9 360.9,169.7 361.6,169.5 362.2,169.2 362.9,169.0 363.5,168.7 364.2,168.5 364.8,168.3 365.5,168.0 366.1,167.8 366.8,167.6 367.4,167.3 368.1,167.1 368.7,166.9 369.4,166.6" fill="none" stroke="#22964f" stroke-width="1.15" clip-path="url(#cd)"/>
<line x1="57.60" y1="166.40" x2="68.80" y2="166.40" stroke="#f0242e" stroke-width="1.15"/>
<text x="71.00" y="169.17" font-size="9.70" text-anchor="start" fill="#000" stroke="#000" stroke-width="0.12" font-weight="normal" >10</text>
<line x1="57.60" y1="179.20" x2="68.80" y2="179.20" stroke="#468af4" stroke-width="1.15"/>
<text x="71.00" y="181.97" font-size="9.70" text-anchor="start" fill="#000" stroke="#000" stroke-width="0.12" font-weight="normal" >5</text>
<line x1="57.60" y1="192.00" x2="68.80" y2="192.00" stroke="#22964f" stroke-width="1.15"/>
<text x="71.00" y="194.77" font-size="9.70" text-anchor="start" fill="#000" stroke="#000" stroke-width="0.12" font-weight="normal" >2</text>
<g transform="translate(56.40,153.70)"><text fill="#1c1c1c" stroke="#1c1c1c" stroke-width="0.05"><tspan x="0.00" y="0.00" font-size="10.00">(</tspan><tspan x="4.00" y="0.00" font-size="11.00" font-style="italic" font-family="Liberation Serif">&#949;</tspan><tspan x="8.80" y="1.10" font-size="7.00">L</tspan><tspan x="27.20" y="0.00" font-size="11.00" font-style="italic" font-family="Liberation Serif">&#956;</tspan><tspan x="32.90" y="1.10" font-size="7.00">c</tspan><tspan x="36.90" y="0.00" font-size="10.00">)</tspan><tspan x="46.00" y="0.00" font-size="10.00">&#915;</tspan></text><line x1="16.90" y1="-3.00" x2="23.10" y2="-3.00" stroke="#1c1c1c" stroke-width="0.75"/><line x1="41.00" y1="2.00" x2="44.60" y2="-8.40" stroke="#1c1c1c" stroke-width="0.75"/></g>
<g transform="translate(128.90,17.60)"><text fill="#1c1c1c" stroke="#1c1c1c" stroke-width="0.05"><tspan x="-0.50" y="0.00" font-size="11.00">&#916;</tspan><tspan x="8.40" y="0.00" font-size="10.00" font-style="italic">T</tspan><tspan x="22.40" y="0.00" font-size="10.00" font-style="italic">T</tspan><tspan x="29.60" y="1.20" font-size="7.00">c</tspan><tspan x="36.00" y="0.00" font-size="10.00">=</tspan><tspan x="44.60" y="0.00" font-size="10.00">0.01</tspan></text><line x1="16.80" y1="2.90" x2="21.80" y2="-7.80" stroke="#1c1c1c" stroke-width="0.75"/></g>
<g transform="translate(312.80,17.60)"><text fill="#1c1c1c" stroke="#1c1c1c" stroke-width="0.05"><tspan x="-0.50" y="0.00" font-size="11.00">&#916;</tspan><tspan x="8.40" y="0.00" font-size="10.00" font-style="italic">T</tspan><tspan x="22.40" y="0.00" font-size="10.00" font-style="italic">T</tspan><tspan x="29.60" y="1.20" font-size="7.00">c</tspan><tspan x="36.00" y="0.00" font-size="10.00">=</tspan><tspan x="43.60" y="0.00" font-size="10.00">1</tspan></text><line x1="16.80" y1="2.90" x2="21.80" y2="-7.80" stroke="#1c1c1c" stroke-width="0.75"/></g>
<g transform="translate(107.80,130.20)"><text fill="#1c1c1c" stroke="#1c1c1c" stroke-width="0.05"><tspan x="-0.50" y="0.00" font-size="11.00">&#916;</tspan><tspan x="8.40" y="0.00" font-size="10.00" font-style="italic">T</tspan><tspan x="22.40" y="0.00" font-size="10.00" font-style="italic">T</tspan><tspan x="29.60" y="1.20" font-size="7.00">c</tspan><tspan x="36.00" y="0.00" font-size="10.00">=</tspan><tspan x="44.60" y="0.00" font-size="10.00">0.01</tspan></text><line x1="16.80" y1="2.90" x2="21.80" y2="-7.80" stroke="#1c1c1c" stroke-width="0.75"/></g>
<g transform="translate(279.50,130.20)"><text fill="#1c1c1c" stroke="#1c1c1c" stroke-width="0.05"><tspan x="-0.50" y="0.00" font-size="11.00">&#916;</tspan><tspan x="8.40" y="0.00" font-size="10.00" font-style="italic">T</tspan><tspan x="22.40" y="0.00" font-size="10.00" font-style="italic">T</tspan><tspan x="29.60" y="1.20" font-size="7.00">c</tspan><tspan x="36.00" y="0.00" font-size="10.00">=</tspan><tspan x="43.60" y="0.00" font-size="10.00">1</tspan></text><line x1="16.80" y1="2.90" x2="21.80" y2="-7.80" stroke="#1c1c1c" stroke-width="0.75"/></g>
<text x="38.70" y="15.90" font-size="10.50" text-anchor="start" fill="#fff" stroke="#fff" stroke-width="0.12" font-weight="bold" >(a)</text>
<text x="211.30" y="15.90" font-size="10.50" text-anchor="start" fill="#fff" stroke="#fff" stroke-width="0.12" font-weight="bold" >(b)</text>
<text x="39.00" y="127.80" font-size="10.50" text-anchor="start" fill="#000" stroke="#000" stroke-width="0.12" font-weight="bold" >(c)</text>
<text x="211.60" y="127.80" font-size="10.50" text-anchor="start" fill="#000" stroke="#000" stroke-width="0.12" font-weight="bold" >(d)</text>
<g transform="translate(103.00,245.20)"><text fill="#1c1c1c" stroke="#1c1c1c" stroke-width="0.20"><tspan x="-0.60" y="0.00" font-size="12.50" font-style="italic">T</tspan><tspan x="7.10" y="2.50" font-size="8.50">c</tspan><tspan x="18.60" y="0.00" font-size="12.50">&#915;</tspan></text><line x1="11.90" y1="4.40" x2="17.50" y2="-9.00" stroke="#1c1c1c" stroke-width="0.90"/></g>
<g transform="translate(275.40,245.20)"><text fill="#1c1c1c" stroke="#1c1c1c" stroke-width="0.20"><tspan x="-0.60" y="0.00" font-size="12.50" font-style="italic">T</tspan><tspan x="7.10" y="2.50" font-size="8.50">c</tspan><tspan x="18.60" y="0.00" font-size="12.50">&#915;</tspan></text><line x1="11.90" y1="4.40" x2="17.50" y2="-9.00" stroke="#1c1c1c" stroke-width="0.90"/></g>
<g transform="translate(10.80,90.60) rotate(-90)"><text fill="#1c1c1c" stroke="#1c1c1c" stroke-width="0.20"><tspan x="0.00" y="0.00" font-size="12.50">(</tspan><tspan x="4.90" y="0.00" font-size="14.00" font-style="italic" font-family="Liberation Serif">&#949;</tspan><tspan x="10.60" y="1.50" font-size="8.70">L</tspan><tspan x="31.60" y="0.00" font-size="14.00" font-style="italic" font-family="Liberation Serif">&#956;</tspan><tspan x="39.20" y="1.50" font-size="8.70">c</tspan><tspan x="44.60" y="0.00" font-size="12.50">)</tspan><tspan x="57.60" y="0.00" font-size="12.50">&#915;</tspan></text><line x1="19.80" y1="-3.70" x2="28.20" y2="-3.70" stroke="#1c1c1c" stroke-width="0.90"/><line x1="51.20" y1="3.10" x2="56.20" y2="-9.90" stroke="#1c1c1c" stroke-width="0.90"/></g>
<g transform="translate(10.85,201.60) rotate(-90)"><text fill="#1c1c1c" stroke="#1c1c1c" stroke-width="0.20"><tspan x="-0.70" y="0.00" font-size="13.50">&#916;</tspan><tspan x="10.60" y="0.00" font-size="14.00" font-style="italic" font-family="Liberation Serif">&#956;</tspan><tspan x="25.50" y="0.00" font-size="12.50">&#915;</tspan><tspan x="36.80" y="1.85" font-size="8.50">max</tspan><tspan x="54.10" y="1.85" font-size="9.00" font-style="italic">J</tspan><tspan x="58.10" y="3.20" font-size="6.20">c</tspan></text><line x1="19.30" y1="3.00" x2="24.30" y2="-9.50" stroke="#1c1c1c" stroke-width="0.90"/><line x1="34.40" y1="3.20" x2="34.40" y2="-9.70" stroke="#1c1c1c" stroke-width="0.50"/></g>
<g transform="translate(412.00,96.00) rotate(-90)"><text fill="#1c1c1c" stroke="#1c1c1c" stroke-width="0.20"><tspan x="0.70" y="0.00" font-size="10.00">max</tspan><tspan x="20.60" y="-0.80" font-size="11.60">[</tspan><tspan x="24.80" y="1.20" font-size="13.00" font-style="italic">J</tspan><tspan x="31.20" y="-4.90" font-size="7.00">Lor</tspan><tspan x="29.60" y="2.80" font-size="7.50">c</tspan><tspan x="49.30" y="0.00" font-size="12.30" font-style="italic">D</tspan><tspan x="57.00" y="1.20" font-size="13.00" font-style="italic">J</tspan><tspan x="63.20" y="2.40" font-size="7.50">qb</tspan><tspan x="70.90" y="-0.80" font-size="11.60">]</tspan></text><line x1="43.10" y1="2.70" x2="48.10" y2="-8.70" stroke="#1c1c1c" stroke-width="0.80"/></g>
</svg>
</body></html>
